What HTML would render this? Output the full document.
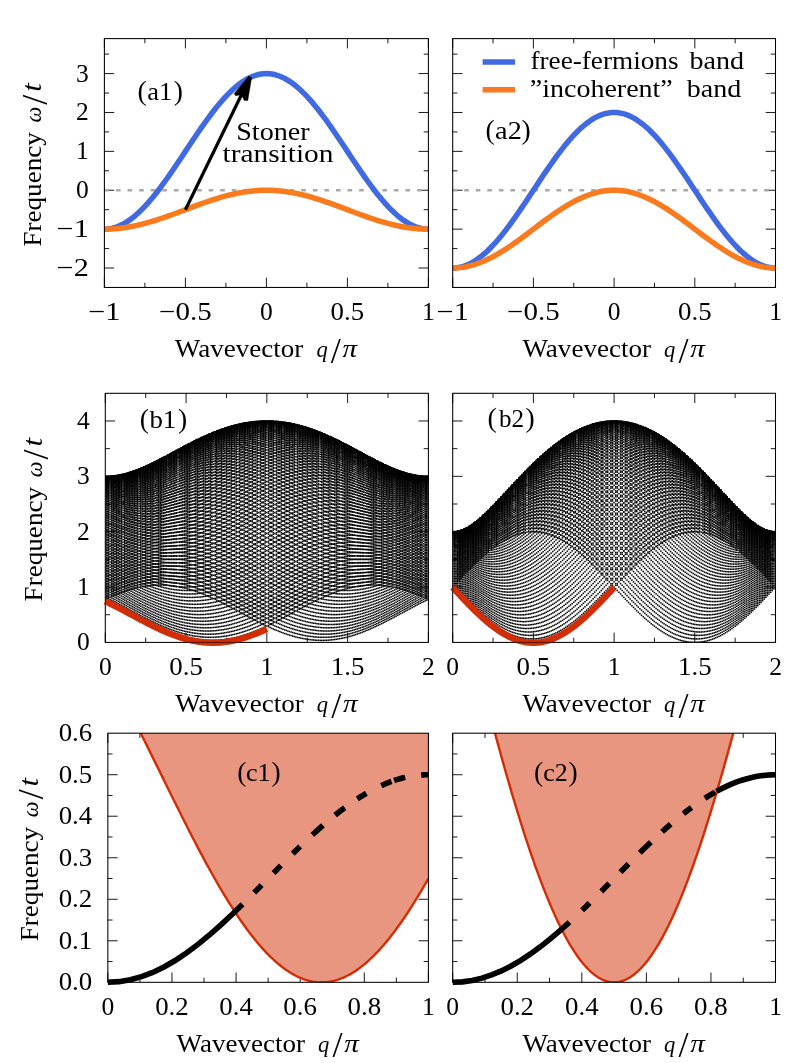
<!DOCTYPE html>
<html><head><meta charset="utf-8"><title>Figure</title>
<style>html,body{margin:0;padding:0;background:#fff}svg{display:block;will-change:transform}text{font-family:"Liberation Serif",serif;fill:#000}</style></head><body>
<svg width="789" height="1063" viewBox="0 0 789 1063">
<rect width="789" height="1063" fill="#fff"/>
<defs>
<clipPath id="cp_a1"><rect x="104.4" y="38.6" width="324" height="248.85"/></clipPath>
<clipPath id="cp_a2"><rect x="452.7" y="38.6" width="322.8" height="248.85"/></clipPath>
<clipPath id="cp_b1"><rect x="105.3" y="393.3" width="323.1" height="249.1"/></clipPath>
<clipPath id="cp_b2"><rect x="452.7" y="393.3" width="322.8" height="249.1"/></clipPath>
<clipPath id="cp_c1"><rect x="107.85" y="733.2" width="320.55" height="249.1"/></clipPath>
<clipPath id="cp_c2"><rect x="452.7" y="733.2" width="322.8" height="249.1"/></clipPath>
<marker id="d" markerUnits="userSpaceOnUse" markerWidth="20" markerHeight="20" refX="10" refY="10" overflow="visible"><rect x="2.5" y="2.5" width="15" height="15" fill="#000"/></marker>
</defs>
<path d="M104.4 287.45 v-9.8 M104.4 38.6 v9.8 M185.4 287.45 v-9.8 M185.4 38.6 v9.8 M266.4 287.45 v-9.8 M266.4 38.6 v9.8 M347.4 287.45 v-9.8 M347.4 38.6 v9.8 M428.4 287.45 v-9.8 M428.4 38.6 v9.8 M144.9 287.45 v-4.7 M144.9 38.6 v4.7 M225.9 287.45 v-4.7 M225.9 38.6 v4.7 M306.9 287.45 v-4.7 M306.9 38.6 v4.7 M387.9 287.45 v-4.7 M387.9 38.6 v4.7 M104.4 268.01 h9.8 M428.4 268.01 h-9.8 M104.4 229.13 h9.8 M428.4 229.13 h-9.8 M104.4 190.24 h9.8 M428.4 190.24 h-9.8 M104.4 151.36 h9.8 M428.4 151.36 h-9.8 M104.4 112.48 h9.8 M428.4 112.48 h-9.8 M104.4 73.59 h9.8 M428.4 73.59 h-9.8 M104.4 248.57 h4.7 M428.4 248.57 h-4.7 M104.4 209.68 h4.7 M428.4 209.68 h-4.7 M104.4 170.8 h4.7 M428.4 170.8 h-4.7 M104.4 131.92 h4.7 M428.4 131.92 h-4.7 M104.4 93.04 h4.7 M428.4 93.04 h-4.7 M104.4 54.15 h4.7 M428.4 54.15 h-4.7" fill="none" stroke="#000" stroke-width="0.9"/>
<path d="M452.7 287.45 v-9.8 M452.7 38.6 v9.8 M533.4 287.45 v-9.8 M533.4 38.6 v9.8 M614.1 287.45 v-9.8 M614.1 38.6 v9.8 M694.8 287.45 v-9.8 M694.8 38.6 v9.8 M775.5 287.45 v-9.8 M775.5 38.6 v9.8 M493.05 287.45 v-4.7 M493.05 38.6 v4.7 M573.75 287.45 v-4.7 M573.75 38.6 v4.7 M654.45 287.45 v-4.7 M654.45 38.6 v4.7 M735.15 287.45 v-4.7 M735.15 38.6 v4.7 M452.7 268.01 h9.8 M775.5 268.01 h-9.8 M452.7 229.13 h9.8 M775.5 229.13 h-9.8 M452.7 190.24 h9.8 M775.5 190.24 h-9.8 M452.7 151.36 h9.8 M775.5 151.36 h-9.8 M452.7 112.48 h9.8 M775.5 112.48 h-9.8 M452.7 73.59 h9.8 M775.5 73.59 h-9.8 M452.7 248.57 h4.7 M775.5 248.57 h-4.7 M452.7 209.68 h4.7 M775.5 209.68 h-4.7 M452.7 170.8 h4.7 M775.5 170.8 h-4.7 M452.7 131.92 h4.7 M775.5 131.92 h-4.7 M452.7 93.04 h4.7 M775.5 93.04 h-4.7 M452.7 54.15 h4.7 M775.5 54.15 h-4.7" fill="none" stroke="#000" stroke-width="0.9"/>
<path d="M105.3 642.4 v-9.8 M105.3 393.3 v9.8 M186.07 642.4 v-9.8 M186.07 393.3 v9.8 M266.85 642.4 v-9.8 M266.85 393.3 v9.8 M347.62 642.4 v-9.8 M347.62 393.3 v9.8 M428.4 642.4 v-9.8 M428.4 393.3 v9.8 M145.69 642.4 v-4.7 M145.69 393.3 v4.7 M226.46 642.4 v-4.7 M226.46 393.3 v4.7 M307.24 642.4 v-4.7 M307.24 393.3 v4.7 M388.01 642.4 v-4.7 M388.01 393.3 v4.7 M105.3 587.04 h9.8 M428.4 587.04 h-9.8 M105.3 531.69 h9.8 M428.4 531.69 h-9.8 M105.3 476.33 h9.8 M428.4 476.33 h-9.8 M105.3 420.98 h9.8 M428.4 420.98 h-9.8 M105.3 614.72 h4.7 M428.4 614.72 h-4.7 M105.3 559.37 h4.7 M428.4 559.37 h-4.7 M105.3 504.01 h4.7 M428.4 504.01 h-4.7 M105.3 448.66 h4.7 M428.4 448.66 h-4.7" fill="none" stroke="#000" stroke-width="0.9"/>
<path d="M452.7 642.4 v-9.8 M452.7 393.3 v9.8 M533.4 642.4 v-9.8 M533.4 393.3 v9.8 M614.1 642.4 v-9.8 M614.1 393.3 v9.8 M694.8 642.4 v-9.8 M694.8 393.3 v9.8 M775.5 642.4 v-9.8 M775.5 393.3 v9.8 M493.05 642.4 v-4.7 M493.05 393.3 v4.7 M573.75 642.4 v-4.7 M573.75 393.3 v4.7 M654.45 642.4 v-4.7 M654.45 393.3 v4.7 M735.15 642.4 v-4.7 M735.15 393.3 v4.7 M452.7 587.04 h9.8 M775.5 587.04 h-9.8 M452.7 531.69 h9.8 M775.5 531.69 h-9.8 M452.7 476.33 h9.8 M775.5 476.33 h-9.8 M452.7 420.98 h9.8 M775.5 420.98 h-9.8 M452.7 614.72 h4.7 M775.5 614.72 h-4.7 M452.7 559.37 h4.7 M775.5 559.37 h-4.7 M452.7 504.01 h4.7 M775.5 504.01 h-4.7 M452.7 448.66 h4.7 M775.5 448.66 h-4.7" fill="none" stroke="#000" stroke-width="0.9"/>
<path d="M107.85 982.3 v-9.8 M107.85 733.2 v9.8 M171.96 982.3 v-9.8 M171.96 733.2 v9.8 M236.07 982.3 v-9.8 M236.07 733.2 v9.8 M300.18 982.3 v-9.8 M300.18 733.2 v9.8 M364.29 982.3 v-9.8 M364.29 733.2 v9.8 M428.4 982.3 v-9.8 M428.4 733.2 v9.8 M139.91 982.3 v-4.7 M139.91 733.2 v4.7 M204.01 982.3 v-4.7 M204.01 733.2 v4.7 M268.12 982.3 v-4.7 M268.12 733.2 v4.7 M332.24 982.3 v-4.7 M332.24 733.2 v4.7 M396.34 982.3 v-4.7 M396.34 733.2 v4.7 M107.85 940.78 h9.8 M428.4 940.78 h-9.8 M107.85 899.27 h9.8 M428.4 899.27 h-9.8 M107.85 857.75 h9.8 M428.4 857.75 h-9.8 M107.85 816.23 h9.8 M428.4 816.23 h-9.8 M107.85 774.72 h9.8 M428.4 774.72 h-9.8 M107.85 961.54 h4.7 M428.4 961.54 h-4.7 M107.85 920.02 h4.7 M428.4 920.02 h-4.7 M107.85 878.51 h4.7 M428.4 878.51 h-4.7 M107.85 836.99 h4.7 M428.4 836.99 h-4.7 M107.85 795.48 h4.7 M428.4 795.48 h-4.7 M107.85 753.96 h4.7 M428.4 753.96 h-4.7" fill="none" stroke="#000" stroke-width="0.9"/>
<path d="M452.7 982.3 v-9.8 M452.7 733.2 v9.8 M517.26 982.3 v-9.8 M517.26 733.2 v9.8 M581.82 982.3 v-9.8 M581.82 733.2 v9.8 M646.38 982.3 v-9.8 M646.38 733.2 v9.8 M710.94 982.3 v-9.8 M710.94 733.2 v9.8 M775.5 982.3 v-9.8 M775.5 733.2 v9.8 M484.98 982.3 v-4.7 M484.98 733.2 v4.7 M549.54 982.3 v-4.7 M549.54 733.2 v4.7 M614.1 982.3 v-4.7 M614.1 733.2 v4.7 M678.66 982.3 v-4.7 M678.66 733.2 v4.7 M743.22 982.3 v-4.7 M743.22 733.2 v4.7 M452.7 940.78 h9.8 M775.5 940.78 h-9.8 M452.7 899.27 h9.8 M775.5 899.27 h-9.8 M452.7 857.75 h9.8 M775.5 857.75 h-9.8 M452.7 816.23 h9.8 M775.5 816.23 h-9.8 M452.7 774.72 h9.8 M775.5 774.72 h-9.8 M452.7 961.54 h4.7 M775.5 961.54 h-4.7 M452.7 920.02 h4.7 M775.5 920.02 h-4.7 M452.7 878.51 h4.7 M775.5 878.51 h-4.7 M452.7 836.99 h4.7 M775.5 836.99 h-4.7 M452.7 795.48 h4.7 M775.5 795.48 h-4.7 M452.7 753.96 h4.7 M775.5 753.96 h-4.7" fill="none" stroke="#000" stroke-width="0.9"/>
<g clip-path="url(#cp_a1)" fill="none">
<line x1="104.4" y1="190.24" x2="428.4" y2="190.24" stroke="#A9A9A9" stroke-width="2.4" stroke-dasharray="4.630 6.950"/>
</g><g fill="none">
<path d="M104.4 229.13 L107.1 229.02 L109.8 228.7 L112.5 228.17 L115.2 227.43 L117.9 226.48 L120.6 225.32 L123.3 223.96 L126 222.4 L128.7 220.65 L131.4 218.71 L134.1 216.58 L136.8 214.27 L139.5 211.8 L142.2 209.15 L144.9 206.35 L147.6 203.4 L150.3 200.3 L153 197.07 L155.7 193.71 L158.4 190.24 L161.1 186.67 L163.8 182.99 L166.5 179.23 L169.2 175.39 L171.9 171.49 L174.6 167.53 L177.3 163.53 L180 159.49 L182.7 155.43 L185.4 151.36 L188.1 147.29 L190.8 143.23 L193.5 139.19 L196.2 135.19 L198.9 131.23 L201.6 127.33 L204.3 123.49 L207 119.73 L209.7 116.06 L212.4 112.48 L215.1 109.01 L217.8 105.65 L220.5 102.42 L223.2 99.32 L225.9 96.37 L228.6 93.57 L231.3 90.92 L234 88.45 L236.7 86.14 L239.4 84.01 L242.1 82.07 L244.8 80.32 L247.5 78.76 L250.2 77.4 L252.9 76.24 L255.6 75.29 L258.3 74.55 L261 74.02 L263.7 73.7 L266.4 73.59 L269.1 73.7 L271.8 74.02 L274.5 74.55 L277.2 75.29 L279.9 76.24 L282.6 77.4 L285.3 78.76 L288 80.32 L290.7 82.07 L293.4 84.01 L296.1 86.14 L298.8 88.45 L301.5 90.92 L304.2 93.57 L306.9 96.37 L309.6 99.32 L312.3 102.42 L315 105.65 L317.7 109.01 L320.4 112.48 L323.1 116.06 L325.8 119.73 L328.5 123.49 L331.2 127.33 L333.9 131.23 L336.6 135.19 L339.3 139.19 L342 143.23 L344.7 147.29 L347.4 151.36 L350.1 155.43 L352.8 159.49 L355.5 163.53 L358.2 167.53 L360.9 171.49 L363.6 175.39 L366.3 179.23 L369 182.99 L371.7 186.67 L374.4 190.24 L377.1 193.71 L379.8 197.07 L382.5 200.3 L385.2 203.4 L387.9 206.35 L390.6 209.15 L393.3 211.8 L396 214.27 L398.7 216.58 L401.4 218.71 L404.1 220.65 L406.8 222.4 L409.5 223.96 L412.2 225.32 L414.9 226.48 L417.6 227.43 L420.3 228.17 L423 228.7 L425.7 229.02 L428.4 229.13" stroke="#4169E1" stroke-width="5.5"/>
<path d="M104.4 229.13 L107.1 229.1 L109.8 229.02 L112.5 228.89 L115.2 228.7 L117.9 228.46 L120.6 228.17 L123.3 227.83 L126 227.44 L128.7 227.01 L131.4 226.52 L134.1 225.99 L136.8 225.41 L139.5 224.79 L142.2 224.13 L144.9 223.43 L147.6 222.69 L150.3 221.92 L153 221.11 L155.7 220.27 L158.4 219.41 L161.1 218.51 L163.8 217.59 L166.5 216.65 L169.2 215.69 L171.9 214.72 L174.6 213.73 L177.3 212.73 L180 211.72 L182.7 210.7 L185.4 209.68 L188.1 208.67 L190.8 207.65 L193.5 206.64 L196.2 205.64 L198.9 204.65 L201.6 203.68 L204.3 202.72 L207 201.78 L209.7 200.86 L212.4 199.96 L215.1 199.1 L217.8 198.26 L220.5 197.45 L223.2 196.68 L225.9 195.94 L228.6 195.24 L231.3 194.58 L234 193.96 L236.7 193.38 L239.4 192.85 L242.1 192.36 L244.8 191.92 L247.5 191.53 L250.2 191.19 L252.9 190.91 L255.6 190.67 L258.3 190.48 L261 190.35 L263.7 190.27 L266.4 190.24 L269.1 190.27 L271.8 190.35 L274.5 190.48 L277.2 190.67 L279.9 190.91 L282.6 191.19 L285.3 191.53 L288 191.92 L290.7 192.36 L293.4 192.85 L296.1 193.38 L298.8 193.96 L301.5 194.58 L304.2 195.24 L306.9 195.94 L309.6 196.68 L312.3 197.45 L315 198.26 L317.7 199.1 L320.4 199.96 L323.1 200.86 L325.8 201.78 L328.5 202.72 L331.2 203.68 L333.9 204.65 L336.6 205.64 L339.3 206.64 L342 207.65 L344.7 208.67 L347.4 209.68 L350.1 210.7 L352.8 211.72 L355.5 212.73 L358.2 213.73 L360.9 214.72 L363.6 215.69 L366.3 216.65 L369 217.59 L371.7 218.51 L374.4 219.41 L377.1 220.27 L379.8 221.11 L382.5 221.92 L385.2 222.69 L387.9 223.43 L390.6 224.13 L393.3 224.79 L396 225.41 L398.7 225.99 L401.4 226.52 L404.1 227.01 L406.8 227.44 L409.5 227.83 L412.2 228.17 L414.9 228.46 L417.6 228.7 L420.3 228.89 L423 229.02 L425.7 229.1 L428.4 229.13" stroke="#F97B1E" stroke-width="5.5"/>
</g>
<g clip-path="url(#cp_a2)" fill="none">
<line x1="452.7" y1="190.24" x2="775.5" y2="190.24" stroke="#A9A9A9" stroke-width="2.4" stroke-dasharray="4.613 6.924"/>
</g><g fill="none">
<path d="M452.7 268.01 L455.39 267.9 L458.08 267.58 L460.77 267.05 L463.46 266.31 L466.15 265.36 L468.84 264.2 L471.53 262.84 L474.22 261.29 L476.91 259.53 L479.6 257.59 L482.29 255.46 L484.98 253.16 L487.67 250.68 L490.36 248.03 L493.05 245.23 L495.74 242.28 L498.43 239.18 L501.12 235.95 L503.81 232.6 L506.5 229.13 L509.19 225.55 L511.88 221.87 L514.57 218.11 L517.26 214.27 L519.95 210.37 L522.64 206.41 L525.33 202.41 L528.02 198.37 L530.71 194.31 L533.4 190.24 L536.09 186.17 L538.78 182.11 L541.47 178.08 L544.16 174.07 L546.85 170.12 L549.54 166.21 L552.23 162.37 L554.92 158.61 L557.61 154.94 L560.3 151.36 L562.99 147.89 L565.68 144.53 L568.37 141.3 L571.06 138.21 L573.75 135.25 L576.44 132.45 L579.13 129.81 L581.82 127.33 L584.51 125.02 L587.2 122.9 L589.89 120.95 L592.58 119.2 L595.27 117.64 L597.96 116.28 L600.65 115.13 L603.34 114.18 L606.03 113.43 L608.72 112.9 L611.41 112.58 L614.1 112.48 L616.79 112.58 L619.48 112.9 L622.17 113.43 L624.86 114.18 L627.55 115.13 L630.24 116.28 L632.93 117.64 L635.62 119.2 L638.31 120.95 L641 122.9 L643.69 125.02 L646.38 127.33 L649.07 129.81 L651.76 132.45 L654.45 135.25 L657.14 138.21 L659.83 141.3 L662.52 144.53 L665.21 147.89 L667.9 151.36 L670.59 154.94 L673.28 158.61 L675.97 162.37 L678.66 166.21 L681.35 170.12 L684.04 174.07 L686.73 178.08 L689.42 182.11 L692.11 186.17 L694.8 190.24 L697.49 194.31 L700.18 198.37 L702.87 202.41 L705.56 206.41 L708.25 210.37 L710.94 214.27 L713.63 218.11 L716.32 221.87 L719.01 225.55 L721.7 229.13 L724.39 232.6 L727.08 235.95 L729.77 239.18 L732.46 242.28 L735.15 245.23 L737.84 248.03 L740.53 250.68 L743.22 253.16 L745.91 255.46 L748.6 257.59 L751.29 259.53 L753.98 261.29 L756.67 262.84 L759.36 264.2 L762.05 265.36 L764.74 266.31 L767.43 267.05 L770.12 267.58 L772.81 267.9 L775.5 268.01" stroke="#4169E1" stroke-width="5.5"/>
<path d="M452.7 268.01 L455.39 267.96 L458.08 267.8 L460.77 267.53 L463.46 267.16 L466.15 266.68 L468.84 266.11 L471.53 265.43 L474.22 264.65 L476.91 263.77 L479.6 262.8 L482.29 261.74 L484.98 260.58 L487.67 259.34 L490.36 258.02 L493.05 256.62 L495.74 255.14 L498.43 253.6 L501.12 251.98 L503.81 250.3 L506.5 248.57 L509.19 246.78 L511.88 244.94 L514.57 243.06 L517.26 241.14 L519.95 239.19 L522.64 237.21 L525.33 235.21 L528.02 233.19 L530.71 231.16 L533.4 229.13 L536.09 227.09 L538.78 225.06 L541.47 223.04 L544.16 221.04 L546.85 219.06 L549.54 217.11 L552.23 215.19 L554.92 213.31 L557.61 211.47 L560.3 209.68 L562.99 207.95 L565.68 206.27 L568.37 204.66 L571.06 203.11 L573.75 201.63 L576.44 200.23 L579.13 198.91 L581.82 197.67 L584.51 196.52 L587.2 195.45 L589.89 194.48 L592.58 193.6 L595.27 192.83 L597.96 192.15 L600.65 191.57 L603.34 191.09 L606.03 190.72 L608.72 190.46 L611.41 190.3 L614.1 190.24 L616.79 190.3 L619.48 190.46 L622.17 190.72 L624.86 191.09 L627.55 191.57 L630.24 192.15 L632.93 192.83 L635.62 193.6 L638.31 194.48 L641 195.45 L643.69 196.52 L646.38 197.67 L649.07 198.91 L651.76 200.23 L654.45 201.63 L657.14 203.11 L659.83 204.66 L662.52 206.27 L665.21 207.95 L667.9 209.68 L670.59 211.47 L673.28 213.31 L675.97 215.19 L678.66 217.11 L681.35 219.06 L684.04 221.04 L686.73 223.04 L689.42 225.06 L692.11 227.09 L694.8 229.13 L697.49 231.16 L700.18 233.19 L702.87 235.21 L705.56 237.21 L708.25 239.19 L710.94 241.14 L713.63 243.06 L716.32 244.94 L719.01 246.78 L721.7 248.57 L724.39 250.3 L727.08 251.98 L729.77 253.6 L732.46 255.14 L735.15 256.62 L737.84 258.02 L740.53 259.34 L743.22 260.58 L745.91 261.74 L748.6 262.8 L751.29 263.77 L753.98 264.65 L756.67 265.43 L759.36 266.11 L762.05 266.68 L764.74 267.16 L767.43 267.53 L770.12 267.8 L772.81 267.96 L775.5 268.01" stroke="#F97B1E" stroke-width="5.5"/>
</g>
<line x1="185.4" y1="209.68" x2="247.67" y2="81.99" stroke="#000" stroke-width="3.2"/>
<path d="M248.83 75.9 L251.62 77.67 L247.81 100.49 L244.27 100.49 L242.74 97.45 L240.21 94.91 L235.65 95.67 L234.13 93.64 Z" fill="#000" stroke="#000" stroke-width="0.4" stroke-linejoin="round"/>
<line x1="482.6" y1="62" x2="515.1" y2="62" stroke="#4169E1" stroke-width="5.5"/>
<line x1="482.6" y1="89.8" x2="515.1" y2="89.8" stroke="#F97B1E" stroke-width="5.5"/>
<g clip-path="url(#cp_b1)"><path transform="scale(0.1)" d="M1053 4763v1 1 2 3 4 4 5 6 7 8 8 10 10 10 12 12 13 14 14 15 16 16 17 17 19 18 20 19 21 21 21 22 22 23 23 23 24 24 24 25 25 25 26 25 26 26 26 26 26 26 26 26 26 26 26 25 26 25 25 25 25 24 24 24 24 23M1069 4763v1 1 1 2 1 2 1 3 1 4 1 4 2 4 3 5 2 6 2 6 3 7 3 7 4 7 4 8 4 8 4 9 5 9 5 10 5 10 5 11 5 11 6 11 6 12 6 13 6 13 6 13 7 13 7 14 6 15 7 14 7 15 7 15 8 15 8 15 8 16 8 16 8 16 8 17 8 16 9 16 9 17 8 17 9 17 8 17 9 17 9 17 9 17 9 17 9 17 9 17 9 17 9 17 9 17 9 17 9 17 8 17 9 17 8 17 8 17 8 16 8 16 9 15 8 16 8 15 8 15M1085 4763v1 1 1 1 1 2 2 2 2 3 2 4 2 4 2 5 3 5 3 6 3 6 4 6 4 7 4 8 4 9 4 9 4 10 4 10 5 10 6 10 6 11 6 11 6 12 6 12 6 13 7 13 6 14 6 14 7 14 7 15 7 15 7 15 8 15 8 15 8 16 8 16 8 16 8 16 9 16 8 17 9 16 9 17 8 18 8 17 9 17 9 17 9 17 9 17 9 17 9 17 9 18 8 18 8 17 9 17 9 17 8 17 9 17 8 17 8 17 8 16 8 17 8 16 8 15 8 16 7 23M1101 4762v1 2 3 4 4 6 6 7 7 9 9 10 11 11 13 13 13 15 15 15 17 17 17 18 19 19 1 19 21 21 21 22 22 23 23 23 1 23 24 25 24 1 24 1 25 25 26 25 1 25 26 26 1 25 1 26 26 26 26 26 26 25 1 25 25 1 25 25 24 1 24 24 24 23 23 23M1118 4760v1 1 1 2 1 2 1 3 2 3 2 3 3 4 2 5 3 5 3 6 3 6 4 6 4 7 4 8 4 9 4 9 5 9 5 9 6 10 5 11 5 11 6 11 6 12 6 13 6 13 6 13 7 13 7 14 7 14 7 14 8 14 8 15 8 15 8 15 8 16 8 16 8 16 8 16 9 16 9 16 9 17 9 16 9 17 9 17 9 17 9 17 9 17 9 17 9 17 9 17 9 17 10 17 9 17 9 16 9 17 9 17 9 16 9 16 9 16 9 16 8 16 9 15 9 15 8 16 23 22M1134 4759v1 1 1 1 1 3 1 3 1 3 2 4 2 4 2 6 2 6 2 6 3 7 3 7 3 8 4 8 4 9 3 10 4 10 4 10 5 11 4 12 5 11 5 13 5 12 6 13 6 13 6 13 6 15 6 14 7 14 7 15 7 15 7 16 6 17 7 16 7 16 8 17 7 17 7 17 8 17 8 18 7 18 8 17 8 18 8 18 8 18 8 18 8 18 8 19 8 18 8 18 8 18 8 18 8 18 8 18 8 18 8 18 7 18 8 17 8 17 8 17 7 17 8 17 7 16 8 23 23 22M1150 4757v1 1 1 1 2 1 3 5 5 6 7 8 8 1 8 1 9 1 10 1 11 12 1 12 1 13 14 1 14 1 15 1 15 1 16 1 17 1 17 1 18 1 19 1 19 1 19 1 20 1 21 1 21 1 21 1 22 1 22 1 23 1 23 1 23 1 24 1 23 2 24 1 24 1 24 2 24 2 24 1 25 1 25 2 24 2 25 1 25 1 25 2 25 1 25 1 25 1 25 1 25 1 25 1 24 1 24 2 24 1 23 2 23 1 23 2 22 2 22 23 23 22M1166 4755v1 1 1 1 1 2 2 2 2 3 2 3 3 4 3 4 3 5 4 5 4 5 4 7 4 7 4 7 6 7 5 8 6 8 6 9 6 9 7 9 7 10 7 10 8 10 8 11 8 11 8 12 8 12 8 12 9 13 9 12 10 13 9 13 10 13 10 14 9 14 10 14 11 14 10 15 10 15 10 15 11 14 11 15 11 15 11 15 11 15 11 15 11 16 11 15 11 15 11 16 11 15 11 15 11 15 11 16 10 15 11 15 11 15 10 15 11 14 11 14 10 15 10 14 10 14 23 24 22 23M1182 4752v1 1 1 2 3 1 3 1 4 1 4 2 5 1 6 2 6 2 7 2 8 2 8 3 8 3 9 3 10 3 10 3 12 3 11 4 12 3 13 3 14 3 14 4 14 4 15 4 15 4 16 4 16 4 17 4 17 5 17 5 17 5 18 5 18 5 19 5 19 5 19 5 19 6 19 6 19 6 20 5 20 6 20 6 20 6 20 6 21 5 21 5 21 6 21 5 21 6 21 5 21 5 21 6 21 5 21 5 21 5 20 6 20 5 21 5 20 5 20 5 19 5 20 5 24 23 23 23 22M1198 4749v1 1 1 1 2 1 3 1 3 1 5 1 5 1 6 1 6 2 7 2 7 2 8 2 9 2 10 2 10 2 11 3 11 3 12 2 13 3 13 3 13 3 14 3 15 3 16 3 16 3 16 4 16 4 17 4 17 4 18 4 18 4 19 4 19 4 19 4 20 4 20 4 21 4 20 5 20 5 21 4 21 5 21 5 21 5 21 5 21 5 22 4 22 5 22 4 22 5 22 5 21 5 22 4 22 5 22 4 22 4 22 4 22 4 21 5 21 4 21 4 21 4 20 4 20 24 24 23 22 23M1215 4745v1 1 1 1 1 1 2 2 2 2 3 3 2 4 3 4 3 4 4 5 4 5 4 6 5 6 5 6 6 7 5 8 6 7 7 8 6 9 7 9 7 9 8 10 7 10 8 11 8 11 8 11 9 12 8 12 9 12 10 12 10 12 10 13 10 13 10 13 11 13 11 14 10 14 11 14 11 14 11 15 11 14 11 15 11 15 11 15 12 15 11 15 12 15 11 15 12 15 11 16 11 15 12 15 11 15 12 15 11 15 11 15 11 15 11 15 11 14 11 15 10 15 10 14 11 24 24 23 23 23 22M1231 4742v1 1 3 3 4 1 4 1 5 7 7 1 8 9 10 10 12 12 13 13 15 15 15 1 16 17 17 1 18 19 19 1 19 1 20 21 22 22 22 1 22 1 23 24 24 24 1 24 1 24 1 25 26 26 26 26 26 1 26 27 26 1 26 1 26 27 26 1 26 26 1 26 26 1 25 1 25 1 25 25 1 25 24 1 24 25 24 23 23 23 22M1247 4738v1 1 1 1 2 1 3 1 3 2 3 3 3 3 4 3 5 3 6 3 6 4 6 4 7 5 7 5 7 5 8 6 8 6 9 6 9 6 10 7 10 7 10 7 11 7 12 7 12 8 12 8 12 8 13 8 13 9 13 9 14 9 13 10 14 9 14 10 14 10 15 10 15 10 15 10 15 10 16 10 16 10 16 10 16 11 15 11 16 11 16 11 16 10 16 11 16 11 16 11 16 11 16 11 16 10 16 11 16 10 16 11 15 11 15 11 15 10 15 11 15 10 15 24 24 24 24 23 22 22M1263 4734v1 2 1 2 1 3 4 1 5 1 5 1 6 1 7 1 8 1 8 2 8 2 9 2 10 2 11 2 11 2 12 3 12 2 14 2 14 2 15 2 15 3 15 3 16 3 16 3 17 3 18 3 18 3 18 4 18 4 19 4 19 4 19 4 20 4 21 3 21 4 21 4 21 4 22 4 22 4 22 4 22 4 22 5 22 4 23 4 23 4 23 4 23 4 23 4 23 4 23 4 22 5 22 5 22 4 23 4 22 4 23 4 22 4 21 4 22 4 21 4 25 25 24 24 23 23 23 22M1279 4729v1 1 1 2 1 2 1 3 2 3 2 4 2 5 2 5 2 6 3 6 3 7 3 8 3 8 4 9 3 10 4 9 4 11 4 11 5 11 5 11 5 12 6 12 6 13 5 14 6 14 6 14 6 15 6 15 7 15 7 16 6 16 7 17 7 16 8 17 7 17 7 18 7 18 8 18 7 19 7 19 7 19 8 18 8 19 8 19 8 19 8 19 8 19 8 19 8 19 8 19 8 19 9 19 8 19 8 18 8 19 8 19 7 19 8 18 8 18 8 18 7 18 25 24 25 24 23 23 23 22M1295 4724v1 1 1 2 1 2 1 3 2 3 2 4 2 5 2 6 1 7 2 7 2 8 2 9 2 9 3 10 3 10 3 11 3 11 4 11 4 12 4 13 4 13 4 14 5 14 4 15 5 15 5 15 5 16 5 17 5 17 5 18 5 18 5 18 6 18 6 18 6 19 6 19 6 19 6 20 6 20 6 20 6 21 6 20 6 21 6 21 6 21 6 21 7 21 6 21 6 21 6 21 7 21 6 21 6 21 6 21 6 21 6 21 6 20 6 20 6 20 6 20 6 25 25 25 24 24 24 23 22 22M1311 4719v1 1 1 1 2 1 3 1 4 1 4 2 4 2 6 2 6 2 6 3 7 3 7 3 9 3 9 3 9 4 10 4 10 4 11 4 12 4 12 5 12 5 13 5 14 4 15 5 14 5 15 6 15 6 16 5 17 5 17 6 17 6 17 6 18 6 18 7 18 6 19 7 18 7 19 7 19 7 19 7 20 7 19 7 20 7 20 7 21 7 20 7 20 7 21 7 20 7 21 7 20 7 20 8 20 7 20 7 20 7 20 7 20 7 19 7 20 6 20 6 19 26 25 25 24 24 23 23 23 22M1328 4713v1 1 2 1 2 1 3 1 3 2 4 1 5 2 5 2 7 2 6 3 7 2 9 2 9 3 9 3 10 3 10 4 11 3 12 3 13 3 13 4 13 5 13 5 14 4 15 5 15 4 16 5 16 5 17 5 17 5 17 6 17 6 18 5 19 5 19 6 19 6 19 6 20 6 19 7 20 6 20 6 21 6 20 7 21 6 21 6 21 7 21 6 21 7 21 6 21 7 21 7 21 6 21 7 21 6 21 7 20 7 21 6 20 7 20 6 21 6 20 6 26 25 25 25 25 24 23 23 23 22M1344 4708v1 1 1 2 1 2 1 3 2 3 2 4 2 5 2 6 2 6 3 7 2 8 3 8 3 8 4 9 4 9 4 10 4 11 4 12 4 12 5 12 5 12 6 13 5 14 5 14 6 14 6 15 6 16 6 15 7 16 7 16 7 16 7 17 7 18 7 17 8 17 8 18 7 19 7 19 8 18 8 19 8 19 8 19 8 19 8 20 8 19 8 20 8 20 8 20 8 20 8 19 8 20 8 20 8 19 9 19 8 19 8 20 7 20 7 19 8 19 7 19 26 26 25 25 24 24 24 23 22 22M1360 4702v1 1 1 2 3 1 4 5 1 5 1 6 1 7 1 7 2 8 1 9 2 9 2 10 2 10 3 11 2 12 2 13 2 14 2 14 3 14 3 15 3 15 4 16 3 16 4 17 3 18 3 18 4 18 4 19 4 19 4 20 4 20 4 20 4 21 4 22 4 21 4 22 5 22 4 22 5 22 5 22 5 23 4 23 5 23 4 24 4 23 5 23 5 23 5 23 5 23 5 23 5 23 5 23 5 23 4 23 5 23 4 23 4 23 4 22 5 26 26 26 25 25 25 24 23 23 23 22M1376 4696v1 1 1 1 2 1 3 2 2 3 3 3 3 3 5 3 5 3 6 4 6 4 6 5 7 5 7 5 8 5 9 6 8 6 10 6 10 6 11 7 10 7 11 8 11 8 12 8 12 8 13 8 13 9 13 9 13 9 14 10 14 9 15 9 15 10 15 10 15 10 16 10 16 10 16 11 16 11 16 11 16 11 16 11 17 11 17 11 16 12 16 12 17 11 17 11 17 11 17 12 16 12 17 11 17 11 17 11 16 12 16 11 16 12 16 11 16 11 16 26 26 26 25 25 25 24 24 23 23 22M1392 4689v1 1 2 3 4 5 6 7 7 8 1 9 10 11 11 13 13 14 15 16 16 17 18 18 19 20 20 1 20 1 21 22 23 23 24 24 25 25 25 1 25 1 26 26 27 27 28 27 1 27 28 28 28 1 28 28 29 28 28 1 28 28 28 28 28 27 1 27 27 27 27 26 26 25 26 24 24 24 23 23 22M1408 4683v1 1 1 1 2 2 2 2 3 2 3 3 4 3 4 3 5 4 5 4 6 5 6 5 7 5 7 6 7 6 9 5 9 7 9 6 10 7 10 7 11 7 11 8 12 7 12 9 12 8 13 9 12 9 14 9 13 10 14 9 15 9 15 10 15 10 15 10 15 11 16 10 16 11 16 11 16 11 16 11 16 12 16 12 16 12 16 12 17 11 17 12 17 11 17 12 17 11 17 12 17 12 17 11 17 12 16 12 17 11 17 11 17 11 16 11 17 11 27 26 27 26 25 26 24 25 24 23 23 22M1425 4676v1 1 1 2 1 2 1 4 1 4 1 5 2 5 2 6 2 7 2 8 2 8 3 9 2 10 3 10 3 11 3 11 4 12 3 13 3 14 4 13 4 15 4 15 4 15 5 16 4 17 4 17 5 17 5 18 5 18 5 19 5 19 6 19 6 19 6 20 6 20 6 20 6 21 6 21 6 22 6 21 7 21 6 22 7 22 6 22 6 23 6 22 7 22 7 22 6 23 6 23 6 23 6 22 7 22 6 22 7 22 6 22 6 22 6 22 6 21 27 27 27 26 25 26 25 24 24 23 23 22M1441 4669v1 1 1 2 1 3 4 1 5 6 1 6 1 7 1 8 1 9 1 9 2 10 1 11 2 11 2 12 2 13 2 14 2 14 2 15 2 16 2 16 3 16 3 17 3 18 2 19 3 18 3 20 3 20 3 20 3 21 3 22 3 22 3 22 4 22 3 23 4 23 3 24 4 23 4 24 4 24 3 25 4 24 4 25 4 24 4 25 4 25 4 25 4 25 4 25 4 25 4 25 4 25 4 25 4 25 4 24 4 25 3 25 4 24 3 28 27 27 27 26 26 26 25 24 24 24 23 22M1457 4662v1 1 1 1 2 2 2 2 3 2 3 4 3 4 3 5 4 5 4 5 5 6 5 6 6 7 6 7 6 8 6 8 7 9 7 9 8 9 8 10 8 10 9 11 9 11 9 11 10 11 10 12 10 13 10 13 10 13 11 13 12 13 11 14 12 13 13 13 13 14 12 15 12 15 13 14 13 15 13 15 13 15 14 15 13 16 13 16 13 16 13 16 13 16 14 15 14 15 14 16 13 16 14 15 14 15 14 15 14 15 13 16 13 15 13 15 13 28 28 27 26 27 26 25 26 24 24 24 23 22M1473 4654v1 1 2 1 2 1 3 1 4 1 5 1 6 1 7 1 7 2 8 2 8 2 9 3 9 3 10 3 11 3 11 4 12 3 13 3 14 3 14 4 15 4 15 4 16 4 16 5 16 5 17 5 17 5 18 5 19 5 19 5 19 6 20 5 20 6 20 6 21 6 21 6 21 6 21 6 22 6 22 7 22 6 23 6 22 7 22 7 23 6 23 7 22 7 23 6 23 7 23 6 23 7 23 6 23 7 22 7 23 6 22 7 22 6 23 6 22 28 27 28 27 26 26 26 25 25 24 24 23 23M1489 4647v1 3 3 4 5 1 5 1 6 1 7 9 9 1 10 11 1 11 1 12 1 13 1 14 1 14 2 15 1 16 1 17 1 17 2 18 1 19 1 19 2 20 1 21 1 21 2 21 2 22 2 22 2 23 2 24 1 24 2 25 2 24 2 26 1 26 2 26 2 26 2 26 2 27 2 27 2 27 2 27 3 27 2 28 2 27 2 28 2 28 2 27 2 28 2 28 2 27 2 28 2 27 2 27 2 27 2 27 2 28 28 28 28 27 27 26 26 25 25 24 24 23 23M1505 4639v1 1 2 1 2 1 3 1 4 2 4 2 5 2 5 3 6 3 7 3 7 4 7 4 9 4 9 4 10 4 10 5 11 5 11 6 11 6 12 6 13 6 13 7 13 7 14 7 14 8 14 8 15 8 15 8 16 9 16 8 17 8 17 9 17 9 18 9 18 9 18 9 18 10 18 10 19 9 19 10 19 10 19 10 20 10 19 10 20 10 20 10 20 10 20 10 20 10 20 10 20 10 19 11 19 10 20 10 20 10 19 10 19 10 19 10 29 28 28 28 27 27 26 26 26 25 24 24 23 23M1521 4631v1 2 2 2 2 2 2 2 4 2 4 3 5 3 5 3 6 4 6 4 7 5 7 5 7 6 8 6 8 7 9 6 10 6 11 7 10 8 11 7 12 8 12 8 12 9 12 9 13 9 14 9 14 10 14 10 14 10 15 10 15 11 15 11 16 11 16 11 16 11 17 11 17 11 17 12 17 12 17 12 17 12 17 13 17 12 18 12 18 12 18 12 18 13 17 13 18 12 18 12 18 12 18 12 18 12 18 12 18 12 17 12 18 12 17 29 28 28 28 28 27 26 26 26 25 25 24 23 23M1538 4623v1 2 3 3 1 4 1 5 1 5 2 6 1 7 2 8 1 9 2 9 2 10 2 11 2 12 2 12 3 13 3 13 3 14 3 15 3 15 4 16 3 17 4 17 4 17 4 18 4 19 4 20 4 20 4 20 5 20 5 21 5 21 5 22 5 22 5 23 5 23 5 23 5 24 5 24 5 24 5 24 6 24 6 24 5 25 6 24 6 25 5 25 6 25 5 25 6 25 5 25 6 24 6 25 5 25 5 25 5 25 5 24 5 24 29 29 29 28 27 27 27 26 26 26 24 24 24 23M1554 4615v1 2 3 4 4 1 5 7 8 8 10 10 11 1 11 1 13 14 14 1 15 16 1 17 18 19 19 1 19 1 21 21 1 22 23 23 1 24 25 25 1 25 1 25 1 26 1 27 1 27 28 1 27 1 28 1 28 1 29 1 29 1 29 1 29 1 29 1 30 1 29 1 30 1 30 1 30 30 1 30 1 30 1 29 1 29 1 30 1 29 1 28 1 30 29 29 29 28 28 27 27 26 26 26 25 24 24 23M1570 4607v1 2 2 1 3 1 4 1 5 1 5 2 6 2 6 2 8 2 8 3 9 2 10 3 10 3 11 3 12 3 12 4 13 4 13 4 14 5 14 5 15 4 16 5 17 4 17 5 18 5 18 5 19 5 19 6 19 6 20 6 20 6 21 6 21 6 21 7 21 7 22 6 23 6 23 6 23 7 23 7 23 7 23 7 24 6 24 7 24 7 24 7 24 7 24 7 24 7 24 7 24 6 25 6 24 7 24 7 23 7 24 6 24 6 30 30 29 28 29 28 27 28 26 26 26 25 24 24 23M1586 4599v1 1 1 2 1 3 1 3 2 4 2 5 2 5 3 6 3 6 4 7 4 7 5 7 5 8 6 8 6 9 6 10 6 11 6 11 7 11 8 11 8 12 8 13 8 13 8 14 9 13 9 15 9 15 9 15 10 15 10 16 10 17 10 16 11 17 10 17 11 18 11 17 11 18 12 18 11 18 12 18 12 18 12 19 12 19 12 18 12 19 13 19 12 19 12 19 12 19 12 19 13 19 12 19 12 19 12 19 12 19 11 19 12 18 12 30 30 29 29 29 28 28 27 27 26 26 25 25 24 23M1602 4590v1 1 1 1 1 2 2 2 3 3 2 4 3 4 3 5 4 5 5 5 5 6 5 7 6 7 6 7 7 8 7 8 8 9 7 10 8 10 8 10 9 11 9 11 10 11 10 12 10 12 11 13 10 13 12 13 11 14 12 14 12 14 12 15 12 15 13 15 13 15 13 15 14 16 13 16 14 16 13 17 14 16 14 17 14 17 14 17 14 17 14 17 14 17 15 17 14 17 15 17 14 17 15 17 14 17 15 16 15 17 14 17 14 16 14 17 30 30 29 30 28 29 28 27 27 27 26 25 25 24 23M1618 4582v1 1 2 1 2 1 3 2 4 2 4 2 5 3 5 3 7 3 7 3 8 4 8 4 9 4 10 4 10 5 11 5 11 6 12 6 12 6 13 6 14 6 14 7 14 8 14 8 15 8 16 7 17 8 16 9 17 8 18 8 18 9 18 9 19 9 19 9 19 10 19 10 19 10 20 10 20 10 20 10 21 10 21 10 21 10 21 11 21 10 21 11 21 10 22 10 21 11 21 11 21 10 22 10 21 11 21 10 21 10 21 11 20 10 21 30 31 29 30 29 28 29 27 27 27 26 26 25 24 24M1635 4573v1 1 2 1 3 1 3 1 5 1 5 2 5 2 7 2 7 2 8 3 9 2 10 3 10 3 11 3 12 3 13 3 13 4 14 4 14 4 15 4 16 5 16 4 17 5 18 5 18 5 18 5 20 5 19 6 20 6 20 6 21 6 21 6 22 6 22 6 23 6 23 7 23 6 24 6 24 7 24 6 25 6 25 6 25 7 25 6 25 7 25 7 25 7 25 7 25 7 25 7 25 7 25 7 25 7 25 7 24 7 25 7 24 7 24 31 30 30 30 29 29 28 28 28 26 27 25 25 25 24M1651 4565v2 2 4 4 1 4 1 6 1 6 1 8 1 8 2 9 1 10 2 10 2 12 1 13 2 13 2 14 2 15 2 15 3 16 2 17 3 18 2 18 3 19 3 20 2 21 3 21 3 21 3 22 4 22 3 24 3 24 3 24 4 24 4 25 3 26 3 26 4 26 4 26 4 27 4 27 3 28 4 27 4 28 4 28 4 28 4 28 4 28 4 28 4 29 4 28 4 28 4 29 3 29 4 28 4 28 3 28 4 28 3 28 31 30 31 30 29 29 29 28 27 27 27 26 25 25 24M1667 4556v1 1 3 3 5 5 1 6 7 1 8 10 10 1 11 12 1 12 1 14 15 1 15 1 16 1 17 1 18 1 18 1 20 1 20 1 21 1 21 1 23 1 23 1 24 1 24 1 25 1 26 1 26 1 27 1 27 1 28 1 28 2 28 1 29 1 29 2 29 2 29 2 30 1 31 1 31 1 31 1 31 1 31 2 31 1 31 2 31 1 32 1 31 2 31 1 31 1 31 2 30 2 30 2 30 1 30 32 30 31 30 30 29 29 28 28 27 27 26 26 24 24M1683 4547v1 1 3 4 4 6 7 7 9 10 10 12 12 1 13 14 1 15 16 17 18 19 20 20 1 21 22 23 23 1 24 25 25 1 25 1 26 1 27 28 28 1 28 1 29 30 30 1 30 31 1 31 31 1 31 1 31 1 32 32 1 32 33 33 32 1 32 1 32 1 32 33 32 1 32 32 32 32 31 31 31 30 30 30 29 28 28 28 27 26 26 25 24M1699 4539v2 2 4 5 5 1 6 8 8 1 9 1 10 11 1 12 1 13 1 13 1 15 1 15 1 16 1 18 1 18 1 19 1 19 1 21 1 21 1 22 1 23 1 23 2 24 1 24 2 25 1 26 1 27 1 27 1 28 1 28 2 28 1 29 2 28 2 29 2 30 2 29 2 30 2 31 1 31 2 31 2 31 1 31 2 32 1 32 1 32 2 31 2 31 2 31 2 31 2 31 2 30 2 31 2 30 2 32 32 31 31 30 31 29 30 28 29 27 27 27 26 25 24M1715 4530v1 1 3 3 1 4 6 6 1 7 1 8 1 9 10 1 11 1 12 1 13 1 13 2 14 1 15 2 16 1 17 2 17 2 18 2 19 2 20 2 20 2 22 1 23 2 22 2 24 2 24 2 24 3 25 2 26 2 26 2 27 2 28 2 28 2 28 2 29 2 29 3 29 2 30 2 30 2 30 3 30 3 30 3 30 3 30 3 31 2 31 3 30 3 31 2 31 3 30 3 31 2 31 2 31 2 30 3 30 2 33 32 31 31 31 31 30 29 29 29 28 27 27 26 25 25M1732 4521v1 1 1 2 4 4 1 5 1 6 8 9 9 1 10 1 11 1 12 1 13 1 14 1 14 2 15 1 16 2 17 2 17 2 18 2 19 2 20 2 21 2 21 2 23 2 22 3 23 2 24 3 24 3 25 2 26 2 27 2 27 2 28 2 28 2 28 3 29 2 29 3 29 3 29 3 30 2 30 3 30 3 30 3 31 3 30 3 31 3 31 2 31 3 31 3 31 2 31 3 31 3 30 3 30 3 30 3 30 3 32 32 32 32 31 31 30 30 29 28 29 27 27 26 26 25M1748 4513v2 2 1 3 5 6 6 1 7 1 8 1 9 1 10 1 11 1 12 1 13 1 14 1 15 1 16 1 16 2 17 1 18 2 19 1 20 2 20 2 21 2 21 2 23 2 23 2 24 2 24 2 25 2 26 2 26 3 26 3 27 2 28 2 28 3 28 3 28 3 29 3 29 3 30 2 31 2 31 2 31 2 31 3 31 2 32 2 31 3 31 3 31 3 31 3 31 3 31 3 31 2 31 3 31 3 30 3 30 3 33 32 32 32 31 31 31 30 29 29 28 28 27 27 26 25M1764 4504v1 1 3 3 1 4 1 5 7 8 9 10 1 10 1 11 1 12 1 13 1 14 1 15 1 16 1 17 1 18 1 19 1 19 1 20 2 21 1 22 1 22 2 23 1 24 2 24 2 25 1 26 2 26 2 27 2 27 2 28 1 29 2 29 2 29 2 30 1 31 1 31 2 31 2 31 2 31 2 32 1 32 2 32 2 32 2 32 2 33 1 33 2 32 2 32 2 32 2 32 2 32 2 32 2 31 2 32 2 33 32 33 32 31 31 31 30 30 29 29 28 27 27 26 25M1780 4495v1 1 3 4 5 6 7 8 9 10 11 12 1 13 14 15 16 17 18 19 20 21 21 23 23 24 25 25 26 1 26 1 27 28 29 29 1 29 1 30 31 31 1 31 1 31 1 32 33 33 1 33 34 34 34 34 1 33 1 34 34 1 34 34 1 34 34 1 33 1 33 1 33 34 33 33 33 32 32 32 31 30 30 29 29 28 28 27 26 26M1796 4487v2 2 1 3 5 6 7 8 1 8 1 10 11 12 1 12 1 14 15 1 15 1 16 1 18 19 20 1 20 21 1 22 1 22 1 23 1 24 1 25 1 25 2 26 1 26 2 27 1 28 1 29 1 29 1 29 2 30 1 30 2 30 2 31 1 32 1 32 2 32 1 32 2 33 1 33 1 33 2 33 1 33 2 33 2 33 1 34 1 33 2 33 2 33 1 33 2 32 2 32 2 32 2 32 33 33 33 32 31 32 30 31 29 29 29 28 27 26 26M1812 4478v1 1 3 4 4 1 5 1 6 1 8 1 8 1 9 1 10 2 11 1 12 2 12 2 14 2 14 2 15 2 17 2 17 2 18 2 19 2 20 2 21 2 21 3 21 3 23 2 23 3 24 3 24 3 25 4 25 3 26 4 26 3 27 4 27 4 28 3 29 3 29 4 29 4 29 4 30 3 30 4 30 4 31 4 30 4 31 4 31 4 31 4 31 4 31 4 31 4 31 4 31 4 31 3 31 4 31 4 30 4 30 4 30 34 33 33 32 32 31 31 31 30 29 29 28 27 27 26M1828 4469v1 1 1 2 1 3 1 4 1 5 1 6 1 7 2 7 2 8 3 9 2 10 3 11 2 12 3 12 4 13 3 14 4 15 3 16 4 16 4 17 4 18 5 18 5 19 5 19 5 21 5 21 5 21 6 22 5 23 6 23 6 23 6 24 6 25 6 25 6 26 6 26 6 27 6 27 6 27 7 27 6 28 6 28 7 28 6 28 7 28 7 28 7 29 7 28 7 28 7 29 6 29 7 28 7 28 7 28 7 28 7 28 6 28 7 27 34 33 33 33 32 32 31 31 30 30 29 28 28 27 26M1845 4461v1 1 1 1 1 3 2 3 2 4 2 5 2 6 3 6 3 8 3 8 4 9 3 10 4 11 4 11 5 12 5 12 5 13 6 14 6 14 6 15 7 16 6 17 6 17 8 17 7 18 8 19 8 19 8 19 9 20 8 21 8 21 9 22 9 21 10 22 9 23 9 23 10 23 10 23 10 24 10 24 10 24 10 24 11 24 11 24 11 25 10 25 10 25 11 25 10 25 11 25 10 26 10 25 10 25 11 25 10 25 10 25 10 24 10 25 34 33 34 33 32 32 32 31 30 30 29 29 28 27 26M1861 4453v1 1 2 1 3 1 3 3 3 3 4 4 5 3 6 4 6 5 7 4 8 5 8 6 9 6 10 6 10 7 11 7 11 8 12 8 12 9 13 8 14 9 14 9 15 10 15 10 15 11 16 10 17 11 17 11 17 12 17 12 18 12 19 12 19 12 19 13 19 13 20 13 20 13 20 14 20 14 20 14 21 14 21 14 21 14 21 14 21 15 21 14 22 14 22 14 21 15 21 15 21 15 21 14 22 14 21 14 21 15 21 14 20 14 21 34 34 34 33 33 32 32 31 31 30 30 28 28 28 27M1877 4444v1 1 1 1 2 2 2 3 3 3 3 4 4 4 5 4 5 5 6 6 6 6 7 7 7 7 9 7 9 8 9 8 10 9 10 10 10 10 11 10 12 11 12 11 13 11 13 12 14 12 14 12 15 13 14 14 15 13 16 14 15 15 16 14 17 15 16 15 17 16 17 15 18 16 17 16 18 16 19 16 18 17 18 17 18 17 19 16 19 17 19 17 19 17 19 17 19 17 19 17 19 17 19 17 19 17 19 17 19 17 18 17 19 16 19 16 35 34 34 33 33 33 32 32 31 30 30 29 28 28 27M1893 4436v1 2 1 2 1 3 2 4 2 5 2 5 3 6 3 7 4 7 4 8 5 9 4 10 5 10 6 10 6 12 6 12 7 13 6 14 7 14 7 15 8 15 8 16 8 17 8 17 9 18 9 18 9 19 9 20 9 20 10 20 10 20 11 21 10 21 11 22 11 22 11 22 11 23 11 23 11 23 12 23 12 23 12 24 12 24 12 23 13 24 12 24 12 24 12 24 13 24 12 24 12 24 13 24 12 24 12 24 12 24 11 24 12 23 12 35 34 35 33 34 33 32 32 31 30 30 30 28 28 27M1909 4428v1 2 3 1 4 1 4 1 6 1 7 2 7 2 8 2 9 2 11 2 11 3 11 3 13 3 13 4 14 3 16 3 16 4 17 4 17 4 18 5 19 4 20 4 21 5 21 5 21 5 23 5 23 5 24 5 24 6 25 5 25 6 26 6 26 6 27 6 27 6 27 7 27 7 28 6 29 6 29 6 29 7 29 7 29 7 29 7 29 7 30 7 29 7 30 7 30 6 30 7 30 7 29 7 30 6 30 7 29 6 30 6 29 7 35 35 34 34 34 33 32 32 32 31 30 30 28 29 27M1925 4419v2 2 3 5 6 7 8 9 10 11 1 12 14 14 1 15 17 17 1 18 1 19 21 21 1 22 23 1 24 25 1 25 1 26 1 27 28 1 28 1 29 1 30 31 31 1 32 1 32 33 1 33 1 33 1 34 1 34 1 34 1 35 1 35 1 35 1 36 1 35 1 36 1 36 1 36 1 36 1 36 36 1 36 1 36 1 35 1 35 1 35 1 35 1 35 35 35 34 34 34 33 32 32 31 30 30 29 29 27M1942 4411v1 1 2 3 1 4 5 1 6 1 7 2 7 2 9 1 10 2 11 2 11 2 13 2 14 2 14 3 15 3 16 3 17 3 18 3 18 4 19 4 20 3 21 4 22 3 23 4 23 4 24 4 24 4 26 4 26 4 26 5 27 4 27 5 28 5 28 5 29 5 29 5 29 5 30 5 30 6 30 5 31 5 31 6 31 5 31 6 31 6 31 6 31 6 31 6 31 6 32 5 32 5 32 5 32 5 31 6 31 5 31 5 31 5 31 35 35 35 34 33 34 32 32 32 30 30 30 29 27M1958 4403v1 1 1 1 3 1 3 2 4 2 5 2 6 3 6 3 7 4 7 4 9 4 9 5 10 5 11 5 12 6 12 6 12 7 13 7 14 7 15 7 16 7 16 8 17 8 17 9 18 9 18 9 19 9 20 9 20 10 20 10 21 10 21 11 21 11 22 11 22 12 22 11 23 12 23 12 23 12 24 12 24 12 24 12 24 12 25 12 25 12 25 12 25 12 25 13 25 12 25 13 25 12 25 12 25 12 25 13 24 12 25 12 25 12 24 12 24 35 36 34 35 34 33 33 32 32 31 30 30 29 28M1974 4395v1 1 1 2 2 2 2 3 3 3 3 4 4 5 4 5 5 6 6 6 6 7 7 7 7 9 7 9 8 9 9 10 9 10 10 11 10 11 10 12 11 13 11 13 12 13 12 14 13 14 13 15 13 15 14 15 14 16 15 16 15 16 15 17 15 18 15 18 16 17 17 18 16 18 17 18 17 19 17 19 17 19 17 20 17 19 18 19 18 20 17 20 18 20 17 20 18 20 18 19 18 20 18 20 17 20 18 19 18 19 18 19 18 19 17 19 18 35 36 35 35 34 34 33 32 32 32 30 30 29 29M1990 4388v2 2 1 3 2 4 1 5 2 5 3 6 3 7 3 8 3 9 4 9 4 11 4 11 5 12 4 13 5 14 5 15 5 15 6 16 6 17 6 17 7 18 6 19 7 19 7 20 8 20 8 21 8 21 8 23 8 23 8 23 9 23 9 24 9 25 9 25 9 25 9 26 9 26 10 26 10 26 10 27 10 27 10 27 10 27 10 27 11 27 10 28 10 28 10 28 10 27 11 27 10 28 10 28 10 27 10 28 10 27 10 27 10 26 10 36 36 35 35 35 34 33 33 32 32 31 30 29 29M2006 4380v1 1 3 4 1 5 6 1 7 9 10 11 1 11 1 13 14 1 15 1 16 1 17 1 17 1 19 1 20 1 21 1 22 1 23 1 24 1 24 2 25 1 26 2 26 2 27 2 28 2 28 2 30 1 30 2 31 2 31 2 32 2 32 2 33 2 33 2 34 1 35 2 34 2 35 2 35 2 35 2 36 2 36 2 35 2 36 2 37 2 36 2 36 2 36 2 36 2 36 2 36 2 35 2 35 2 36 2 34 2 37 36 35 36 34 35 33 33 33 32 31 30 30 29M2022 4372v1 2 2 1 4 5 1 5 2 6 1 8 2 8 2 9 2 10 3 11 2 12 3 13 3 14 3 15 3 16 3 17 3 18 3 19 4 19 4 20 4 20 5 21 5 22 4 23 5 24 4 25 5 25 5 25 5 26 6 26 6 27 6 27 6 28 6 29 6 29 6 29 6 30 6 30 6 31 6 31 6 31 6 32 6 31 7 31 7 31 7 32 6 32 7 31 7 32 6 32 7 31 7 31 7 31 7 31 7 31 6 31 7 30 7 30 36 36 36 35 34 34 34 32 32 32 31 30 29M2038 4365v1 1 1 2 1 3 2 3 2 4 3 5 3 6 3 7 4 7 4 8 5 8 6 9 6 10 6 10 7 11 8 11 8 12 8 13 9 13 9 14 10 14 10 15 10 16 10 16 11 17 11 17 12 17 12 18 13 18 13 19 12 20 13 19 14 20 14 20 14 20 15 20 15 21 15 21 15 22 14 22 15 23 15 22 15 23 15 23 15 23 15 23 16 23 15 23 16 23 15 23 16 23 16 23 15 23 15 23 16 22 16 22 15 23 15 22 15 22 37 36 35 36 35 34 33 33 33 32 31 30 29M2055 4358v1 2 1 2 2 3 2 4 2 5 3 5 3 7 3 7 4 8 4 9 5 9 5 10 6 11 6 11 6 13 6 13 7 14 7 14 8 15 8 16 8 16 9 17 9 17 10 18 9 19 10 19 10 19 11 20 11 20 12 20 12 21 12 21 12 22 12 23 12 23 12 23 13 23 13 24 13 24 13 24 13 24 14 24 14 24 14 25 13 25 14 25 13 26 13 25 14 25 14 25 14 25 13 26 13 25 14 24 14 25 13 25 13 24 13 25 13 37 36 36 36 35 34 34 33 33 32 31 31 30M2071 4351v1 2 4 5 6 7 1 7 1 9 1 10 1 11 1 12 1 13 2 14 1 15 2 16 2 17 2 18 2 18 3 19 3 20 3 21 3 22 3 23 2 25 2 25 3 26 2 27 3 27 3 28 3 28 3 29 4 29 4 30 3 31 4 31 3 32 4 32 4 32 4 33 4 33 4 34 3 35 3 35 3 35 4 35 3 35 4 35 4 35 4 35 4 35 4 35 4 35 4 35 4 35 4 35 3 35 4 34 4 34 4 33 4 37 37 36 36 35 35 34 34 33 32 32 31 30M2087 4343v1 1 2 4 4 1 5 2 6 1 7 2 8 2 9 2 10 2 11 2 12 3 13 2 14 3 15 3 16 3 17 3 18 3 19 4 19 4 20 4 21 4 22 4 23 4 23 5 24 5 24 5 25 5 26 6 26 5 28 5 28 5 28 6 29 5 30 5 30 6 30 6 31 6 31 6 31 6 32 6 32 6 32 6 33 6 32 7 32 7 32 7 33 6 33 6 33 6 33 7 33 6 33 6 33 6 33 6 32 6 32 7 32 6 31 6 32 37 36 36 36 35 34 34 33 33 32 31 30M2103 4337v1 2 1 2 2 3 2 4 3 4 3 5 4 6 4 7 5 7 5 8 6 8 6 9 7 10 7 11 8 10 9 11 9 12 10 12 10 13 10 14 11 14 11 15 12 15 12 16 12 16 13 17 13 17 13 18 14 18 14 18 15 19 14 19 15 20 15 20 15 21 15 21 15 21 16 21 16 22 16 22 16 22 16 22 17 22 17 22 17 22 17 23 17 22 17 22 17 23 17 22 17 23 17 22 17 22 17 22 17 22 17 22 16 22 17 21 16 22 37 37 36 36 35 35 34 34 33 32 31 31M2119 4330v1 1 1 2 1 3 1 4 2 5 2 6 2 7 3 7 4 8 3 9 4 10 5 10 5 12 5 12 5 13 6 14 6 14 7 15 7 16 7 16 8 17 7 19 7 19 8 20 8 20 9 20 9 22 8 22 10 22 9 23 10 24 9 24 10 25 10 25 10 25 11 25 11 26 11 26 11 27 11 26 12 27 11 27 12 27 12 27 12 27 12 28 12 28 11 28 12 28 11 29 11 28 12 28 11 28 12 28 11 28 11 28 11 27 12 27 11 27 11 37 37 37 36 36 35 34 34 33 32 32 31M2135 4323v1 2 3 4 6 7 8 9 11 11 13 14 16 16 18 18 20 21 22 23 24 25 26 26 1 27 29 29 1 30 31 32 32 1 33 34 34 1 35 36 36 37 37 38 38 39 38 1 38 1 39 39 1 39 40 40 40 39 1 39 1 39 40 39 1 39 39 38 1 38 38 38 38 36 37 36 35 35 34 33 33 32 31M2152 4317v1 1 1 2 1 3 1 5 1 5 2 6 3 6 3 8 3 8 4 9 4 10 4 11 5 12 5 12 5 14 5 15 5 15 7 15 7 16 7 17 7 18 7 19 8 19 8 20 8 20 9 21 8 22 9 23 8 23 10 23 10 24 9 25 10 24 10 26 10 26 10 26 11 26 11 27 10 28 10 28 11 28 11 28 11 28 11 28 12 28 11 29 11 29 11 29 11 29 11 29 11 29 12 28 12 28 11 29 11 28 12 28 11 28 11 27 11 28 11 27 37 38 36 36 36 35 34 34 33 32 31M2168 4310v1 1 2 1 2 2 3 2 4 3 4 4 5 4 6 4 7 5 7 5 8 6 9 6 10 7 10 7 11 8 11 8 12 9 13 9 13 10 13 11 14 10 15 11 16 11 16 12 17 12 17 12 18 13 18 13 18 14 19 14 19 14 20 14 21 14 21 15 21 15 21 15 22 15 22 16 22 16 22 16 23 16 23 16 23 17 23 16 24 16 23 17 24 16 24 17 23 17 23 17 24 17 23 17 23 17 23 17 23 17 23 16 23 16 23 16 23 16 22 16 38 38 36 37 36 35 34 34 33 33 32M2184 4304v2 2 4 5 6 1 7 1 7 1 9 2 10 1 11 2 12 1 14 1 15 1 16 2 16 2 18 2 18 2 20 2 20 3 21 3 22 3 23 3 23 4 24 3 26 3 26 4 27 3 28 3 29 3 29 4 30 4 30 4 31 4 31 4 32 4 33 4 33 4 34 4 34 4 34 5 34 5 34 5 35 4 36 4 36 4 36 4 36 5 36 4 36 5 36 4 36 5 36 4 36 4 36 5 35 5 35 4 35 5 35 4 35 4 34 4 39 37 37 37 36 35 35 34 34 33 32M2200 4298v1 1 2 1 3 1 4 1 5 1 6 2 7 2 8 2 9 3 10 2 12 2 12 3 13 4 14 3 15 4 15 5 16 4 18 4 19 4 19 5 20 5 21 5 22 5 23 5 23 6 24 6 24 7 25 6 26 6 27 6 27 7 27 7 28 7 29 7 29 7 30 7 30 8 30 8 30 8 31 8 31 8 31 8 32 8 32 8 32 8 32 9 32 8 33 8 32 8 33 8 33 8 32 8 33 8 32 8 32 8 32 8 32 8 32 7 32 7 31 8 31 38 37 37 36 36 35 34 34 33 32M2216 4293v1 1 1 1 2 3 2 3 3 4 3 5 4 5 5 5 6 6 6 7 7 7 8 8 7 9 9 9 9 10 9 11 10 11 10 12 11 12 12 13 12 13 12 14 13 14 14 15 14 15 14 16 15 16 15 16 16 17 16 17 16 18 17 18 17 18 17 19 18 19 18 19 18 20 18 20 18 20 19 20 19 21 19 20 19 21 20 20 20 21 19 21 20 21 20 21 20 21 20 21 19 22 19 21 20 21 20 20 20 21 19 21 19 21 19 20 19 20 19 20 19 38 37 38 36 36 35 35 34 33 33M2232 4287v1 1 1 2 1 4 1 5 1 5 2 7 1 8 2 9 2 10 2 11 2 12 3 13 3 14 3 15 3 16 3 17 4 18 3 19 4 20 3 21 4 22 4 22 5 23 4 24 5 25 4 26 5 26 5 27 5 28 5 28 6 29 5 30 5 30 6 31 5 31 6 32 6 32 6 32 6 33 6 33 6 34 6 33 7 34 6 34 6 35 6 34 7 34 7 34 7 34 7 34 7 34 7 34 7 34 7 34 6 34 7 34 6 34 6 33 6 33 7 32 6 39 38 37 37 36 36 35 34 33 33M2248 4281v1 2 3 1 3 1 5 1 6 1 7 2 8 2 9 2 10 2 11 2 12 3 13 3 14 3 15 3 16 4 16 4 18 4 18 4 20 4 21 4 21 5 22 5 23 5 23 5 25 5 25 6 26 5 27 5 28 5 28 6 29 6 29 6 29 7 30 6 31 6 31 7 31 7 32 7 32 7 32 7 33 7 33 7 33 7 34 7 34 7 34 7 34 7 34 7 34 7 34 7 35 7 34 7 34 7 33 7 34 7 33 7 34 6 33 7 33 7 32 6 32 39 37 37 37 36 35 34 34 33M2265 4276v1 1 2 1 2 2 3 3 3 4 4 4 4 5 5 6 6 6 6 7 7 7 8 7 9 8 9 9 10 9 10 10 11 11 11 11 12 12 12 12 13 13 13 14 13 14 15 14 15 14 16 15 15 16 16 16 17 16 17 16 18 17 18 17 18 18 18 18 19 18 19 19 19 19 19 20 19 20 20 19 20 20 20 20 21 19 21 20 21 20 21 20 21 20 21 21 21 20 21 21 21 20 21 20 21 20 21 20 21 20 21 20 20 20 20 20 20 20 20 19 20 19 38 38 37 37 36 36 34 35 33M2281 4271v1 1 2 4 5 1 5 1 7 1 8 1 9 2 10 2 10 2 12 3 13 2 14 3 15 2 16 3 17 3 18 4 19 3 20 3 21 4 22 4 22 4 23 5 24 4 25 5 25 5 26 5 27 5 28 5 29 5 29 5 30 5 31 5 31 6 31 6 32 5 33 5 33 6 33 6 34 6 34 6 34 6 34 7 34 6 35 6 35 7 35 6 35 7 35 6 35 7 35 6 35 7 35 6 35 6 35 6 35 6 34 6 35 6 34 6 33 6 33 6 39 38 37 37 37 35 35 35 33M2297 4266v2 2 1 3 1 4 1 5 2 6 2 7 2 8 2 10 2 11 2 12 2 13 3 13 4 14 3 16 3 17 4 17 4 18 4 19 5 20 5 20 5 22 5 22 6 23 5 24 6 24 6 26 6 26 6 26 7 27 7 28 6 29 7 28 8 29 7 30 7 31 7 31 7 32 7 32 8 32 7 33 7 33 8 33 7 33 8 34 8 33 8 33 9 33 8 34 8 33 9 33 8 34 8 33 8 34 8 33 8 33 8 33 7 33 8 32 8 32 7 32 8 31 38 38 37 37 36 35 35 33M2313 4262v1 1 1 2 1 3 2 4 2 4 4 5 4 5 5 6 5 7 6 7 7 8 7 8 8 9 8 10 9 11 9 11 10 12 10 13 10 13 12 13 12 14 12 15 13 15 13 16 14 16 14 17 14 17 15 18 15 18 15 19 16 19 16 19 17 20 16 20 17 21 17 21 17 21 18 21 18 22 18 22 18 22 19 22 18 23 18 23 19 22 19 23 19 22 20 22 19 23 19 23 19 23 19 23 19 22 19 23 18 23 19 22 19 22 18 22 18 22 18 22 18 21 18 38 38 38 37 36 35 35 34M2329 4257v1 2 3 4 1 5 1 6 1 8 1 9 1 10 1 11 1 12 2 13 2 14 2 15 2 17 2 17 2 19 2 20 2 21 2 22 3 22 3 23 3 25 2 26 3 26 3 27 3 28 3 29 3 30 3 30 4 31 3 32 3 32 4 33 4 33 4 34 3 35 4 35 4 35 4 36 4 36 4 36 4 37 4 37 4 37 5 37 4 38 4 38 4 38 4 38 4 38 4 37 5 37 5 37 4 38 4 37 4 37 4 37 4 37 4 36 4 35 4 36 4 38 39 37 37 37 36 35 34M2345 4253v1 1 1 2 1 4 1 4 2 5 3 6 2 8 2 8 3 10 3 10 4 11 4 12 4 13 5 13 5 15 5 16 5 17 5 18 6 18 6 19 6 20 7 20 7 21 8 22 7 23 8 23 8 24 8 25 8 25 9 25 9 27 9 26 10 27 9 28 10 28 10 28 10 29 10 29 11 29 10 30 11 30 10 31 10 31 11 31 10 31 11 31 11 31 11 31 11 31 11 31 11 31 11 31 11 31 11 31 11 31 10 31 10 31 10 31 10 30 10 30 10 29 10 29 39 38 37 37 36 35 34M2362 4249v1 1 1 1 3 2 3 2 4 3 5 3 6 4 6 4 8 4 9 5 9 5 10 6 10 7 11 7 12 8 12 8 14 8 14 9 15 9 15 10 16 10 17 10 17 11 18 11 19 11 20 11 20 12 20 13 21 12 22 13 22 13 22 14 22 14 23 14 24 14 24 14 25 14 25 15 24 16 25 15 25 15 26 15 26 16 26 15 26 16 26 16 26 16 26 16 27 16 26 16 26 16 26 16 26 16 26 16 26 16 26 15 26 15 26 15 25 16 25 15 25 15 24 15 38 39 37 37 36 36 35M2378 4245v1 3 4 5 7 8 9 10 1 11 13 1 14 15 17 18 19 1 20 21 1 22 24 25 26 27 28 29 30 31 31 1 32 33 1 34 35 36 36 1 36 1 37 38 1 38 1 39 39 1 40 40 1 40 1 41 41 1 41 1 41 1 42 42 42 1 42 42 42 1 41 1 41 1 41 1 41 41 1 40 1 40 1 39 1 39 1 39 39 38 38 37 37 36 35M2394 4241v1 1 2 1 2 2 3 3 4 2 6 3 6 3 7 4 8 4 8 5 10 5 10 6 11 6 12 6 13 7 13 7 14 8 15 8 16 8 16 10 16 10 17 10 18 10 19 11 19 11 20 11 20 12 21 12 21 13 22 12 23 12 23 13 24 13 24 13 25 13 25 14 25 14 25 15 25 15 26 14 26 15 27 14 27 15 27 15 27 15 27 15 27 15 27 16 27 15 27 16 27 15 27 15 28 15 27 15 27 15 27 14 27 15 26 15 26 15 26 14 26 14 25 14 25 39 38 37 37 36 35M2410 4237v1 2 3 1 3 2 4 2 5 3 6 2 8 2 9 3 9 4 10 4 11 4 12 4 13 5 14 5 14 6 15 6 17 6 17 6 18 7 19 7 19 7 21 7 21 8 22 8 22 8 23 9 24 9 24 9 25 9 26 9 26 10 26 10 27 10 28 10 28 10 29 10 29 11 29 11 29 11 30 11 30 11 30 11 31 11 31 11 31 11 31 12 31 11 31 12 31 11 32 11 31 12 31 11 31 11 31 11 31 11 31 11 30 11 31 11 29 11 30 10 30 10 29 11 38 38 38 37 36 36M2426 4234v1 2 3 5 6 7 1 7 1 9 1 10 2 11 1 13 1 14 1 15 2 16 1 17 2 18 2 19 3 20 2 21 3 21 3 23 3 24 3 24 3 26 3 27 3 27 4 28 3 29 4 30 3 31 3 32 3 32 4 33 4 33 4 33 4 35 4 35 4 35 4 36 4 36 5 36 5 36 5 37 4 38 4 38 4 38 5 37 5 38 5 38 4 38 5 38 5 38 4 38 5 38 4 38 5 37 5 37 4 38 4 37 4 37 4 36 4 36 4 35 5 34 39 38 37 36 36M2442 4231v1 1 1 2 2 2 3 3 3 4 4 5 4 5 5 6 6 7 6 7 7 8 8 8 8 9 9 10 9 11 10 10 11 12 11 12 12 12 12 14 12 14 13 15 13 15 15 15 15 15 15 17 15 17 16 17 17 17 17 18 17 19 17 19 18 19 18 20 18 20 19 20 19 20 20 20 20 21 20 20 21 21 20 21 21 21 21 21 21 22 20 22 21 22 21 21 21 22 21 22 21 22 21 22 20 22 21 22 20 22 20 22 20 21 21 21 20 21 20 20 20 21 19 20 19 20 39 38 37 37 36M2458 4228v1 1 2 1 3 1 4 1 6 1 7 1 8 1 10 1 11 1 12 2 12 2 14 2 15 2 16 3 17 2 18 3 19 3 20 3 21 3 22 3 23 4 23 4 25 4 25 4 26 4 28 4 28 4 29 4 30 4 30 5 31 4 32 5 32 5 32 5 33 5 34 5 35 5 34 6 35 5 35 6 36 5 36 6 36 5 37 6 36 6 37 6 37 5 38 5 37 6 37 6 37 6 37 6 37 5 37 6 37 5 37 5 37 5 36 6 36 5 35 6 35 5 35 5 34 5 39 38 38 37 36M2475 4226v1 2 1 3 1 4 2 5 2 6 2 7 3 7 3 9 4 9 4 11 4 11 5 12 5 14 4 15 5 15 6 16 6 17 6 18 6 19 7 19 7 21 7 21 7 22 8 23 7 24 8 24 8 25 8 26 9 25 9 27 9 27 9 28 10 28 9 29 10 29 10 29 10 30 10 30 11 30 11 30 11 31 11 31 11 31 11 31 11 32 11 32 11 32 11 32 11 32 11 32 11 32 10 32 11 32 11 32 10 32 10 32 10 31 11 31 10 31 10 30 10 30 10 30 10 29 38 38 37 36M2491 4223v1 1 1 2 2 3 2 4 2 5 3 5 4 6 4 7 5 8 4 9 6 9 6 11 6 11 7 12 7 13 7 14 8 14 8 16 8 16 9 17 9 18 9 18 11 18 11 19 11 20 11 20 12 21 12 21 13 22 12 23 13 23 13 23 14 24 13 25 13 25 14 25 14 26 14 26 15 26 14 27 15 26 15 27 15 27 15 28 15 27 16 27 15 28 15 28 15 28 15 28 15 28 15 28 15 28 15 27 16 27 15 27 15 27 15 27 14 27 15 26 14 26 14 26 14 25 14 39 38 37 37M2507 4221v2 4 4 1 5 1 7 9 10 11 13 14 15 16 1 17 1 18 1 19 1 21 22 1 23 24 1 25 1 26 1 27 1 28 1 29 1 30 1 31 1 32 1 33 1 33 1 34 1 35 2 35 1 37 1 37 1 37 2 38 1 39 1 39 1 40 1 40 1 41 1 40 2 41 1 41 2 41 1 42 1 42 1 42 1 42 1 42 1 42 2 41 2 41 1 42 1 41 2 41 1 40 2 40 1 40 2 39 1 39 2 38 2 38 1 37 39 37 37M2523 4219v1 1 1 2 2 2 3 3 3 4 4 5 4 6 4 7 5 7 6 8 6 9 7 9 7 11 7 11 9 11 9 12 10 13 10 13 11 14 11 15 11 15 12 16 12 17 13 17 13 18 13 18 14 19 14 20 14 20 15 20 15 21 16 21 16 21 16 22 17 22 16 23 17 23 17 23 17 24 17 24 18 24 18 24 18 24 18 25 18 24 18 25 18 25 18 25 19 25 18 25 18 25 18 25 18 25 18 25 18 24 18 25 18 24 17 25 17 24 17 24 17 23 17 23 17 23 16 23 38 38 37M2539 4217v1 3 4 1 4 1 6 1 7 1 8 2 9 2 9 3 11 2 12 3 13 3 14 3 15 4 16 4 17 4 18 4 19 4 20 4 21 5 22 5 22 5 24 5 24 6 25 5 26 6 26 6 28 6 28 6 29 6 29 7 30 7 30 7 31 7 31 7 32 8 32 7 33 8 33 7 34 8 34 7 34 8 35 7 35 8 35 8 35 8 35 8 35 8 35 8 35 8 36 7 36 8 35 8 35 8 34 8 35 8 34 8 34 8 34 7 34 7 34 7 33 7 33 7 32 7 38 38 37M2555 4215v1 1 2 1 3 1 4 2 5 1 7 2 7 2 9 2 10 2 11 3 12 3 12 4 13 4 15 4 15 4 17 4 18 5 18 5 19 5 21 5 21 6 21 6 23 6 24 6 24 7 25 6 26 7 26 7 27 8 27 8 28 8 28 8 30 8 30 8 30 8 31 9 31 8 32 9 32 8 33 9 33 8 33 9 34 9 33 9 34 9 34 9 34 9 34 9 34 10 34 9 34 9 34 9 34 9 34 9 34 9 34 9 33 9 33 9 33 8 33 9 32 8 32 8 32 8 31 8 31 38 37M2572 4214v1 1 1 2 2 3 2 3 3 5 3 5 4 6 4 7 5 8 5 8 6 9 7 10 7 10 8 11 8 12 9 13 8 14 9 15 9 15 10 16 11 16 11 17 11 18 12 18 12 19 12 20 12 20 14 20 14 21 13 22 14 22 14 23 15 22 15 24 15 23 16 24 15 25 16 24 16 25 16 25 17 25 17 25 17 26 16 26 17 26 17 26 17 27 17 26 17 26 17 26 18 26 17 26 17 26 17 26 17 26 17 25 17 26 16 25 17 25 16 25 16 25 16 24 16 24 15 24 15 38 37M2588 4213v2 4 4 6 1 7 9 10 11 13 14 15 1 16 18 19 20 22 22 1 23 25 26 27 1 28 29 30 31 32 33 34 35 35 37 37 37 39 39 39 40 41 41 41 42 42 43 43 42 1 43 43 43 44 43 43 44 43 43 42 1 42 42 42 41 1 40 1 40 40 40 39 38 38M2604 4212v1 1 1 2 2 2 3 3 3 4 4 5 4 6 4 7 5 8 5 8 6 9 7 10 7 10 8 11 8 12 9 13 8 14 9 15 9 15 11 15 11 16 11 17 12 17 12 18 13 18 13 19 13 20 13 21 13 21 14 22 14 22 14 23 15 22 15 23 16 23 16 24 16 24 16 24 17 24 17 25 16 25 17 26 17 25 17 26 17 26 17 26 17 26 18 26 17 26 17 26 18 26 17 26 17 26 18 25 17 26 17 26 17 25 17 25 17 24 17 25 16 24 17 24 16 23 16 23 16 23 38M2620 4211v1 1 2 4 1 4 1 6 1 7 1 8 2 9 2 10 2 11 3 12 3 12 4 14 3 15 4 15 5 16 5 17 5 18 5 20 5 20 5 22 5 22 6 23 6 24 6 24 6 26 6 26 7 27 6 28 7 28 7 29 7 29 8 30 7 31 7 31 8 32 8 31 8 33 8 33 8 33 8 34 8 34 8 34 8 35 8 35 8 35 8 35 8 35 9 35 8 35 9 34 9 35 8 35 9 34 9 34 9 34 8 34 9 33 9 33 8 34 8 32 9 32 8 32 8 31 8 31 8 38M2636 4210v2 2 1 3 1 4 2 5 2 6 2 7 2 9 2 10 3 10 3 12 3 13 3 14 4 14 4 16 4 17 4 18 4 19 5 19 5 21 5 21 6 22 6 22 6 24 6 25 6 25 7 26 7 26 7 28 6 29 7 28 8 29 8 29 8 30 8 31 8 31 8 32 8 33 8 32 9 33 8 33 9 33 9 34 8 35 8 34 9 35 8 35 8 35 9 35 8 35 9 34 9 35 9 34 9 34 9 34 9 34 8 34 9 34 8 33 9 33 8 33 8 32 8 32 8 31 8 31 8 30M2652 4210v1 1 1 2 2 3 2 4 2 5 3 5 4 6 5 6 5 8 5 9 6 9 6 10 7 11 7 12 8 12 8 13 9 14 9 14 10 15 10 16 11 16 11 17 11 18 12 18 12 19 13 19 13 20 13 21 13 21 14 22 14 22 15 22 15 22 16 23 15 24 15 24 16 24 16 25 16 25 16 25 17 25 17 25 17 26 17 26 17 26 17 26 17 26 17 27 17 26 17 26 18 26 17 26 18 25 18 26 17 25 17 26 17 25 17 25 17 25 17 24 17 24 16 24 16 24 16 23 16 23 15M2668 4210v3 3 5 6 7 9 10 12 13 14 15 17 17 20 20 21 23 24 25 26 27 29 29 30 31 32 34 33 35 36 36 37 38 38 39 40 40 41 41 42 42 42 42 43 43 43 44 43 44 43 44 43 43 43 43 43 42 42 41 41 41 40 40 39 38M2685 4210v1 1 1 2 2 3 2 4 2 5 3 5 4 6 5 6 5 8 5 9 6 9 6 10 7 11 7 12 8 12 8 13 9 14 9 14 10 15 10 16 11 16 11 17 11 18 12 18 12 19 13 19 13 20 13 21 13 21 14 22 14 22 15 22 15 22 16 23 15 24 15 24 16 24 16 25 16 25 16 25 17 25 17 25 17 26 17 26 17 26 17 26 17 26 17 27 17 26 17 26 18 26 17 26 18 25 18 26 17 25 17 26 17 25 17 25 17 25 17 24 17 24 16 24 16 24 16 23 16 23 15M2701 4210v2 2 1 3 1 4 2 5 2 6 2 7 2 9 2 10 3 10 3 12 3 13 3 14 4 14 4 16 4 17 4 18 4 19 5 19 5 21 5 21 6 22 6 22 6 24 6 25 6 25 7 26 7 26 7 28 6 29 7 28 8 29 8 29 8 30 8 31 8 31 8 32 8 33 8 32 9 33 8 33 9 33 9 34 8 35 8 34 9 35 8 35 8 35 9 35 8 35 9 34 9 35 9 34 9 34 9 34 9 34 8 34 9 34 8 33 9 33 8 33 8 32 8 32 8 31 8 31 8 30M2717 4211v1 1 2 4 1 4 1 6 1 7 1 8 2 9 2 10 2 11 3 12 3 12 4 14 3 15 4 15 5 16 5 17 5 18 5 20 5 20 5 22 5 22 6 23 6 24 6 24 6 26 6 26 7 27 6 28 7 28 7 29 7 29 8 30 7 31 7 31 8 32 8 31 8 33 8 33 8 33 8 34 8 34 8 34 8 35 8 35 8 35 8 35 8 35 9 35 8 35 9 34 9 35 8 35 9 34 9 34 9 34 8 34 9 33 9 33 8 34 8 32 9 32 8 32 8 31 8 31 8 38M2733 4212v1 1 1 2 2 2 3 3 3 4 4 5 4 6 4 7 5 8 5 8 6 9 7 10 7 10 8 11 8 12 9 13 8 14 9 15 9 15 11 15 11 16 11 17 12 17 12 18 13 18 13 19 13 20 13 21 13 21 14 22 14 22 14 23 15 22 15 23 16 23 16 24 16 24 16 24 17 24 17 25 16 25 17 26 17 25 17 26 17 26 17 26 17 26 18 26 17 26 17 26 18 26 17 26 17 26 18 25 17 26 17 26 17 25 17 25 17 24 17 25 16 24 17 24 16 23 16 23 16 23 38M2749 4213v2 4 4 6 1 7 9 10 11 13 14 15 1 16 18 19 20 22 22 1 23 25 26 27 1 28 29 30 31 32 33 34 35 35 37 37 37 39 39 39 40 41 41 41 42 42 43 43 42 1 43 43 43 44 43 43 44 43 43 42 1 42 42 42 41 1 40 1 40 40 40 39 38 38M2765 4214v1 1 1 2 2 3 2 3 3 5 3 5 4 6 4 7 5 8 5 8 6 9 7 10 7 10 8 11 8 12 9 13 8 14 9 15 9 15 10 16 11 16 11 17 11 18 12 18 12 19 12 20 12 20 14 20 14 21 13 22 14 22 14 23 15 22 15 24 15 23 16 24 15 25 16 24 16 25 16 25 17 25 17 25 17 26 16 26 17 26 17 26 17 27 17 26 17 26 17 26 18 26 17 26 17 26 17 26 17 26 17 25 17 26 16 25 17 25 16 25 16 25 16 24 16 24 15 24 15 38 37M2782 4215v1 1 2 1 3 1 4 2 5 1 7 2 7 2 9 2 10 2 11 3 12 3 12 4 13 4 15 4 15 4 17 4 18 5 18 5 19 5 21 5 21 6 21 6 23 6 24 6 24 7 25 6 26 7 26 7 27 8 27 8 28 8 28 8 30 8 30 8 30 8 31 9 31 8 32 9 32 8 33 9 33 8 33 9 34 9 33 9 34 9 34 9 34 9 34 9 34 10 34 9 34 9 34 9 34 9 34 9 34 9 34 9 33 9 33 9 33 8 33 9 32 8 32 8 32 8 31 8 31 38 37M2798 4217v1 3 4 1 4 1 6 1 7 1 8 2 9 2 9 3 11 2 12 3 13 3 14 3 15 4 16 4 17 4 18 4 19 4 20 4 21 5 22 5 22 5 24 5 24 6 25 5 26 6 26 6 28 6 28 6 29 6 29 7 30 7 30 7 31 7 31 7 32 8 32 7 33 8 33 7 34 8 34 7 34 8 35 7 35 8 35 8 35 8 35 8 35 8 35 8 35 8 36 7 36 8 35 8 35 8 34 8 35 8 34 8 34 8 34 7 34 7 34 7 33 7 33 7 32 7 38 38 37M2814 4219v1 1 1 2 2 2 3 3 3 4 4 5 4 6 4 7 5 7 6 8 6 9 7 9 7 11 7 11 9 11 9 12 10 13 10 13 11 14 11 15 11 15 12 16 12 17 13 17 13 18 13 18 14 19 14 20 14 20 15 20 15 21 16 21 16 21 16 22 17 22 16 23 17 23 17 23 17 24 17 24 18 24 18 24 18 24 18 25 18 24 18 25 18 25 18 25 19 25 18 25 18 25 18 25 18 25 18 25 18 24 18 25 18 24 17 25 17 24 17 24 17 23 17 23 17 23 16 23 38 38 37M2830 4221v2 4 4 1 5 1 7 9 10 11 13 14 15 16 1 17 1 18 1 19 1 21 22 1 23 24 1 25 1 26 1 27 1 28 1 29 1 30 1 31 1 32 1 33 1 33 1 34 1 35 2 35 1 37 1 37 1 37 2 38 1 39 1 39 1 40 1 40 1 41 1 40 2 41 1 41 2 41 1 42 1 42 1 42 1 42 1 42 1 42 2 41 2 41 1 42 1 41 2 41 1 40 2 40 1 40 2 39 1 39 2 38 2 38 1 37 39 37 37M2846 4223v1 1 1 2 2 3 2 4 2 5 3 5 4 6 4 7 5 8 4 9 6 9 6 11 6 11 7 12 7 13 7 14 8 14 8 16 8 16 9 17 9 18 9 18 11 18 11 19 11 20 11 20 12 21 12 21 13 22 12 23 13 23 13 23 14 24 13 25 13 25 14 25 14 26 14 26 15 26 14 27 15 26 15 27 15 27 15 28 15 27 16 27 15 28 15 28 15 28 15 28 15 28 15 28 15 28 15 27 16 27 15 27 15 27 15 27 14 27 15 26 14 26 14 26 14 25 14 39 38 37 37M2862 4226v1 2 1 3 1 4 2 5 2 6 2 7 3 7 3 9 4 9 4 11 4 11 5 12 5 14 4 15 5 15 6 16 6 17 6 18 6 19 7 19 7 21 7 21 7 22 8 23 7 24 8 24 8 25 8 26 9 25 9 27 9 27 9 28 10 28 9 29 10 29 10 29 10 30 10 30 11 30 11 30 11 31 11 31 11 31 11 31 11 32 11 32 11 32 11 32 11 32 11 32 11 32 10 32 11 32 11 32 10 32 10 32 10 31 11 31 10 31 10 30 10 30 10 30 10 29 38 38 37 36M2879 4228v1 1 2 1 3 1 4 1 6 1 7 1 8 1 10 1 11 1 12 2 12 2 14 2 15 2 16 3 17 2 18 3 19 3 20 3 21 3 22 3 23 4 23 4 25 4 25 4 26 4 28 4 28 4 29 4 30 4 30 5 31 4 32 5 32 5 32 5 33 5 34 5 35 5 34 6 35 5 35 6 36 5 36 6 36 5 37 6 36 6 37 6 37 5 38 5 37 6 37 6 37 6 37 6 37 5 37 6 37 5 37 5 37 5 36 6 36 5 35 6 35 5 35 5 34 5 39 38 38 37 36M2895 4231v1 1 1 2 2 2 3 3 3 4 4 5 4 5 5 6 6 7 6 7 7 8 8 8 8 9 9 10 9 11 10 10 11 12 11 12 12 12 12 14 12 14 13 15 13 15 15 15 15 15 15 17 15 17 16 17 17 17 17 18 17 19 17 19 18 19 18 20 18 20 19 20 19 20 20 20 20 21 20 20 21 21 20 21 21 21 21 21 21 22 20 22 21 22 21 21 21 22 21 22 21 22 21 22 20 22 21 22 20 22 20 22 20 21 21 21 20 21 20 20 20 21 19 20 19 20 39 38 37 37 36M2911 4234v1 2 3 5 6 7 1 7 1 9 1 10 2 11 1 13 1 14 1 15 2 16 1 17 2 18 2 19 3 20 2 21 3 21 3 23 3 24 3 24 3 26 3 27 3 27 4 28 3 29 4 30 3 31 3 32 3 32 4 33 4 33 4 33 4 35 4 35 4 35 4 36 4 36 5 36 5 36 5 37 4 38 4 38 4 38 5 37 5 38 5 38 4 38 5 38 5 38 4 38 5 38 4 38 5 37 5 37 4 38 4 37 4 37 4 36 4 36 4 35 5 34 39 38 37 36 36M2927 4237v1 2 3 1 3 2 4 2 5 3 6 2 8 2 9 3 9 4 10 4 11 4 12 4 13 5 14 5 14 6 15 6 17 6 17 6 18 7 19 7 19 7 21 7 21 8 22 8 22 8 23 9 24 9 24 9 25 9 26 9 26 10 26 10 27 10 28 10 28 10 29 10 29 11 29 11 29 11 30 11 30 11 30 11 31 11 31 11 31 11 31 12 31 11 31 12 31 11 32 11 31 12 31 11 31 11 31 11 31 11 31 11 30 11 31 11 29 11 30 10 30 10 29 11 38 38 38 37 36 36M2943 4241v1 1 2 1 2 2 3 3 4 2 6 3 6 3 7 4 8 4 8 5 10 5 10 6 11 6 12 6 13 7 13 7 14 8 15 8 16 8 16 10 16 10 17 10 18 10 19 11 19 11 20 11 20 12 21 12 21 13 22 12 23 12 23 13 24 13 24 13 25 13 25 14 25 14 25 15 25 15 26 14 26 15 27 14 27 15 27 15 27 15 27 15 27 15 27 16 27 15 27 16 27 15 27 15 28 15 27 15 27 15 27 14 27 15 26 15 26 15 26 14 26 14 25 14 25 39 38 37 37 36 35M2959 4245v1 3 4 5 7 8 9 10 1 11 13 1 14 15 17 18 19 1 20 21 1 22 24 25 26 27 28 29 30 31 31 1 32 33 1 34 35 36 36 1 36 1 37 38 1 38 1 39 39 1 40 40 1 40 1 41 41 1 41 1 41 1 42 42 42 1 42 42 42 1 41 1 41 1 41 1 41 41 1 40 1 40 1 39 1 39 1 39 39 38 38 37 37 36 35M2975 4249v1 1 1 1 3 2 3 2 4 3 5 3 6 4 6 4 8 4 9 5 9 5 10 6 10 7 11 7 12 8 12 8 14 8 14 9 15 9 15 10 16 10 17 10 17 11 18 11 19 11 20 11 20 12 20 13 21 12 22 13 22 13 22 14 22 14 23 14 24 14 24 14 25 14 25 15 24 16 25 15 25 15 26 15 26 16 26 15 26 16 26 16 26 16 26 16 27 16 26 16 26 16 26 16 26 16 26 16 26 16 26 15 26 15 26 15 25 16 25 15 25 15 24 15 38 39 37 37 36 36 35M2992 4253v1 1 1 2 1 4 1 4 2 5 3 6 2 8 2 8 3 10 3 10 4 11 4 12 4 13 5 13 5 15 5 16 5 17 5 18 6 18 6 19 6 20 7 20 7 21 8 22 7 23 8 23 8 24 8 25 8 25 9 25 9 27 9 26 10 27 9 28 10 28 10 28 10 29 10 29 11 29 10 30 11 30 10 31 10 31 11 31 10 31 11 31 11 31 11 31 11 31 11 31 11 31 11 31 11 31 11 31 11 31 10 31 10 31 10 31 10 30 10 30 10 29 10 29 39 38 37 37 36 35 34M3008 4257v1 2 3 4 1 5 1 6 1 8 1 9 1 10 1 11 1 12 2 13 2 14 2 15 2 17 2 17 2 19 2 20 2 21 2 22 3 22 3 23 3 25 2 26 3 26 3 27 3 28 3 29 3 30 3 30 4 31 3 32 3 32 4 33 4 33 4 34 3 35 4 35 4 35 4 36 4 36 4 36 4 37 4 37 4 37 5 37 4 38 4 38 4 38 4 38 4 38 4 37 5 37 5 37 4 38 4 37 4 37 4 37 4 37 4 36 4 35 4 36 4 38 39 37 37 37 36 35 34M3024 4262v1 1 1 2 1 3 2 4 2 4 4 5 4 5 5 6 5 7 6 7 7 8 7 8 8 9 8 10 9 11 9 11 10 12 10 13 10 13 12 13 12 14 12 15 13 15 13 16 14 16 14 17 14 17 15 18 15 18 15 19 16 19 16 19 17 20 16 20 17 21 17 21 17 21 18 21 18 22 18 22 18 22 19 22 18 23 18 23 19 22 19 23 19 22 20 22 19 23 19 23 19 23 19 23 19 22 19 23 18 23 19 22 19 22 18 22 18 22 18 22 18 21 18 38 38 38 37 36 35 35 34M3040 4266v2 2 1 3 1 4 1 5 2 6 2 7 2 8 2 10 2 11 2 12 2 13 3 13 4 14 3 16 3 17 4 17 4 18 4 19 5 20 5 20 5 22 5 22 6 23 5 24 6 24 6 26 6 26 6 26 7 27 7 28 6 29 7 28 8 29 7 30 7 31 7 31 7 32 7 32 8 32 7 33 7 33 8 33 7 33 8 34 8 33 8 33 9 33 8 34 8 33 9 33 8 34 8 33 8 34 8 33 8 33 8 33 7 33 8 32 8 32 7 32 8 31 38 38 37 37 36 35 35 33M3056 4271v1 1 2 4 5 1 5 1 7 1 8 1 9 2 10 2 10 2 12 3 13 2 14 3 15 2 16 3 17 3 18 4 19 3 20 3 21 4 22 4 22 4 23 5 24 4 25 5 25 5 26 5 27 5 28 5 29 5 29 5 30 5 31 5 31 6 31 6 32 5 33 5 33 6 33 6 34 6 34 6 34 6 34 7 34 6 35 6 35 7 35 6 35 7 35 6 35 7 35 6 35 7 35 6 35 6 35 6 35 6 34 6 35 6 34 6 33 6 33 6 39 38 37 37 37 35 35 35 33M3072 4276v1 1 2 1 2 2 3 3 3 4 4 4 4 5 5 6 6 6 6 7 7 7 8 7 9 8 9 9 10 9 10 10 11 11 11 11 12 12 12 12 13 13 13 14 13 14 15 14 15 14 16 15 15 16 16 16 17 16 17 16 18 17 18 17 18 18 18 18 19 18 19 19 19 19 19 20 19 20 20 19 20 20 20 20 21 19 21 20 21 20 21 20 21 20 21 21 21 20 21 21 21 20 21 20 21 20 21 20 21 20 21 20 20 20 20 20 20 20 20 19 20 19 38 38 37 37 36 36 34 35 33M3089 4281v1 2 3 1 3 1 5 1 6 1 7 2 8 2 9 2 10 2 11 2 12 3 13 3 14 3 15 3 16 4 16 4 18 4 18 4 20 4 21 4 21 5 22 5 23 5 23 5 25 5 25 6 26 5 27 5 28 5 28 6 29 6 29 6 29 7 30 6 31 6 31 7 31 7 32 7 32 7 32 7 33 7 33 7 33 7 34 7 34 7 34 7 34 7 34 7 34 7 34 7 35 7 34 7 34 7 33 7 34 7 33 7 34 6 33 7 33 7 32 6 32 39 37 37 37 36 35 34 34 33M3105 4287v1 1 1 2 1 4 1 5 1 5 2 7 1 8 2 9 2 10 2 11 2 12 3 13 3 14 3 15 3 16 3 17 4 18 3 19 4 20 3 21 4 22 4 22 5 23 4 24 5 25 4 26 5 26 5 27 5 28 5 28 6 29 5 30 5 30 6 31 5 31 6 32 6 32 6 32 6 33 6 33 6 34 6 33 7 34 6 34 6 35 6 34 7 34 7 34 7 34 7 34 7 34 7 34 7 34 7 34 6 34 7 34 6 34 6 33 6 33 7 32 6 39 38 37 37 36 36 35 34 33 33M3121 4293v1 1 1 1 2 3 2 3 3 4 3 5 4 5 5 5 6 6 6 7 7 7 8 8 7 9 9 9 9 10 9 11 10 11 10 12 11 12 12 13 12 13 12 14 13 14 14 15 14 15 14 16 15 16 15 16 16 17 16 17 16 18 17 18 17 18 17 19 18 19 18 19 18 20 18 20 18 20 19 20 19 21 19 20 19 21 20 20 20 21 19 21 20 21 20 21 20 21 20 21 19 22 19 21 20 21 20 20 20 21 19 21 19 21 19 20 19 20 19 20 19 38 37 38 36 36 35 35 34 33 33M3137 4298v1 1 2 1 3 1 4 1 5 1 6 2 7 2 8 2 9 3 10 2 12 2 12 3 13 4 14 3 15 4 15 5 16 4 18 4 19 4 19 5 20 5 21 5 22 5 23 5 23 6 24 6 24 7 25 6 26 6 27 6 27 7 27 7 28 7 29 7 29 7 30 7 30 8 30 8 30 8 31 8 31 8 31 8 32 8 32 8 32 8 32 9 32 8 33 8 32 8 33 8 33 8 32 8 33 8 32 8 32 8 32 8 32 8 32 7 32 7 31 8 31 38 37 37 36 36 35 34 34 33 32M3153 4304v2 2 4 5 6 1 7 1 7 1 9 2 10 1 11 2 12 1 14 1 15 1 16 2 16 2 18 2 18 2 20 2 20 3 21 3 22 3 23 3 23 4 24 3 26 3 26 4 27 3 28 3 29 3 29 4 30 4 30 4 31 4 31 4 32 4 33 4 33 4 34 4 34 4 34 5 34 5 34 5 35 4 36 4 36 4 36 4 36 5 36 4 36 5 36 4 36 5 36 4 36 4 36 5 35 5 35 4 35 5 35 4 35 4 34 4 39 37 37 37 36 35 35 34 34 33 32M3169 4310v1 1 2 1 2 2 3 2 4 3 4 4 5 4 6 4 7 5 7 5 8 6 9 6 10 7 10 7 11 8 11 8 12 9 13 9 13 10 13 11 14 10 15 11 16 11 16 12 17 12 17 12 18 13 18 13 18 14 19 14 19 14 20 14 21 14 21 15 21 15 21 15 22 15 22 16 22 16 22 16 23 16 23 16 23 17 23 16 24 16 23 17 24 16 24 17 23 17 23 17 24 17 23 17 23 17 23 17 23 17 23 16 23 16 23 16 23 16 22 16 38 38 36 37 36 35 34 34 33 33 32M3185 4317v1 1 1 2 1 3 1 5 1 5 2 6 3 6 3 8 3 8 4 9 4 10 4 11 5 12 5 12 5 14 5 15 5 15 7 15 7 16 7 17 7 18 7 19 8 19 8 20 8 20 9 21 8 22 9 23 8 23 10 23 10 24 9 25 10 24 10 26 10 26 10 26 11 26 11 27 10 28 10 28 11 28 11 28 11 28 11 28 12 28 11 29 11 29 11 29 11 29 11 29 11 29 12 28 12 28 11 29 11 28 12 28 11 28 11 27 11 28 11 27 37 38 36 36 36 35 34 34 33 32 31M3202 4323v1 2 3 4 6 7 8 9 11 11 13 14 16 16 18 18 20 21 22 23 24 25 26 26 1 27 29 29 1 30 31 32 32 1 33 34 34 1 35 36 36 37 37 38 38 39 38 1 38 1 39 39 1 39 40 40 40 39 1 39 1 39 40 39 1 39 39 38 1 38 38 38 38 36 37 36 35 35 34 33 33 32 31M3218 4330v1 1 1 2 1 3 1 4 2 5 2 6 2 7 3 7 4 8 3 9 4 10 5 10 5 12 5 12 5 13 6 14 6 14 7 15 7 16 7 16 8 17 7 19 7 19 8 20 8 20 9 20 9 22 8 22 10 22 9 23 10 24 9 24 10 25 10 25 10 25 11 25 11 26 11 26 11 27 11 26 12 27 11 27 12 27 12 27 12 27 12 28 12 28 11 28 12 28 11 29 11 28 12 28 11 28 12 28 11 28 11 28 11 27 12 27 11 27 11 37 37 37 36 36 35 34 34 33 32 32 31M3234 4337v1 2 1 2 2 3 2 4 3 4 3 5 4 6 4 7 5 7 5 8 6 8 6 9 7 10 7 11 8 10 9 11 9 12 10 12 10 13 10 14 11 14 11 15 12 15 12 16 12 16 13 17 13 17 13 18 14 18 14 18 15 19 14 19 15 20 15 20 15 21 15 21 15 21 16 21 16 22 16 22 16 22 16 22 17 22 17 22 17 22 17 23 17 22 17 22 17 23 17 22 17 23 17 22 17 22 17 22 17 22 17 22 16 22 17 21 16 22 37 37 36 36 35 35 34 34 33 32 31 31M3250 4343v1 1 2 4 4 1 5 2 6 1 7 2 8 2 9 2 10 2 11 2 12 3 13 2 14 3 15 3 16 3 17 3 18 3 19 4 19 4 20 4 21 4 22 4 23 4 23 5 24 5 24 5 25 5 26 6 26 5 28 5 28 5 28 6 29 5 30 5 30 6 30 6 31 6 31 6 31 6 32 6 32 6 32 6 33 6 32 7 32 7 32 7 33 6 33 6 33 6 33 7 33 6 33 6 33 6 33 6 32 6 32 7 32 6 31 6 32 37 36 36 36 35 34 34 33 33 32 31 30M3266 4351v1 2 4 5 6 7 1 7 1 9 1 10 1 11 1 12 1 13 2 14 1 15 2 16 2 17 2 18 2 18 3 19 3 20 3 21 3 22 3 23 2 25 2 25 3 26 2 27 3 27 3 28 3 28 3 29 4 29 4 30 3 31 4 31 3 32 4 32 4 32 4 33 4 33 4 34 3 35 3 35 3 35 4 35 3 35 4 35 4 35 4 35 4 35 4 35 4 35 4 35 4 35 4 35 3 35 4 34 4 34 4 33 4 37 37 36 36 35 35 34 34 33 32 32 31 30M3282 4358v1 2 1 2 2 3 2 4 2 5 3 5 3 7 3 7 4 8 4 9 5 9 5 10 6 11 6 11 6 13 6 13 7 14 7 14 8 15 8 16 8 16 9 17 9 17 10 18 9 19 10 19 10 19 11 20 11 20 12 20 12 21 12 21 12 22 12 23 12 23 12 23 13 23 13 24 13 24 13 24 13 24 14 24 14 24 14 25 13 25 14 25 13 26 13 25 14 25 14 25 14 25 13 26 13 25 14 24 14 25 13 25 13 24 13 25 13 37 36 36 36 35 34 34 33 33 32 31 31 30M3299 4365v1 1 1 2 1 3 2 3 2 4 3 5 3 6 3 7 4 7 4 8 5 8 6 9 6 10 6 10 7 11 8 11 8 12 8 13 9 13 9 14 10 14 10 15 10 16 10 16 11 17 11 17 12 17 12 18 13 18 13 19 12 20 13 19 14 20 14 20 14 20 15 20 15 21 15 21 15 22 14 22 15 23 15 22 15 23 15 23 15 23 15 23 16 23 15 23 16 23 15 23 16 23 16 23 15 23 15 23 16 22 16 22 15 23 15 22 15 22 37 36 35 36 35 34 33 33 33 32 31 30 29M3315 4372v1 2 2 1 4 5 1 5 2 6 1 8 2 8 2 9 2 10 3 11 2 12 3 13 3 14 3 15 3 16 3 17 3 18 3 19 4 19 4 20 4 20 5 21 5 22 4 23 5 24 4 25 5 25 5 25 5 26 6 26 6 27 6 27 6 28 6 29 6 29 6 29 6 30 6 30 6 31 6 31 6 31 6 32 6 31 7 31 7 31 7 32 6 32 7 31 7 32 6 32 7 31 7 31 7 31 7 31 7 31 6 31 7 30 7 30 36 36 36 35 34 34 34 32 32 32 31 30 29M3331 4380v1 1 3 4 1 5 6 1 7 9 10 11 1 11 1 13 14 1 15 1 16 1 17 1 17 1 19 1 20 1 21 1 22 1 23 1 24 1 24 2 25 1 26 2 26 2 27 2 28 2 28 2 30 1 30 2 31 2 31 2 32 2 32 2 33 2 33 2 34 1 35 2 34 2 35 2 35 2 35 2 36 2 36 2 35 2 36 2 37 2 36 2 36 2 36 2 36 2 36 2 36 2 35 2 35 2 36 2 34 2 37 36 35 36 34 35 33 33 33 32 31 30 30 29M3347 4388v2 2 1 3 2 4 1 5 2 5 3 6 3 7 3 8 3 9 4 9 4 11 4 11 5 12 4 13 5 14 5 15 5 15 6 16 6 17 6 17 7 18 6 19 7 19 7 20 8 20 8 21 8 21 8 23 8 23 8 23 9 23 9 24 9 25 9 25 9 25 9 26 9 26 10 26 10 26 10 27 10 27 10 27 10 27 10 27 11 27 10 28 10 28 10 28 10 27 11 27 10 28 10 28 10 27 10 28 10 27 10 27 10 26 10 36 36 35 35 35 34 33 33 32 32 31 30 29 29M3363 4395v1 1 1 2 2 2 2 3 3 3 3 4 4 5 4 5 5 6 6 6 6 7 7 7 7 9 7 9 8 9 9 10 9 10 10 11 10 11 10 12 11 13 11 13 12 13 12 14 13 14 13 15 13 15 14 15 14 16 15 16 15 16 15 17 15 18 15 18 16 17 17 18 16 18 17 18 17 19 17 19 17 19 17 20 17 19 18 19 18 20 17 20 18 20 17 20 18 20 18 19 18 20 18 20 17 20 18 19 18 19 18 19 18 19 17 19 18 35 36 35 35 34 34 33 32 32 32 30 30 29 29M3379 4403v1 1 1 1 3 1 3 2 4 2 5 2 6 3 6 3 7 4 7 4 9 4 9 5 10 5 11 5 12 6 12 6 12 7 13 7 14 7 15 7 16 7 16 8 17 8 17 9 18 9 18 9 19 9 20 9 20 10 20 10 21 10 21 11 21 11 22 11 22 12 22 11 23 12 23 12 23 12 24 12 24 12 24 12 24 12 25 12 25 12 25 12 25 12 25 13 25 12 25 13 25 12 25 12 25 12 25 13 24 12 25 12 25 12 24 12 24 35 36 34 35 34 33 33 32 32 31 30 30 29 28M3395 4411v1 1 2 3 1 4 5 1 6 1 7 2 7 2 9 1 10 2 11 2 11 2 13 2 14 2 14 3 15 3 16 3 17 3 18 3 18 4 19 4 20 3 21 4 22 3 23 4 23 4 24 4 24 4 26 4 26 4 26 5 27 4 27 5 28 5 28 5 29 5 29 5 29 5 30 5 30 6 30 5 31 5 31 6 31 5 31 6 31 6 31 6 31 6 31 6 31 6 32 5 32 5 32 5 32 5 31 6 31 5 31 5 31 5 31 35 35 35 34 33 34 32 32 32 30 30 30 29 27M3412 4419v2 2 3 5 6 7 8 9 10 11 1 12 14 14 1 15 17 17 1 18 1 19 21 21 1 22 23 1 24 25 1 25 1 26 1 27 28 1 28 1 29 1 30 31 31 1 32 1 32 33 1 33 1 33 1 34 1 34 1 34 1 35 1 35 1 35 1 36 1 35 1 36 1 36 1 36 1 36 1 36 36 1 36 1 36 1 35 1 35 1 35 1 35 1 35 35 35 34 34 34 33 32 32 31 30 30 29 29 27M3428 4428v1 2 3 1 4 1 4 1 6 1 7 2 7 2 8 2 9 2 11 2 11 3 11 3 13 3 13 4 14 3 16 3 16 4 17 4 17 4 18 5 19 4 20 4 21 5 21 5 21 5 23 5 23 5 24 5 24 6 25 5 25 6 26 6 26 6 27 6 27 6 27 7 27 7 28 6 29 6 29 6 29 7 29 7 29 7 29 7 29 7 30 7 29 7 30 7 30 6 30 7 30 7 29 7 30 6 30 7 29 6 30 6 29 7 35 35 34 34 34 33 32 32 32 31 30 30 28 29 27M3444 4436v1 2 1 2 1 3 2 4 2 5 2 5 3 6 3 7 4 7 4 8 5 9 4 10 5 10 6 10 6 12 6 12 7 13 6 14 7 14 7 15 8 15 8 16 8 17 8 17 9 18 9 18 9 19 9 20 9 20 10 20 10 20 11 21 10 21 11 22 11 22 11 22 11 23 11 23 11 23 12 23 12 23 12 24 12 24 12 23 13 24 12 24 12 24 12 24 13 24 12 24 12 24 13 24 12 24 12 24 12 24 11 24 12 23 12 35 34 35 33 34 33 32 32 31 30 30 30 28 28 27M3460 4444v1 1 1 1 2 2 2 3 3 3 3 4 4 4 5 4 5 5 6 6 6 6 7 7 7 7 9 7 9 8 9 8 10 9 10 10 10 10 11 10 12 11 12 11 13 11 13 12 14 12 14 12 15 13 14 14 15 13 16 14 15 15 16 14 17 15 16 15 17 16 17 15 18 16 17 16 18 16 19 16 18 17 18 17 18 17 19 16 19 17 19 17 19 17 19 17 19 17 19 17 19 17 19 17 19 17 19 17 19 17 18 17 19 16 19 16 35 34 34 33 33 33 32 32 31 30 30 29 28 28 27M3476 4453v1 1 2 1 3 1 3 3 3 3 4 4 5 3 6 4 6 5 7 4 8 5 8 6 9 6 10 6 10 7 11 7 11 8 12 8 12 9 13 8 14 9 14 9 15 10 15 10 15 11 16 10 17 11 17 11 17 12 17 12 18 12 19 12 19 12 19 13 19 13 20 13 20 13 20 14 20 14 20 14 21 14 21 14 21 14 21 14 21 15 21 14 22 14 22 14 21 15 21 15 21 15 21 14 22 14 21 14 21 15 21 14 20 14 21 34 34 34 33 33 32 32 31 31 30 30 28 28 28 27M3492 4461v1 1 1 1 1 3 2 3 2 4 2 5 2 6 3 6 3 8 3 8 4 9 3 10 4 11 4 11 5 12 5 12 5 13 6 14 6 14 6 15 7 16 6 17 6 17 8 17 7 18 8 19 8 19 8 19 9 20 8 21 8 21 9 22 9 21 10 22 9 23 9 23 10 23 10 23 10 24 10 24 10 24 10 24 11 24 11 24 11 25 10 25 10 25 11 25 10 25 11 25 10 26 10 25 10 25 11 25 10 25 10 25 10 24 10 25 34 33 34 33 32 32 32 31 30 30 29 29 28 27 26M3509 4469v1 1 1 2 1 3 1 4 1 5 1 6 1 7 2 7 2 8 3 9 2 10 3 11 2 12 3 12 4 13 3 14 4 15 3 16 4 16 4 17 4 18 5 18 5 19 5 19 5 21 5 21 5 21 6 22 5 23 6 23 6 23 6 24 6 25 6 25 6 26 6 26 6 27 6 27 6 27 7 27 6 28 6 28 7 28 6 28 7 28 7 28 7 29 7 28 7 28 7 29 6 29 7 28 7 28 7 28 7 28 7 28 6 28 7 27 34 33 33 33 32 32 31 31 30 30 29 28 28 27 26M3525 4478v1 1 3 4 4 1 5 1 6 1 8 1 8 1 9 1 10 2 11 1 12 2 12 2 14 2 14 2 15 2 17 2 17 2 18 2 19 2 20 2 21 2 21 3 21 3 23 2 23 3 24 3 24 3 25 4 25 3 26 4 26 3 27 4 27 4 28 3 29 3 29 4 29 4 29 4 30 3 30 4 30 4 31 4 30 4 31 4 31 4 31 4 31 4 31 4 31 4 31 4 31 4 31 3 31 4 31 4 30 4 30 4 30 34 33 33 32 32 31 31 31 30 29 29 28 27 27 26M3541 4487v2 2 1 3 5 6 7 8 1 8 1 10 11 12 1 12 1 14 15 1 15 1 16 1 18 19 20 1 20 21 1 22 1 22 1 23 1 24 1 25 1 25 2 26 1 26 2 27 1 28 1 29 1 29 1 29 2 30 1 30 2 30 2 31 1 32 1 32 2 32 1 32 2 33 1 33 1 33 2 33 1 33 2 33 2 33 1 34 1 33 2 33 2 33 1 33 2 32 2 32 2 32 2 32 33 33 33 32 31 32 30 31 29 29 29 28 27 26 26M3557 4495v1 1 3 4 5 6 7 8 9 10 11 12 1 13 14 15 16 17 18 19 20 21 21 23 23 24 25 25 26 1 26 1 27 28 29 29 1 29 1 30 31 31 1 31 1 31 1 32 33 33 1 33 34 34 34 34 1 33 1 34 34 1 34 34 1 34 34 1 33 1 33 1 33 34 33 33 33 32 32 32 31 30 30 29 29 28 28 27 26 26M3573 4504v1 1 3 3 1 4 1 5 7 8 9 10 1 10 1 11 1 12 1 13 1 14 1 15 1 16 1 17 1 18 1 19 1 19 1 20 2 21 1 22 1 22 2 23 1 24 2 24 2 25 1 26 2 26 2 27 2 27 2 28 1 29 2 29 2 29 2 30 1 31 1 31 2 31 2 31 2 31 2 32 1 32 2 32 2 32 2 32 2 33 1 33 2 32 2 32 2 32 2 32 2 32 2 32 2 31 2 32 2 33 32 33 32 31 31 31 30 30 29 29 28 27 27 26 25M3589 4513v2 2 1 3 5 6 6 1 7 1 8 1 9 1 10 1 11 1 12 1 13 1 14 1 15 1 16 1 16 2 17 1 18 2 19 1 20 2 20 2 21 2 21 2 23 2 23 2 24 2 24 2 25 2 26 2 26 3 26 3 27 2 28 2 28 3 28 3 28 3 29 3 29 3 30 2 31 2 31 2 31 2 31 3 31 2 32 2 31 3 31 3 31 3 31 3 31 3 31 3 31 2 31 3 31 3 30 3 30 3 33 32 32 32 31 31 31 30 29 29 28 28 27 27 26 25M3605 4521v1 1 1 2 4 4 1 5 1 6 8 9 9 1 10 1 11 1 12 1 13 1 14 1 14 2 15 1 16 2 17 2 17 2 18 2 19 2 20 2 21 2 21 2 23 2 22 3 23 2 24 3 24 3 25 2 26 2 27 2 27 2 28 2 28 2 28 3 29 2 29 3 29 3 29 3 30 2 30 3 30 3 30 3 31 3 30 3 31 3 31 2 31 3 31 3 31 2 31 3 31 3 30 3 30 3 30 3 30 3 32 32 32 32 31 31 30 30 29 28 29 27 27 26 26 25M3622 4530v1 1 3 3 1 4 6 6 1 7 1 8 1 9 10 1 11 1 12 1 13 1 13 2 14 1 15 2 16 1 17 2 17 2 18 2 19 2 20 2 20 2 22 1 23 2 22 2 24 2 24 2 24 3 25 2 26 2 26 2 27 2 28 2 28 2 28 2 29 2 29 3 29 2 30 2 30 2 30 3 30 3 30 3 30 3 30 3 31 2 31 3 30 3 31 2 31 3 30 3 31 2 31 2 31 2 30 3 30 2 33 32 31 31 31 31 30 29 29 29 28 27 27 26 25 25M3638 4539v2 2 4 5 5 1 6 8 8 1 9 1 10 11 1 12 1 13 1 13 1 15 1 15 1 16 1 18 1 18 1 19 1 19 1 21 1 21 1 22 1 23 1 23 2 24 1 24 2 25 1 26 1 27 1 27 1 28 1 28 2 28 1 29 2 28 2 29 2 30 2 29 2 30 2 31 1 31 2 31 2 31 1 31 2 32 1 32 1 32 2 31 2 31 2 31 2 31 2 31 2 30 2 31 2 30 2 32 32 31 31 30 31 29 30 28 29 27 27 27 26 25 24M3654 4547v1 1 3 4 4 6 7 7 9 10 10 12 12 1 13 14 1 15 16 17 18 19 20 20 1 21 22 23 23 1 24 25 25 1 25 1 26 1 27 28 28 1 28 1 29 30 30 1 30 31 1 31 31 1 31 1 31 1 32 32 1 32 33 33 32 1 32 1 32 1 32 33 32 1 32 32 32 32 31 31 31 30 30 30 29 28 28 28 27 26 26 25 24M3670 4556v1 1 3 3 5 5 1 6 7 1 8 10 10 1 11 12 1 12 1 14 15 1 15 1 16 1 17 1 18 1 18 1 20 1 20 1 21 1 21 1 23 1 23 1 24 1 24 1 25 1 26 1 26 1 27 1 27 1 28 1 28 2 28 1 29 1 29 2 29 2 29 2 30 1 31 1 31 1 31 1 31 1 31 2 31 1 31 2 31 1 32 1 31 2 31 1 31 1 31 2 30 2 30 2 30 1 30 32 30 31 30 30 29 29 28 28 27 27 26 26 24 24M3686 4565v2 2 4 4 1 4 1 6 1 6 1 8 1 8 2 9 1 10 2 10 2 12 1 13 2 13 2 14 2 15 2 15 3 16 2 17 3 18 2 18 3 19 3 20 2 21 3 21 3 21 3 22 4 22 3 24 3 24 3 24 4 24 4 25 3 26 3 26 4 26 4 26 4 27 4 27 3 28 4 27 4 28 4 28 4 28 4 28 4 28 4 28 4 29 4 28 4 28 4 29 3 29 4 28 4 28 3 28 4 28 3 28 31 30 31 30 29 29 29 28 27 27 27 26 25 25 24M3702 4573v1 1 2 1 3 1 3 1 5 1 5 2 5 2 7 2 7 2 8 3 9 2 10 3 10 3 11 3 12 3 13 3 13 4 14 4 14 4 15 4 16 5 16 4 17 5 18 5 18 5 18 5 20 5 19 6 20 6 20 6 21 6 21 6 22 6 22 6 23 6 23 7 23 6 24 6 24 7 24 6 25 6 25 6 25 7 25 6 25 7 25 7 25 7 25 7 25 7 25 7 25 7 25 7 25 7 25 7 24 7 25 7 24 7 24 31 30 30 30 29 29 28 28 28 26 27 25 25 25 24M3719 4582v1 1 2 1 2 1 3 2 4 2 4 2 5 3 5 3 7 3 7 3 8 4 8 4 9 4 10 4 10 5 11 5 11 6 12 6 12 6 13 6 14 6 14 7 14 8 14 8 15 8 16 7 17 8 16 9 17 8 18 8 18 9 18 9 19 9 19 9 19 10 19 10 19 10 20 10 20 10 20 10 21 10 21 10 21 10 21 11 21 10 21 11 21 10 22 10 21 11 21 11 21 10 22 10 21 11 21 10 21 10 21 11 20 10 21 30 31 29 30 29 28 29 27 27 27 26 26 25 24 24M3735 4590v1 1 1 1 1 2 2 2 3 3 2 4 3 4 3 5 4 5 5 5 5 6 5 7 6 7 6 7 7 8 7 8 8 9 7 10 8 10 8 10 9 11 9 11 10 11 10 12 10 12 11 13 10 13 12 13 11 14 12 14 12 14 12 15 12 15 13 15 13 15 13 15 14 16 13 16 14 16 13 17 14 16 14 17 14 17 14 17 14 17 14 17 14 17 15 17 14 17 15 17 14 17 15 17 14 17 15 16 15 17 14 17 14 16 14 17 30 30 29 30 28 29 28 27 27 27 26 25 25 24 23M3751 4599v1 1 1 2 1 3 1 3 2 4 2 5 2 5 3 6 3 6 4 7 4 7 5 7 5 8 6 8 6 9 6 10 6 11 6 11 7 11 8 11 8 12 8 13 8 13 8 14 9 13 9 15 9 15 9 15 10 15 10 16 10 17 10 16 11 17 10 17 11 18 11 17 11 18 12 18 11 18 12 18 12 18 12 19 12 19 12 18 12 19 13 19 12 19 12 19 12 19 12 19 13 19 12 19 12 19 12 19 12 19 11 19 12 18 12 30 30 29 29 29 28 28 27 27 26 26 25 25 24 23M3767 4607v1 2 2 1 3 1 4 1 5 1 5 2 6 2 6 2 8 2 8 3 9 2 10 3 10 3 11 3 12 3 12 4 13 4 13 4 14 5 14 5 15 4 16 5 17 4 17 5 18 5 18 5 19 5 19 6 19 6 20 6 20 6 21 6 21 6 21 7 21 7 22 6 23 6 23 6 23 7 23 7 23 7 23 7 24 6 24 7 24 7 24 7 24 7 24 7 24 7 24 7 24 6 25 6 24 7 24 7 23 7 24 6 24 6 30 30 29 28 29 28 27 28 26 26 26 25 24 24 23M3783 4615v1 2 3 4 4 1 5 7 8 8 10 10 11 1 11 1 13 14 14 1 15 16 1 17 18 19 19 1 19 1 21 21 1 22 23 23 1 24 25 25 1 25 1 25 1 26 1 27 1 27 28 1 27 1 28 1 28 1 29 1 29 1 29 1 29 1 29 1 30 1 29 1 30 1 30 1 30 30 1 30 1 30 1 29 1 29 1 30 1 29 1 28 1 30 29 29 29 28 28 27 27 26 26 26 25 24 24 23M3799 4623v1 2 3 3 1 4 1 5 1 5 2 6 1 7 2 8 1 9 2 9 2 10 2 11 2 12 2 12 3 13 3 13 3 14 3 15 3 15 4 16 3 17 4 17 4 17 4 18 4 19 4 20 4 20 4 20 5 20 5 21 5 21 5 22 5 22 5 23 5 23 5 23 5 24 5 24 5 24 5 24 6 24 6 24 5 25 6 24 6 25 5 25 6 25 5 25 6 25 5 25 6 24 6 25 5 25 5 25 5 25 5 24 5 24 29 29 29 28 27 27 27 26 26 26 24 24 24 23M3816 4631v1 2 2 2 2 2 2 2 4 2 4 3 5 3 5 3 6 4 6 4 7 5 7 5 7 6 8 6 8 7 9 6 10 6 11 7 10 8 11 7 12 8 12 8 12 9 12 9 13 9 14 9 14 10 14 10 14 10 15 10 15 11 15 11 16 11 16 11 16 11 17 11 17 11 17 12 17 12 17 12 17 12 17 13 17 12 18 12 18 12 18 12 18 13 17 13 18 12 18 12 18 12 18 12 18 12 18 12 18 12 17 12 18 12 17 29 28 28 28 28 27 26 26 26 25 25 24 23 23M3832 4639v1 1 2 1 2 1 3 1 4 2 4 2 5 2 5 3 6 3 7 3 7 4 7 4 9 4 9 4 10 4 10 5 11 5 11 6 11 6 12 6 13 6 13 7 13 7 14 7 14 8 14 8 15 8 15 8 16 9 16 8 17 8 17 9 17 9 18 9 18 9 18 9 18 10 18 10 19 9 19 10 19 10 19 10 20 10 19 10 20 10 20 10 20 10 20 10 20 10 20 10 20 10 19 11 19 10 20 10 20 10 19 10 19 10 19 10 29 28 28 28 27 27 26 26 26 25 24 24 23 23M3848 4647v1 3 3 4 5 1 5 1 6 1 7 9 9 1 10 11 1 11 1 12 1 13 1 14 1 14 2 15 1 16 1 17 1 17 2 18 1 19 1 19 2 20 1 21 1 21 2 21 2 22 2 22 2 23 2 24 1 24 2 25 2 24 2 26 1 26 2 26 2 26 2 26 2 27 2 27 2 27 2 27 3 27 2 28 2 27 2 28 2 28 2 27 2 28 2 28 2 27 2 28 2 27 2 27 2 27 2 27 2 28 28 28 28 27 27 26 26 25 25 24 24 23 23M3864 4654v1 1 2 1 2 1 3 1 4 1 5 1 6 1 7 1 7 2 8 2 8 2 9 3 9 3 10 3 11 3 11 4 12 3 13 3 14 3 14 4 15 4 15 4 16 4 16 5 16 5 17 5 17 5 18 5 19 5 19 5 19 6 20 5 20 6 20 6 21 6 21 6 21 6 21 6 22 6 22 7 22 6 23 6 22 7 22 7 23 6 23 7 22 7 23 6 23 7 23 6 23 7 23 6 23 7 22 7 23 6 22 7 22 6 23 6 22 28 27 28 27 26 26 26 25 25 24 24 23 23M3880 4662v1 1 1 1 2 2 2 2 3 2 3 4 3 4 3 5 4 5 4 5 5 6 5 6 6 7 6 7 6 8 6 8 7 9 7 9 8 9 8 10 8 10 9 11 9 11 9 11 10 11 10 12 10 13 10 13 10 13 11 13 12 13 11 14 12 13 13 13 13 14 12 15 12 15 13 14 13 15 13 15 13 15 14 15 13 16 13 16 13 16 13 16 13 16 14 15 14 15 14 16 13 16 14 15 14 15 14 15 14 15 13 16 13 15 13 15 13 28 28 27 26 27 26 25 26 24 24 24 23 22M3896 4669v1 1 1 2 1 3 4 1 5 6 1 6 1 7 1 8 1 9 1 9 2 10 1 11 2 11 2 12 2 13 2 14 2 14 2 15 2 16 2 16 3 16 3 17 3 18 2 19 3 18 3 20 3 20 3 20 3 21 3 22 3 22 3 22 4 22 3 23 4 23 3 24 4 23 4 24 4 24 3 25 4 24 4 25 4 24 4 25 4 25 4 25 4 25 4 25 4 25 4 25 4 25 4 25 4 25 4 24 4 25 3 25 4 24 3 28 27 27 27 26 26 26 25 24 24 24 23 22M3912 4676v1 1 1 2 1 2 1 4 1 4 1 5 2 5 2 6 2 7 2 8 2 8 3 9 2 10 3 10 3 11 3 11 4 12 3 13 3 14 4 13 4 15 4 15 4 15 5 16 4 17 4 17 5 17 5 18 5 18 5 19 5 19 6 19 6 19 6 20 6 20 6 20 6 21 6 21 6 22 6 21 7 21 6 22 7 22 6 22 6 23 6 22 7 22 7 22 6 23 6 23 6 23 6 22 7 22 6 22 7 22 6 22 6 22 6 22 6 21 27 27 27 26 25 26 25 24 24 23 23 22M3929 4683v1 1 1 1 2 2 2 2 3 2 3 3 4 3 4 3 5 4 5 4 6 5 6 5 7 5 7 6 7 6 9 5 9 7 9 6 10 7 10 7 11 7 11 8 12 7 12 9 12 8 13 9 12 9 14 9 13 10 14 9 15 9 15 10 15 10 15 10 15 11 16 10 16 11 16 11 16 11 16 11 16 12 16 12 16 12 16 12 17 11 17 12 17 11 17 12 17 11 17 12 17 12 17 11 17 12 16 12 17 11 17 11 17 11 16 11 17 11 27 26 27 26 25 26 24 25 24 23 23 22M3945 4689v1 1 2 3 4 5 6 7 7 8 1 9 10 11 11 13 13 14 15 16 16 17 18 18 19 20 20 1 20 1 21 22 23 23 24 24 25 25 25 1 25 1 26 26 27 27 28 27 1 27 28 28 28 1 28 28 29 28 28 1 28 28 28 28 28 27 1 27 27 27 27 26 26 25 26 24 24 24 23 23 22M3961 4696v1 1 1 1 2 1 3 2 2 3 3 3 3 3 5 3 5 3 6 4 6 4 6 5 7 5 7 5 8 5 9 6 8 6 10 6 10 6 11 7 10 7 11 8 11 8 12 8 12 8 13 8 13 9 13 9 13 9 14 10 14 9 15 9 15 10 15 10 15 10 16 10 16 10 16 11 16 11 16 11 16 11 16 11 17 11 17 11 16 12 16 12 17 11 17 11 17 11 17 12 16 12 17 11 17 11 17 11 16 12 16 11 16 12 16 11 16 11 16 26 26 26 25 25 25 24 24 23 23 22M3977 4702v1 1 1 2 3 1 4 5 1 5 1 6 1 7 1 7 2 8 1 9 2 9 2 10 2 10 3 11 2 12 2 13 2 14 2 14 3 14 3 15 3 15 4 16 3 16 4 17 3 18 3 18 4 18 4 19 4 19 4 20 4 20 4 20 4 21 4 22 4 21 4 22 5 22 4 22 5 22 5 22 5 23 4 23 5 23 4 24 4 23 5 23 5 23 5 23 5 23 5 23 5 23 5 23 5 23 4 23 5 23 4 23 4 23 4 22 5 26 26 26 25 25 25 24 23 23 23 22M3993 4708v1 1 1 2 1 2 1 3 2 3 2 4 2 5 2 6 2 6 3 7 2 8 3 8 3 8 4 9 4 9 4 10 4 11 4 12 4 12 5 12 5 12 6 13 5 14 5 14 6 14 6 15 6 16 6 15 7 16 7 16 7 16 7 17 7 18 7 17 8 17 8 18 7 19 7 19 8 18 8 19 8 19 8 19 8 19 8 20 8 19 8 20 8 20 8 20 8 20 8 19 8 20 8 20 8 19 9 19 8 19 8 20 7 20 7 19 8 19 7 19 26 26 25 25 24 24 24 23 22 22M4009 4713v1 1 2 1 2 1 3 1 3 2 4 1 5 2 5 2 7 2 6 3 7 2 9 2 9 3 9 3 10 3 10 4 11 3 12 3 13 3 13 4 13 5 13 5 14 4 15 5 15 4 16 5 16 5 17 5 17 5 17 6 17 6 18 5 19 5 19 6 19 6 19 6 20 6 19 7 20 6 20 6 21 6 20 7 21 6 21 6 21 7 21 6 21 7 21 6 21 7 21 7 21 6 21 7 21 6 21 7 20 7 21 6 20 7 20 6 21 6 20 6 26 25 25 25 25 24 23 23 23 22M4026 4719v1 1 1 1 2 1 3 1 4 1 4 2 4 2 6 2 6 2 6 3 7 3 7 3 9 3 9 3 9 4 10 4 10 4 11 4 12 4 12 5 12 5 13 5 14 4 15 5 14 5 15 6 15 6 16 5 17 5 17 6 17 6 17 6 18 6 18 7 18 6 19 7 18 7 19 7 19 7 19 7 20 7 19 7 20 7 20 7 21 7 20 7 20 7 21 7 20 7 21 7 20 7 20 8 20 7 20 7 20 7 20 7 20 7 19 7 20 6 20 6 19 26 25 25 24 24 23 23 23 22M4042 4724v1 1 1 2 1 2 1 3 2 3 2 4 2 5 2 6 1 7 2 7 2 8 2 9 2 9 3 10 3 10 3 11 3 11 4 11 4 12 4 13 4 13 4 14 5 14 4 15 5 15 5 15 5 16 5 17 5 17 5 18 5 18 5 18 6 18 6 18 6 19 6 19 6 19 6 20 6 20 6 20 6 21 6 20 6 21 6 21 6 21 6 21 7 21 6 21 6 21 6 21 7 21 6 21 6 21 6 21 6 21 6 21 6 20 6 20 6 20 6 20 6 25 25 25 24 24 24 23 22 22M4058 4729v1 1 1 2 1 2 1 3 2 3 2 4 2 5 2 5 2 6 3 6 3 7 3 8 3 8 4 9 3 10 4 9 4 11 4 11 5 11 5 11 5 12 6 12 6 13 5 14 6 14 6 14 6 15 6 15 7 15 7 16 6 16 7 17 7 16 8 17 7 17 7 18 7 18 8 18 7 19 7 19 7 19 8 18 8 19 8 19 8 19 8 19 8 19 8 19 8 19 8 19 8 19 9 19 8 19 8 18 8 19 8 19 7 19 8 18 8 18 8 18 7 18 25 24 25 24 23 23 23 22M4074 4734v1 2 1 2 1 3 4 1 5 1 5 1 6 1 7 1 8 1 8 2 8 2 9 2 10 2 11 2 11 2 12 3 12 2 14 2 14 2 15 2 15 3 15 3 16 3 16 3 17 3 18 3 18 3 18 4 18 4 19 4 19 4 19 4 20 4 21 3 21 4 21 4 21 4 22 4 22 4 22 4 22 4 22 5 22 4 23 4 23 4 23 4 23 4 23 4 23 4 23 4 22 5 22 5 22 4 23 4 22 4 23 4 22 4 21 4 22 4 21 4 25 25 24 24 23 23 23 22M4090 4738v1 1 1 1 2 1 3 1 3 2 3 3 3 3 4 3 5 3 6 3 6 4 6 4 7 5 7 5 7 5 8 6 8 6 9 6 9 6 10 7 10 7 10 7 11 7 12 7 12 8 12 8 12 8 13 8 13 9 13 9 14 9 13 10 14 9 14 10 14 10 15 10 15 10 15 10 15 10 16 10 16 10 16 10 16 11 15 11 16 11 16 11 16 10 16 11 16 11 16 11 16 11 16 11 16 10 16 11 16 10 16 11 15 11 15 11 15 10 15 11 15 10 15 24 24 24 24 23 22 22M4106 4742v1 1 3 3 4 1 4 1 5 7 7 1 8 9 10 10 12 12 13 13 15 15 15 1 16 17 17 1 18 19 19 1 19 1 20 21 22 22 22 1 22 1 23 24 24 24 1 24 1 24 1 25 26 26 26 26 26 1 26 27 26 1 26 1 26 27 26 1 26 26 1 26 26 1 25 1 25 1 25 25 1 25 24 1 24 25 24 23 23 23 22M4122 4745v1 1 1 1 1 1 2 2 2 2 3 3 2 4 3 4 3 4 4 5 4 5 4 6 5 6 5 6 6 7 5 8 6 7 7 8 6 9 7 9 7 9 8 10 7 10 8 11 8 11 8 11 9 12 8 12 9 12 10 12 10 12 10 13 10 13 10 13 11 13 11 14 10 14 11 14 11 14 11 15 11 14 11 15 11 15 11 15 12 15 11 15 12 15 11 15 12 15 11 16 11 15 12 15 11 15 12 15 11 15 11 15 11 15 11 15 11 14 11 15 10 15 10 14 11 24 24 23 23 23 22M4139 4749v1 1 1 1 2 1 3 1 3 1 5 1 5 1 6 1 6 2 7 2 7 2 8 2 9 2 10 2 10 2 11 3 11 3 12 2 13 3 13 3 13 3 14 3 15 3 16 3 16 3 16 4 16 4 17 4 17 4 18 4 18 4 19 4 19 4 19 4 20 4 20 4 21 4 20 5 20 5 21 4 21 5 21 5 21 5 21 5 21 5 22 4 22 5 22 4 22 5 22 5 21 5 22 4 22 5 22 4 22 4 22 4 22 4 21 5 21 4 21 4 21 4 20 4 20 24 24 23 22 23M4155 4752v1 1 1 2 3 1 3 1 4 1 4 2 5 1 6 2 6 2 7 2 8 2 8 3 8 3 9 3 10 3 10 3 12 3 11 4 12 3 13 3 14 3 14 4 14 4 15 4 15 4 16 4 16 4 17 4 17 5 17 5 17 5 18 5 18 5 19 5 19 5 19 5 19 6 19 6 19 6 20 5 20 6 20 6 20 6 20 6 21 5 21 5 21 6 21 5 21 6 21 5 21 5 21 6 21 5 21 5 21 5 20 6 20 5 21 5 20 5 20 5 19 5 20 5 24 23 23 23 22M4171 4755v1 1 1 1 1 2 2 2 2 3 2 3 3 4 3 4 3 5 4 5 4 5 4 7 4 7 4 7 6 7 5 8 6 8 6 9 6 9 7 9 7 10 7 10 8 10 8 11 8 11 8 12 8 12 8 12 9 13 9 12 10 13 9 13 10 13 10 14 9 14 10 14 11 14 10 15 10 15 10 15 11 14 11 15 11 15 11 15 11 15 11 15 11 16 11 15 11 15 11 16 11 15 11 15 11 15 11 16 10 15 11 15 11 15 10 15 11 14 11 14 10 15 10 14 10 14 23 24 22 23M4187 4757v1 1 1 1 2 1 3 5 5 6 7 8 8 1 8 1 9 1 10 1 11 12 1 12 1 13 14 1 14 1 15 1 15 1 16 1 17 1 17 1 18 1 19 1 19 1 19 1 20 1 21 1 21 1 21 1 22 1 22 1 23 1 23 1 23 1 24 1 23 2 24 1 24 1 24 2 24 2 24 1 25 1 25 2 24 2 25 1 25 1 25 2 25 1 25 1 25 1 25 1 25 1 25 1 24 1 24 2 24 1 23 2 23 1 23 2 22 2 22 23 23 22M4203 4759v1 1 1 1 1 3 1 3 1 3 2 4 2 4 2 6 2 6 2 6 3 7 3 7 3 8 4 8 4 9 3 10 4 10 4 10 5 11 4 12 5 11 5 13 5 12 6 13 6 13 6 13 6 15 6 14 7 14 7 15 7 15 7 16 6 17 7 16 7 16 8 17 7 17 7 17 8 17 8 18 7 18 8 17 8 18 8 18 8 18 8 18 8 18 8 19 8 18 8 18 8 18 8 18 8 18 8 18 8 18 8 18 7 18 8 17 8 17 8 17 7 17 8 17 7 16 8 23 23 22M4219 4760v1 1 1 2 1 2 1 3 2 3 2 3 3 4 2 5 3 5 3 6 3 6 4 6 4 7 4 8 4 9 4 9 5 9 5 9 6 10 5 11 5 11 6 11 6 12 6 13 6 13 6 13 7 13 7 14 7 14 7 14 8 14 8 15 8 15 8 15 8 16 8 16 8 16 8 16 9 16 9 16 9 17 9 16 9 17 9 17 9 17 9 17 9 17 9 17 9 17 9 17 9 17 10 17 9 17 9 16 9 17 9 17 9 16 9 16 9 16 9 16 8 16 9 15 9 15 8 16 23 22M4236 4762v1 2 3 4 4 6 6 7 7 9 9 10 11 11 13 13 13 15 15 15 17 17 17 18 19 19 1 19 21 21 21 22 22 23 23 23 1 23 24 25 24 1 24 1 25 25 26 25 1 25 26 26 1 25 1 26 26 26 26 26 26 25 1 25 25 1 25 25 24 1 24 24 24 23 23 23M4252 4763v1 1 1 1 1 2 2 2 2 3 2 4 2 4 2 5 3 5 3 6 3 6 4 6 4 7 4 8 4 9 4 9 4 10 4 10 5 10 6 10 6 11 6 11 6 12 6 12 6 13 7 13 6 14 6 14 7 14 7 15 7 15 7 15 8 15 8 15 8 16 8 16 8 16 8 16 9 16 8 17 9 16 9 17 8 18 8 17 9 17 9 17 9 17 9 17 9 17 9 17 9 18 8 18 8 17 9 17 9 17 8 17 9 17 8 17 8 17 8 16 8 17 8 16 8 15 8 16 7 23M4268 4763v1 1 1 2 1 2 1 3 1 4 1 4 2 4 3 5 2 6 2 6 3 7 3 7 4 7 4 8 4 8 4 9 5 9 5 10 5 10 5 11 5 11 6 11 6 12 6 13 6 13 6 13 7 13 7 14 6 15 7 14 7 15 7 15 8 15 8 15 8 16 8 16 8 16 8 17 8 16 9 16 9 17 8 17 9 17 8 17 9 17 9 17 9 17 9 17 9 17 9 17 9 17 9 17 9 17 9 17 9 17 8 17 9 17 8 17 8 17 8 16 8 16 9 15 8 16 8 15 8 15M4284 4763v1 1 2 3 4 4 5 6 7 8 8 10 10 10 12 12 13 14 14 15 16 16 17 17 19 18 20 19 21 21 21 22 22 23 23 23 24 24 24 25 25 25 26 25 26 26 26 26 26 26 26 26 26 26 26 25 26 25 25 25 25 24 24 24 24 23" fill="none" stroke="none" marker-start="url(#d)" marker-mid="url(#d)" marker-end="url(#d)"/></g>
<g clip-path="url(#cp_b2)"><path transform="scale(0.1)" d="M4527 5317v1 1 2 3 3 3 4 5 5 6 6 6 8 7 8 9 9 10 10 10 11 11 12 12 13 12 14 13 14 14 15 15 15 15 16 16 16 16 16 17 17 17 17 17 17 17 18 17 17M4543 5316v1 2 2 2 3 4 4 4 5 6 6 7 7 8 8 8 1 9 9 10 11 10 1 11 12 12 12 13 13 14 14 14 15 14 15 1 15 16 15 16 17 16 17 17 17 17 17 17 17 18 17 17 18M4559 5315v1 1 2 3 3 3 4 5 5 6 6 6 8 7 8 1 8 9 10 10 10 11 11 1 11 12 1 12 13 13 14 14 14 15 14 1 15 15 16 16 16 16 17 16 1 16 17 17 17 1 17 17 17 1 17 17 18 17M4575 5312v1 1 1 1 3 3 3 1 3 1 4 5 6 6 7 7 8 8 9 9 9 1 9 1 10 11 11 1 11 1 11 1 12 13 13 1 13 1 13 1 13 1 14 1 14 1 14 1 15 15 1 15 1 15 1 16 1 15 1 16 1 16 1 16 1 16 1 17 1 16 1 16 1 17 17 18 18 17 18M4592 5308v1 2 2 2 3 4 4 4 1 4 1 5 1 5 1 6 1 6 1 7 1 7 1 8 1 8 1 9 1 9 1 10 1 10 1 10 1 11 1 11 2 11 1 12 1 12 2 12 2 12 2 13 1 13 2 13 2 14 2 13 2 14 2 14 2 14 2 15 2 15 2 15 2 15 2 15 2 15 2 15 3 15 2 15 18 18 17 18 18 17 18M4608 5303v1 1 1 2 2 1 2 1 3 1 3 1 3 2 4 1 4 2 4 2 5 2 5 2 6 2 7 2 6 2 8 2 7 3 7 3 8 3 8 3 9 3 9 3 9 3 10 3 10 3 10 4 10 4 10 4 11 3 12 3 12 4 11 4 12 4 12 4 12 4 13 4 12 4 13 4 13 4 13 4 14 4 13 4 14 4 13 18 18 18 17 18 18 18 17 18M4624 5298v1 1 1 1 1 1 1 2 1 3 1 3 2 2 2 4 2 3 3 3 3 4 3 5 3 4 4 5 3 6 3 6 4 6 4 6 4 7 4 7 4 7 5 7 5 8 5 8 5 8 5 8 6 8 6 9 6 8 7 8 7 9 6 9 7 9 7 9 7 10 6 10 7 10 7 10 7 10 7 10 8 10 7 10 8 10 18 18 18 18 18 18 18 18 18 17 18M4640 5291v1 1 1 1 1 1 2 1 2 2 2 2 3 1 4 1 4 2 4 2 5 2 5 3 5 2 6 3 5 4 6 3 6 4 6 4 7 4 7 4 8 4 8 4 8 5 8 4 9 5 9 5 8 6 9 5 9 6 9 6 10 5 10 6 10 6 11 5 11 6 11 6 10 7 11 6 11 6 11 7 11 6 12 6 18 18 18 18 18 19 18 18 18 18 18 18 18M4656 5283v1 1 2 2 3 3 4 5 5 6 6 7 7 8 8 1 8 1 8 1 9 1 10 10 1 11 11 1 12 12 1 12 1 13 1 13 14 1 13 1 14 1 15 15 1 15 1 15 1 16 1 15 1 16 1 16 1 17 1 16 1 17 1 17 1 18 18 18 19 18 18 19 18 19 18 18 19 18 18 18M4672 5275v1 1 1 2 1 2 1 2 2 2 2 3 1 4 2 4 2 4 2 5 2 5 3 5 3 5 3 6 3 7 3 7 3 7 4 7 4 8 3 8 4 9 4 8 5 9 4 9 5 9 5 10 4 10 5 10 5 11 5 11 5 11 5 11 5 12 5 12 5 12 5 12 6 12 5 12 6 12 6 13 18 18 19 18 19 18 19 19 19 18 19 19 18 18 19 18M4688 5265v1 2 2 2 1 2 1 3 1 4 1 4 1 4 1 5 2 5 1 6 2 6 2 6 2 7 2 7 3 7 3 8 2 8 3 9 3 9 2 10 3 10 3 10 3 10 4 10 4 11 3 12 3 12 3 12 4 12 4 12 4 13 4 13 4 13 4 13 4 14 4 13 5 13 5 13 5 18 19 18 19 19 19 19 19 19 19 19 19 19 18 19 19 18 19M4705 5255v1 1 1 1 1 2 1 2 1 3 1 4 1 4 1 4 2 4 2 5 2 5 3 5 3 6 2 7 2 7 3 7 3 8 3 8 3 8 4 8 4 9 4 9 4 9 4 10 4 10 5 10 4 11 4 11 5 11 5 11 5 12 5 11 5 12 6 12 5 12 6 12 5 13 6 13 5 13 19 18 19 19 19 20 19 19 20 19 19 20 19 19 19 19 19 18 19M4721 5244v1 1 2 2 3 4 4 5 5 1 5 1 6 1 6 1 7 1 7 1 8 1 9 1 9 1 9 1 10 1 11 1 11 1 11 2 11 2 12 1 13 1 13 1 14 1 14 1 15 1 14 2 15 1 15 2 15 2 15 2 16 2 16 1 17 2 16 2 17 1 19 19 19 19 20 19 20 19 20 19 20 20 19 20 20 19 19 20 19 19 18M4737 5232v1 1 1 1 1 1 2 1 2 1 3 2 2 2 4 2 3 3 4 2 5 3 4 3 5 4 5 4 5 4 6 4 7 4 6 5 7 4 8 5 7 5 8 5 9 5 8 6 9 5 10 5 10 6 9 6 10 7 10 6 10 7 10 7 11 6 11 7 11 7 11 8 11 7 12 7 19 19 20 19 20 19 20 20 20 20 20 20 20 20 20 20 20 19 20 19 19 19M4753 5220v1 1 1 2 1 1 2 2 1 3 2 2 2 4 2 4 2 4 3 4 3 5 3 5 4 5 4 6 3 7 4 6 4 7 5 7 5 7 5 8 5 8 5 9 5 9 5 9 6 9 6 10 6 10 6 10 6 11 6 11 6 11 7 11 7 11 7 11 7 11 8 11 8 11 20 19 20 20 20 20 20 20 21 20 20 21 20 21 20 20 20 20 20 20 20 19 19M4769 5207v1 1 2 2 1 3 3 1 4 1 4 1 5 1 5 2 5 2 6 2 6 2 7 2 7 2 8 3 7 3 9 3 8 3 9 4 9 3 10 4 10 4 10 4 11 4 11 4 12 4 12 4 12 4 13 4 13 5 13 4 13 5 14 4 14 5 14 5 14 5 14 20 20 20 20 20 21 20 21 21 20 21 21 21 21 21 20 21 20 21 20 20 20 19 20M4785 5194v1 1 1 2 3 3 1 3 1 4 1 5 1 5 1 6 1 6 2 6 2 7 2 7 2 8 2 9 2 9 2 9 3 10 2 10 3 11 2 11 3 12 3 11 4 11 4 12 4 12 4 13 3 14 3 14 4 14 4 14 4 14 4 15 4 15 4 16 4 15 20 20 20 21 21 20 21 21 21 22 21 21 21 22 21 21 21 21 21 21 20 20 21 19 20M4801 5180v1 1 2 2 1 3 4 1 3 1 4 2 4 2 5 2 5 2 6 2 7 2 7 2 8 2 8 3 8 3 9 3 9 3 9 4 10 3 10 4 11 3 12 3 12 4 12 4 12 4 12 5 13 4 13 4 14 4 14 5 14 5 14 5 14 5 15 5 15 20 20 21 21 21 21 21 21 22 22 21 22 22 21 22 22 21 22 21 21 21 21 21 20 20 20M4818 5165v1 1 1 1 1 1 2 2 2 2 2 2 3 2 4 2 5 2 5 2 5 3 6 3 6 3 6 4 7 3 7 5 7 4 8 4 9 4 9 5 9 5 9 5 10 5 10 6 10 6 10 6 11 6 11 6 12 6 12 6 12 7 12 7 12 7 13 7 13 7 13 20 21 21 21 21 22 21 22 22 22 22 22 22 23 22 22 22 22 22 21 22 21 22 21 20 21 20M4834 5150v1 1 1 1 2 1 2 1 2 2 3 2 3 2 4 2 4 3 4 4 4 4 5 4 5 4 6 4 6 5 6 5 7 5 7 6 7 6 7 7 7 7 8 7 8 7 9 7 9 7 10 7 10 7 10 8 10 8 11 8 10 9 11 8 11 9 11 9 11 9 21 21 21 22 21 22 22 23 22 22 23 22 23 23 22 23 22 23 22 22 22 22 22 22 21 21 21 21M4850 5135v1 1 1 1 1 2 1 3 1 3 1 4 1 5 1 5 1 6 2 6 1 7 2 8 1 8 2 9 2 9 2 9 3 10 2 11 2 11 3 11 3 12 3 12 3 13 3 13 3 14 3 14 4 14 3 15 4 15 3 16 4 15 4 16 4 17 3 17 4 21 21 22 21 22 23 22 22 23 23 23 23 23 23 23 23 23 23 23 23 23 22 23 22 22 21 22 21 21M4866 5120v1 2 2 1 3 4 4 1 5 1 5 1 6 1 6 2 7 1 8 1 8 2 9 1 10 1 10 2 11 2 11 1 12 2 12 2 13 2 13 2 14 2 14 3 14 3 15 2 16 2 16 3 16 3 16 3 17 3 17 3 17 3 18 3 18 22 21 22 23 22 23 23 23 23 24 23 24 23 24 23 24 23 24 23 23 24 22 23 23 22 22 22 22 21M4882 5104v1 1 1 1 1 2 1 2 2 2 3 2 4 2 4 3 4 3 4 4 5 4 5 4 6 4 6 5 6 5 7 5 7 6 7 6 8 6 8 7 8 7 9 7 9 7 10 7 10 8 9 9 10 8 10 9 10 9 11 9 11 9 12 9 11 10 12 9 22 22 22 23 23 23 23 23 24 24 24 24 24 24 24 24 24 24 24 24 23 24 23 24 22 23 23 22 22 21M4898 5088v1 1 2 3 1 3 5 5 6 7 8 8 9 10 10 1 11 11 1 12 13 14 14 1 14 1 15 16 1 16 18 17 1 18 19 19 1 19 1 19 1 20 1 20 1 21 22 22 23 23 23 23 24 23 24 25 24 24 25 24 25 25 24 25 24 25 24 24 24 24 23 24 23 23 22 23 22M4914 5071v1 1 1 2 1 1 2 2 2 3 2 3 3 3 3 4 3 5 3 5 4 5 4 6 4 6 5 7 5 6 6 7 6 7 7 7 7 8 7 8 7 9 7 10 7 10 8 9 8 10 9 10 9 10 9 11 9 11 10 11 9 12 10 12 9 13 10 22 23 23 23 24 24 24 24 25 25 24 25 25 25 26 25 25 25 25 25 24 25 24 25 24 24 23 23 23 23 22M4930 5055v1 2 1 2 3 1 4 5 1 5 1 6 1 6 1 7 2 7 2 8 2 9 1 10 1 11 1 11 2 12 2 12 2 12 3 13 2 14 2 14 3 15 2 15 3 16 2 17 2 17 3 17 3 18 2 18 3 19 3 19 3 19 3 20 23 23 23 24 25 24 25 25 25 25 25 26 25 26 26 25 26 25 26 25 26 25 25 24 25 24 24 24 23 23 23M4947 5038v1 1 1 1 2 1 3 1 3 1 4 2 4 2 5 2 6 2 6 2 7 2 8 3 8 2 9 3 10 2 10 3 11 3 11 3 12 4 12 3 13 4 13 4 14 3 15 4 15 4 15 4 16 4 16 4 17 4 17 5 17 5 17 5 18 5 23 24 23 25 24 25 25 25 26 25 26 26 26 26 26 26 26 27 26 26 25 26 26 25 25 25 25 25 24 23 24 23M4963 5021v1 1 1 1 2 2 1 3 2 2 3 3 3 3 4 4 3 5 4 5 4 5 5 6 5 6 5 7 6 6 7 7 7 7 7 8 7 8 8 8 9 8 9 9 9 9 9 10 9 10 10 10 10 10 10 11 11 11 10 12 11 11 11 12 11 12 24 24 24 25 25 25 26 26 26 26 26 27 26 27 27 26 27 27 26 27 26 26 26 26 26 25 26 25 24 24 24 24M4979 5004v1 1 1 2 1 2 1 3 1 4 2 4 2 5 2 5 2 7 2 7 2 8 2 8 3 9 3 9 3 10 3 11 3 11 4 12 3 13 3 13 4 13 5 13 5 14 4 15 5 15 5 15 5 16 5 17 5 17 5 17 5 18 5 18 6 18 24 25 25 25 26 26 26 26 27 26 27 27 27 27 28 27 27 27 27 27 27 27 27 26 26 26 26 25 25 25 24 24M4995 4987v1 1 1 2 4 4 5 6 7 8 8 1 9 10 11 12 12 1 13 14 15 15 1 15 1 16 1 17 1 18 19 19 1 19 1 20 1 21 21 1 22 1 22 1 22 1 23 1 24 24 25 26 26 26 26 27 27 27 27 27 28 28 27 28 28 28 27 28 27 28 27 27 27 27 26 26 26 26 25 25 24M5011 4970v1 1 3 3 1 4 5 1 5 1 6 1 7 1 8 1 8 1 9 2 10 1 11 1 11 2 12 2 12 2 14 1 14 2 15 2 15 2 16 2 17 2 17 3 17 3 18 2 19 3 19 2 20 3 20 3 20 3 21 3 22 3 24 26 25 26 27 26 27 27 28 27 28 28 28 28 29 28 28 29 28 28 28 28 28 27 28 27 27 26 27 26 25 26 24M5027 4952v1 2 2 1 3 1 3 1 5 1 5 1 6 2 6 2 7 2 7 3 8 2 9 3 9 3 10 3 11 3 12 3 12 4 12 4 13 4 14 4 14 4 15 5 15 4 16 5 16 5 17 5 17 5 17 6 18 5 19 5 19 5 20 5 26 25 27 26 27 27 28 27 28 28 29 28 29 29 29 28 29 29 29 29 28 29 28 28 28 28 27 27 27 26 26 26 25M5043 4935v1 1 1 2 1 3 1 3 2 3 2 5 2 5 2 6 3 6 3 7 3 7 4 8 4 8 4 10 4 10 4 10 5 11 5 11 6 12 5 13 5 13 6 13 6 14 7 14 7 15 6 15 7 16 7 16 7 17 7 17 7 18 7 18 8 26 26 26 27 28 28 28 28 28 29 29 29 29 29 30 29 30 29 29 29 30 29 28 29 29 28 28 27 28 26 27 26 26M5060 4918v1 1 1 2 1 2 2 3 2 3 2 5 2 5 3 5 3 6 3 7 4 7 4 8 4 8 5 9 5 9 5 10 5 11 6 11 6 11 6 13 6 13 6 13 7 14 7 14 7 14 8 15 7 16 7 16 8 16 9 16 8 17 9 17 9 26 27 27 27 28 28 29 29 29 29 29 30 30 30 30 29 30 30 30 30 30 29 30 29 29 28 29 28 28 27 27 27 26M5076 4900v1 2 2 1 3 1 4 1 4 2 5 2 5 3 6 2 7 3 7 3 8 4 8 4 9 4 10 4 10 5 10 6 11 5 12 5 12 6 13 6 13 7 13 7 14 7 15 7 15 7 15 8 16 8 16 8 16 9 17 8 17 9 17 9 27 27 28 28 28 29 29 29 30 30 29 31 30 30 31 30 31 30 31 30 30 30 30 30 29 30 28 29 28 28 28 27 27M5092 4883v1 1 1 2 1 3 1 4 1 4 2 5 2 6 2 6 3 7 2 8 3 8 4 8 4 9 4 10 5 10 5 11 5 11 5 13 5 13 5 14 5 14 6 15 6 15 6 16 6 16 7 17 6 17 7 18 7 18 7 18 8 19 7 19 8 27 28 28 29 28 30 29 30 30 30 31 31 30 31 31 31 31 31 31 31 31 31 30 30 30 30 30 29 29 28 28 28 27M5108 4865v1 1 1 1 2 1 3 1 4 1 5 1 5 2 6 2 7 2 7 3 8 2 10 2 10 3 10 3 12 3 12 3 13 3 14 3 14 4 15 4 15 4 16 4 17 4 17 5 18 4 19 4 19 5 19 6 19 6 20 5 21 5 21 6 22 5 28 28 29 29 29 30 30 30 31 31 31 31 31 32 31 32 32 31 32 31 31 32 31 30 31 30 30 30 29 29 29 28 27M5124 4848v1 2 3 4 5 1 5 1 6 1 7 1 8 1 9 1 9 2 10 2 11 1 13 1 13 2 14 1 15 2 15 2 16 2 17 2 17 3 18 2 19 2 20 2 21 2 21 3 21 3 22 3 22 3 23 3 24 3 24 3 24 3 29 28 29 30 30 30 30 31 31 32 31 32 32 32 32 32 32 32 32 32 32 32 31 32 31 31 30 30 30 30 29 28 28M5140 4831v1 2 3 4 5 6 7 1 7 1 9 10 11 12 13 14 14 1 15 1 16 17 1 18 19 20 21 21 1 21 1 23 23 1 24 1 24 1 25 1 25 1 26 1 27 1 27 1 28 29 29 30 30 31 31 32 31 32 32 32 33 32 33 33 32 33 33 32 32 33 32 32 31 32 31 30 31 30 29 29 29M5156 4814v1 2 3 4 1 4 1 5 1 6 2 6 2 7 2 9 2 9 2 10 2 11 3 11 3 12 3 13 3 14 3 14 4 15 4 15 4 17 4 17 4 18 4 18 5 19 4 20 5 20 5 20 5 21 5 22 5 23 5 23 5 23 6 23 30 30 30 31 31 32 31 33 32 33 32 33 33 33 34 33 33 33 33 33 33 33 32 32 32 32 31 31 30 31 29 29M5173 4797v1 1 1 2 2 2 2 3 3 4 2 5 3 5 3 6 4 6 5 7 4 8 5 8 5 9 6 9 6 10 7 10 7 11 7 12 8 12 8 12 8 14 8 14 8 15 9 14 10 15 9 16 10 16 10 16 11 17 10 17 11 18 11 18 11 18 30 31 30 32 31 32 33 32 33 33 34 33 34 33 34 34 34 33 34 33 34 33 33 33 32 32 32 31 31 31 30 30M5189 4780v1 1 2 1 2 2 3 2 4 2 4 3 5 4 5 4 6 4 7 4 8 5 8 5 8 6 9 7 9 7 10 7 11 7 11 8 12 8 12 9 12 9 14 9 13 10 14 10 15 10 15 10 16 10 16 11 17 11 17 11 17 12 17 12 18 12 30 31 31 32 32 33 33 33 33 34 34 34 34 34 34 34 35 34 34 34 34 34 33 33 33 33 32 32 32 31 31 30M5205 4763v2 2 1 3 1 4 1 5 1 6 1 7 1 8 1 9 2 9 2 10 2 12 2 12 2 13 3 13 3 14 3 16 3 16 3 17 3 17 4 18 4 19 3 20 4 20 4 21 4 22 4 22 4 23 5 23 5 23 5 24 5 25 5 25 5 31 31 32 32 33 33 33 34 34 34 34 34 35 35 34 35 35 35 34 35 35 34 34 34 33 33 33 33 32 32 31 31M5221 4746v2 3 3 1 4 1 5 1 7 8 1 8 1 9 1 11 1 11 1 13 1 13 2 14 1 15 2 16 1 17 2 17 2 19 2 19 2 20 2 21 2 21 3 22 2 23 3 23 3 24 3 25 3 25 3 26 3 26 3 27 4 27 3 28 32 32 33 33 33 34 34 34 35 35 35 35 35 35 36 35 35 36 35 35 34 35 34 34 34 34 33 32 33 31 32M5237 4729v1 1 1 2 1 2 2 3 2 4 3 4 3 5 4 6 3 7 4 7 5 8 5 8 6 9 6 9 7 10 7 11 7 11 8 12 7 13 8 13 9 14 9 14 9 15 9 16 9 16 10 17 10 17 10 18 10 18 11 18 12 18 12 19 11 20 12 19 32 33 33 33 34 34 35 35 35 35 36 35 36 36 36 35 36 36 36 35 36 35 35 34 35 34 33 33 33 32 32M5253 4713v1 2 1 2 1 3 2 4 2 5 2 5 3 6 3 7 4 7 4 8 4 10 4 10 5 10 5 12 5 12 6 12 6 14 6 14 7 14 7 15 7 16 8 16 8 17 8 18 8 18 8 19 9 19 9 20 9 20 9 21 10 21 9 22 10 22 10 32 33 34 34 34 34 35 36 35 36 36 36 36 37 36 36 37 36 36 36 36 36 35 35 35 35 34 34 33 33 32M5269 4696v2 2 3 5 6 7 8 9 10 12 12 14 14 16 17 17 1 18 20 21 21 1 22 24 24 25 26 1 26 28 28 1 28 1 29 1 30 31 32 32 33 33 34 34 35 35 35 36 36 36 37 36 37 37 37 37 37 36 37 37 36 36 36 36 35 36 34 35 33 34 33M5286 4680v1 1 1 1 3 1 3 2 4 2 5 2 6 3 6 3 7 4 7 5 8 4 9 5 10 5 11 5 11 7 11 7 12 7 13 7 14 7 15 8 14 9 15 9 16 9 16 9 17 10 17 10 18 10 19 10 19 11 20 10 20 12 20 11 21 11 22 11 22 34 34 35 35 35 36 36 37 36 37 37 37 38 37 38 37 37 37 38 37 36 37 36 36 36 35 35 34 34 34M5302 4664v1 1 1 2 1 3 1 4 2 5 2 5 2 7 2 8 3 8 3 9 3 10 4 10 5 11 4 12 5 13 5 13 6 14 6 15 6 15 7 16 7 17 6 18 7 18 8 19 7 20 8 20 8 20 9 21 8 22 9 22 9 23 9 23 9 24 9 24 10 34 34 35 36 36 36 37 37 37 37 38 37 38 38 38 38 38 37 38 37 38 37 37 36 36 36 36 34 35 34M5318 4648v1 2 3 4 5 1 6 7 1 8 1 9 1 11 1 11 1 12 2 13 2 14 1 16 1 17 1 18 1 19 1 20 2 20 2 21 2 22 2 23 2 23 3 24 2 26 2 26 3 26 3 27 3 28 3 28 3 29 3 30 3 30 3 31 3 32 34 36 36 36 37 37 37 38 38 38 38 38 38 39 38 38 39 38 38 38 37 38 37 36 37 36 35 35 35M5334 4633v1 1 1 1 2 2 3 2 3 4 3 4 5 4 5 5 5 6 6 7 6 7 7 8 7 8 8 9 9 9 9 10 10 10 10 11 11 12 11 12 11 13 12 13 12 14 13 14 13 14 14 15 14 15 15 15 15 16 16 16 15 17 16 17 16 18 16 18 17 18 35 36 36 37 37 38 37 38 39 38 39 38 39 39 39 39 39 38 39 38 38 38 38 37 37 36 36 36 35M5350 4617v1 1 2 4 4 1 5 1 7 1 7 1 9 1 10 1 11 1 12 2 13 1 14 2 15 2 16 2 17 2 18 2 19 2 20 2 21 3 21 3 22 3 23 3 24 3 25 3 25 4 26 3 27 4 27 4 28 4 29 3 30 3 31 3 31 4 31 4 36 36 36 38 37 38 38 38 39 39 39 39 40 39 39 40 39 39 39 39 39 38 38 38 37 37 37 36 36M5366 4602v1 1 1 1 3 1 4 1 5 2 5 3 6 2 7 4 7 4 8 4 10 4 10 5 11 5 12 5 12 6 14 6 14 6 15 7 15 7 16 8 17 7 18 8 18 8 19 9 19 9 20 9 21 9 21 10 22 10 22 10 23 10 23 11 24 10 24 11 25 11 25 36 37 38 38 38 38 39 39 40 39 40 39 40 40 40 40 39 40 39 40 39 38 38 38 38 37 37 36M5382 4587v1 1 1 2 1 3 2 4 2 5 2 6 2 7 3 7 3 9 3 10 4 10 4 11 5 12 4 14 4 14 5 15 5 16 5 17 6 17 6 18 6 19 7 19 7 20 7 21 7 22 8 22 7 23 8 24 8 24 8 25 8 25 9 26 8 27 9 26 9 27 10 36 38 37 39 38 39 39 40 40 40 40 40 40 41 40 40 40 40 40 40 39 40 38 39 38 38 37 37M5399 4572v1 1 1 2 1 4 1 4 2 5 2 6 2 8 2 9 2 9 3 10 3 12 3 12 3 14 3 15 3 16 4 16 4 17 4 18 5 19 4 20 5 20 6 21 5 22 6 23 5 24 6 24 6 25 6 26 6 26 7 26 7 27 7 28 7 28 7 29 8 29 7 30 38 38 38 39 40 39 40 40 41 40 41 41 40 41 41 41 40 41 40 40 39 40 39 38 39 37 38M5415 4558v1 2 1 3 1 4 2 4 2 5 3 6 3 7 4 7 5 8 5 9 5 10 5 11 6 11 7 12 6 13 7 14 8 14 8 15 8 16 9 16 9 17 10 18 9 19 10 19 10 20 10 20 11 21 11 21 12 22 11 23 12 22 12 24 12 24 12 24 13 25 13 38 38 39 39 40 40 40 41 40 41 41 42 41 41 41 42 41 40 41 41 40 40 39 39 39 38 38M5431 4543v1 1 2 4 5 1 5 1 7 1 8 1 9 2 10 2 11 2 12 2 13 2 15 2 15 3 16 3 17 3 18 3 20 3 20 3 21 4 22 3 23 4 24 4 24 4 26 4 26 4 27 4 28 5 28 5 29 4 30 5 31 4 31 5 32 5 32 5 33 5 33 39 39 40 40 40 41 41 41 41 42 41 42 42 41 42 41 42 41 41 41 40 40 40 39 39 38M5447 4529v1 1 1 2 2 3 2 3 3 4 3 6 3 6 4 7 5 7 5 9 5 9 6 10 7 10 7 12 7 12 8 13 8 13 9 14 10 14 10 16 10 16 10 17 11 17 11 18 12 18 12 19 12 20 13 20 13 20 14 21 13 22 14 22 14 22 14 23 15 23 15 23 15 39 40 40 40 41 41 41 42 41 42 42 42 43 42 42 42 42 41 42 41 41 41 40 40 39 39M5463 4515v1 2 3 5 5 1 7 1 7 1 9 1 10 2 11 1 12 2 13 2 15 1 16 2 17 2 18 2 19 2 20 2 21 3 22 2 23 3 24 3 24 3 26 3 26 4 27 3 28 4 29 3 30 4 30 4 31 4 31 4 33 3 33 5 33 4 34 4 35 4 35 40 40 41 41 42 41 42 42 43 42 43 42 43 42 43 42 42 42 42 41 41 41 40 40 40M5479 4502v1 2 1 3 2 3 2 4 3 5 4 5 4 7 4 8 4 9 5 9 6 10 6 10 7 11 8 12 8 12 8 14 9 14 9 15 9 16 10 16 10 17 11 17 12 18 11 19 12 19 12 20 13 20 13 21 13 21 14 22 14 22 14 23 14 24 14 24 15 24 15 24 15 40 41 41 41 42 42 42 43 43 42 43 43 43 43 43 43 43 42 42 42 42 41 41 40 40M5495 4488v2 2 1 3 1 5 6 1 7 1 9 1 9 2 10 2 12 2 12 2 14 2 15 3 16 2 17 3 18 3 19 3 21 3 21 3 22 4 23 3 25 3 25 4 26 4 26 4 28 4 29 4 29 4 30 5 30 5 31 5 32 5 32 5 33 5 34 5 34 5 35 5 35 41 41 42 42 42 43 43 43 43 44 43 43 44 43 43 43 43 43 42 43 41 42 40 41M5512 4475v1 1 1 2 2 3 2 4 2 5 3 6 3 7 4 7 5 8 5 9 5 10 6 11 6 12 6 13 7 13 7 14 8 15 8 16 9 16 9 17 10 17 10 19 10 19 10 20 11 21 11 21 11 22 12 22 12 23 12 24 12 24 13 25 13 24 14 25 14 25 14 26 14 27 14 41 42 41 43 43 43 43 43 44 43 44 44 44 44 43 44 43 43 43 43 42 42 41 41M5528 4462v1 2 3 1 4 1 5 1 6 2 7 2 8 2 10 2 11 2 12 3 13 3 13 4 14 4 16 3 17 4 18 4 19 5 19 5 21 4 22 5 23 5 23 6 24 6 25 5 26 6 27 6 28 6 28 6 29 7 30 6 30 7 31 7 31 8 31 8 32 7 33 8 33 8 34 41 43 42 43 44 43 44 44 44 44 44 45 44 44 44 44 43 44 43 42 43 42 41M5544 4450v1 2 1 3 2 4 2 5 2 6 2 7 3 8 4 9 3 10 4 11 4 12 5 13 5 14 5 15 6 15 6 17 6 17 7 18 8 18 8 20 7 21 8 21 9 22 8 23 9 24 9 24 9 25 10 25 10 26 11 26 11 27 10 28 11 28 11 29 11 29 11 30 11 30 12 42 43 42 44 43 44 44 45 44 45 44 45 45 44 45 44 44 44 43 43 43 43 41M5560 4437v1 1 2 1 3 2 4 1 6 2 6 2 7 3 8 4 9 3 11 4 11 4 12 5 13 5 14 5 15 6 16 6 16 7 17 7 18 7 20 7 20 8 21 8 21 9 22 9 23 8 24 9 25 9 26 9 26 10 26 10 27 11 27 11 28 11 28 11 29 11 30 11 30 12 30 12 30 43 43 44 44 44 44 45 45 45 45 45 45 45 45 44 45 44 44 44 43 43 42M5576 4425v1 2 3 1 4 1 5 2 6 2 7 2 9 2 10 2 11 2 12 3 13 3 15 3 15 3 17 4 17 4 19 4 19 4 21 4 22 5 22 5 23 5 25 5 25 6 26 5 27 6 28 6 28 6 30 6 30 6 31 6 32 6 32 7 33 7 33 7 34 7 34 7 35 7 35 8 43 43 44 44 44 45 45 45 46 45 45 46 45 45 45 45 45 45 44 43 44 43M5592 4414v1 1 1 2 2 3 2 4 3 5 3 6 4 6 5 7 5 8 6 9 6 10 6 11 7 11 8 12 8 13 9 14 9 15 9 15 11 16 10 17 11 17 12 18 12 18 13 19 13 20 13 20 14 21 14 21 15 22 14 23 15 23 15 24 16 24 15 25 16 25 16 26 16 26 16 27 16 27 43 44 45 45 45 45 45 46 46 45 46 46 46 45 46 45 45 44 44 44 44M5608 4402v2 3 4 6 7 8 1 9 1 11 13 14 1 15 17 18 1 18 1 20 1 22 23 1 24 1 25 1 26 1 27 1 28 1 30 1 30 2 31 1 33 1 33 2 34 1 35 2 35 2 37 1 37 2 38 2 39 1 40 1 40 2 41 1 42 1 42 2 44 44 45 45 45 45 46 46 46 46 46 47 46 45 46 46 45 45 45 44 44M5625 4391v1 1 2 2 2 2 3 4 3 4 4 5 5 6 5 7 6 7 7 8 7 9 8 9 9 10 9 11 10 12 10 13 10 14 11 14 12 14 13 15 13 16 13 17 14 17 14 18 15 18 16 18 16 19 17 19 17 20 18 20 18 21 18 21 19 21 19 22 19 23 19 23 20 23 20 23 20 24 20 45 45 45 46 46 46 46 46 47 46 47 46 46 47 45 46 46 45 45 44M5641 4380v1 2 3 1 5 6 1 7 1 8 2 9 2 11 1 12 2 13 2 15 2 16 2 17 2 18 3 19 3 20 3 22 3 22 3 24 3 25 4 25 4 27 3 28 4 29 4 29 4 31 4 31 5 32 4 33 5 33 5 34 5 35 5 36 5 36 5 37 5 38 5 38 5 39 5 39 6 39 45 46 45 47 46 46 47 47 47 46 47 47 46 47 46 46 45 46 44M5657 4370v1 1 2 1 3 1 5 2 5 2 6 3 7 4 8 4 9 4 10 5 11 5 12 5 14 5 15 6 15 6 16 7 17 7 18 8 19 7 20 8 21 8 22 9 22 9 23 9 24 10 24 10 26 10 26 10 27 11 27 11 28 11 28 12 29 12 29 12 30 12 31 12 31 12 32 12 32 13 32 13 45 46 46 46 47 47 46 48 47 47 47 47 47 47 46 46 46 46 45M5673 4359v1 1 2 2 3 1 4 2 6 2 6 3 7 4 8 4 9 4 11 4 11 5 13 5 13 6 14 7 15 6 16 7 17 8 18 7 19 8 20 8 21 9 21 9 22 10 22 10 24 10 24 11 25 11 25 11 26 12 27 11 28 12 28 12 28 13 29 13 29 13 30 13 30 14 31 13 31 14 31 14 32 46 46 47 46 47 48 47 47 48 47 48 47 47 47 47 46 46 46M5689 4349v1 2 1 3 5 1 6 1 7 1 9 1 10 1 11 1 13 2 14 1 15 2 17 1 18 2 19 2 20 3 21 2 23 2 24 3 25 2 26 3 27 3 28 3 29 3 30 4 31 3 32 3 33 4 33 4 35 3 36 3 37 3 37 4 38 4 38 4 39 4 39 4 40 5 40 4 41 5 41 4 46 47 47 47 47 48 47 48 48 47 48 48 47 48 47 46 47 46M5705 4340v1 1 2 2 2 2 4 3 4 4 4 5 5 6 6 6 7 7 8 7 9 8 9 9 10 9 11 10 11 11 12 12 12 13 13 13 13 14 14 15 15 14 16 15 16 16 17 17 17 17 18 17 18 18 19 19 19 19 20 19 20 20 21 20 21 20 22 21 22 21 22 21 23 22 22 22 24 22 23 23 23 23 47 47 47 47 48 48 48 48 48 48 48 48 48 47 47 47 47M5721 4331v1 3 1 4 6 7 1 8 1 9 2 10 2 12 2 13 2 14 2 16 2 17 2 18 3 19 3 20 3 22 3 23 3 24 3 25 4 26 4 27 3 29 3 30 4 30 4 31 4 32 5 32 5 34 4 35 4 36 4 36 5 37 5 37 5 38 6 38 5 39 6 39 6 40 5 41 5 41 6 41 47 48 48 48 48 48 48 49 48 48 49 48 47 48 47 47M5738 4322v1 1 1 3 1 4 2 5 2 6 2 8 2 9 3 9 4 10 4 12 4 13 5 13 6 14 6 16 5 17 6 18 7 18 7 20 7 21 7 22 8 22 8 23 9 24 9 25 9 26 9 26 10 27 10 28 10 29 10 30 10 30 11 30 12 31 11 32 11 32 12 32 12 33 12 34 12 34 12 34 13 34 13 47 48 48 48 48 49 48 49 49 48 49 48 48 48 48 47M5754 4313v1 2 1 2 2 3 2 5 3 5 3 7 3 8 4 8 5 10 5 10 6 11 7 12 7 13 7 14 8 15 8 16 8 17 9 17 10 18 11 19 10 20 11 20 12 21 12 22 12 23 13 23 13 24 13 25 14 25 14 26 14 27 14 27 15 28 15 28 15 29 15 29 16 29 16 30 16 30 16 31 16 31 17 30 48 48 49 48 49 49 49 49 49 48 49 49 48 48 47M5770 4305v1 3 1 4 6 8 9 11 12 14 15 17 18 19 1 20 1 21 1 23 1 24 1 25 1 27 1 28 1 29 1 30 1 32 1 33 34 1 35 1 36 1 37 1 38 1 39 1 39 1 41 1 41 1 42 1 43 1 44 1 44 1 44 2 45 1 46 1 46 1 46 1 48 49 48 49 49 49 49 50 49 49 49 49 48 49 48M5786 4297v1 1 1 3 2 3 2 5 3 5 3 7 4 7 5 8 5 9 6 9 7 11 7 11 8 12 9 13 9 14 9 15 10 15 11 16 11 18 11 18 12 19 12 20 12 21 13 21 14 21 14 22 15 23 15 23 16 24 15 25 16 25 17 25 17 26 17 26 18 27 17 27 18 28 18 28 19 28 18 29 19 29 19 29 19 48 49 49 49 49 50 49 50 49 49 49 49 49 48M5802 4289v1 2 1 3 1 4 1 6 2 6 2 8 2 9 3 10 4 11 3 13 4 13 4 15 4 16 5 17 5 18 6 18 6 20 6 21 7 22 7 22 8 23 8 24 8 26 8 26 8 28 8 28 9 29 9 30 9 30 10 31 9 32 10 32 10 34 10 33 11 34 10 35 11 35 11 35 11 36 11 37 11 37 11 37 11 37 49 49 50 49 50 50 49 50 49 50 49 49 49M5818 4282v1 1 2 1 4 1 5 1 7 1 8 1 10 1 11 2 12 2 13 3 14 3 15 3 17 3 18 3 20 3 21 3 22 4 23 3 25 4 25 4 27 4 27 5 28 5 29 5 31 4 32 5 32 5 34 5 34 5 35 6 36 5 37 5 37 6 38 6 39 6 39 6 39 7 40 6 41 6 41 6 42 6 42 7 42 7 49 49 49 50 50 50 50 50 49 50 50 49 49M5834 4275v1 1 2 2 2 3 3 4 3 5 4 6 5 6 6 7 7 7 8 8 8 9 10 9 10 10 11 11 11 12 12 13 12 14 13 14 14 14 15 15 15 16 16 16 17 17 17 17 18 18 18 19 19 19 19 20 19 21 20 20 21 21 21 22 21 22 22 22 22 23 22 23 23 24 23 23 24 24 23 24 24 25 24 24 24 25 25 49 50 50 50 50 50 50 50 50 50 49 50M5850 4268v1 2 1 3 1 4 1 6 2 7 1 9 2 10 2 11 2 13 2 14 2 15 3 17 2 18 3 19 4 20 3 22 3 23 4 23 4 25 4 26 5 27 4 28 5 29 5 30 5 31 5 32 6 32 6 34 5 35 6 35 6 36 6 37 6 37 7 38 6 39 7 39 7 39 7 40 7 41 7 41 7 41 8 41 8 42 7 42 50 50 50 50 51 50 50 51 50 49 50M5867 4262v2 3 4 1 5 2 6 2 7 2 9 3 10 2 12 3 12 3 14 4 14 4 16 5 17 4 18 5 20 5 20 6 21 6 22 7 23 6 25 6 26 7 26 7 28 7 28 8 29 8 30 8 31 8 31 9 32 9 33 9 33 10 34 9 35 10 35 10 36 9 37 10 37 10 37 10 38 11 38 10 39 10 39 10 40 10 50 50 51 50 51 50 51 50 50 50 50M5883 4256v1 1 2 2 3 2 4 3 4 4 5 5 6 5 7 6 8 7 9 7 9 8 11 8 12 9 12 10 13 10 14 11 14 12 15 12 16 13 17 13 18 13 19 14 19 15 19 16 20 16 21 16 22 16 22 18 22 18 23 18 24 18 25 18 25 19 25 20 25 20 26 20 26 21 26 21 27 21 27 21 28 21 28 21 28 22 28 22 28 50 51 50 51 51 50 51 51 50 50M5899 4251v3 3 1 5 1 6 1 8 1 9 1 11 1 12 1 14 1 16 1 16 2 18 2 19 2 20 2 22 2 23 2 25 2 25 3 27 2 28 3 29 3 30 3 31 3 32 3 34 3 35 3 35 3 37 3 38 3 38 4 39 3 40 4 40 4 41 4 42 4 42 4 43 4 44 4 44 4 44 5 45 4 45 4 46 4 46 4 46 51 51 50 51 51 51 51 50 51M5915 4245v1 1 3 1 3 2 5 1 6 3 7 2 9 3 9 4 10 4 12 4 13 5 13 6 14 6 16 6 17 6 18 7 19 7 20 8 21 8 22 8 23 8 24 9 25 9 26 9 27 9 28 10 28 10 29 11 29 11 30 12 31 11 32 11 32 12 33 12 33 13 33 13 34 13 35 12 36 12 36 13 36 13 36 14 36 14 36 14 37 13 51 51 51 51 51 51 51 51 50M5931 4240v1 1 1 2 1 3 2 4 3 5 3 6 4 7 5 8 5 9 5 10 7 10 7 12 7 13 8 13 9 14 10 15 9 16 11 17 11 17 12 18 12 19 13 20 12 21 14 21 14 22 14 23 15 23 15 25 15 25 16 25 16 26 17 26 17 27 17 28 17 28 18 29 18 29 18 29 19 29 19 30 19 30 19 30 20 30 20 30 20 31 20 31 51 51 51 51 51 51 51 51M5947 4236v1 2 4 6 7 9 10 1 11 1 12 1 15 16 1 17 1 19 1 20 1 22 1 23 1 24 1 26 1 27 1 28 2 29 2 30 2 32 1 33 2 34 1 36 1 37 1 38 1 39 1 40 2 40 2 41 2 41 2 43 2 43 2 44 2 45 2 46 2 46 2 46 2 47 2 48 2 48 2 48 2 49 2 48 3 49 51 51 51 52 51 51 51M5963 4232v1 1 2 1 4 2 4 2 6 2 7 3 8 4 9 4 10 4 12 5 12 5 14 5 15 6 15 7 17 7 17 8 18 8 20 8 20 9 21 10 22 9 23 10 24 11 24 11 26 11 26 11 27 12 28 12 28 13 29 13 29 13 31 13 31 13 32 13 33 13 33 14 33 14 34 14 34 15 34 15 35 15 34 15 36 15 35 15 36 15 36 15 52 51 51 52 51 52 51M5980 4228v1 1 2 2 3 2 4 3 5 3 6 4 7 5 8 5 9 5 11 6 11 6 12 8 13 7 14 9 15 8 16 9 17 10 18 10 18 11 19 12 20 11 21 12 22 13 23 12 24 13 24 14 25 14 25 15 26 15 26 16 27 15 28 16 29 16 29 16 30 16 30 17 30 17 31 18 31 17 32 17 32 18 32 18 32 18 33 18 33 18 33 18 33 52 51 52 52 51 52M5996 4224v1 3 4 5 1 7 9 10 12 14 15 17 18 20 21 23 24 25 1 26 1 28 30 31 32 1 32 1 34 1 35 1 36 1 38 39 1 39 1 41 42 1 42 1 43 1 44 1 45 1 45 1 46 1 47 1 47 1 48 1 49 1 49 1 49 1 50 51 51 1 50 1 51 51 52 52 51 52M6012 4222v1 1 2 1 3 2 5 2 6 2 7 3 8 4 9 4 10 5 11 5 12 6 13 6 14 7 15 7 16 8 17 8 18 9 19 9 20 9 21 10 21 11 22 11 23 11 24 12 25 12 25 13 26 13 27 13 28 13 28 14 29 14 30 14 30 15 30 15 32 14 32 15 33 15 33 15 33 16 34 16 33 16 34 17 34 16 35 16 35 16 35 17 35 16 52 52 52 51 52M6028 4219v1 1 2 2 3 2 4 2 6 3 6 4 7 4 9 5 9 5 11 6 11 6 13 7 13 8 14 8 16 8 16 9 17 10 18 10 19 10 20 11 21 11 22 11 23 12 23 12 25 12 25 13 26 13 27 14 27 14 27 15 28 15 29 15 29 16 30 15 31 16 31 16 31 17 31 17 32 17 32 17 33 17 33 17 34 17 34 17 34 17 34 18 34 18 34 52 52 51 52M6044 4216v1 3 4 5 8 9 10 12 14 15 17 18 1 19 22 23 24 26 27 28 30 31 1 32 34 35 36 37 38 1 39 41 41 43 43 44 1 44 1 45 1 46 47 1 47 1 48 49 50 50 50 1 50 1 51 51 52 51 1 51 52 52 52M6060 4214v1 1 1 2 1 3 2 5 2 6 2 7 4 7 4 9 4 10 5 11 5 12 6 13 7 14 7 14 8 16 8 17 8 18 9 19 9 20 9 21 10 22 10 23 11 23 11 24 12 25 12 26 12 26 13 27 14 27 14 28 14 29 14 30 14 30 15 31 15 31 16 31 16 32 16 32 16 33 16 33 17 33 17 33 17 34 17 34 17 35 17 34 17 35 17 35 17 52 52 52M6076 4213v1 1 2 2 3 2 4 2 6 3 6 4 7 5 8 5 9 6 10 6 12 6 13 6 14 7 15 8 15 8 17 9 17 10 18 10 19 10 21 10 21 11 22 12 22 12 24 12 25 12 25 13 26 13 27 14 27 14 28 14 29 15 29 15 30 15 30 15 31 16 31 16 32 16 32 17 32 17 33 16 34 16 34 17 34 17 34 17 34 18 34 17 35 17 35 17 35 52 52M6093 4211v1 3 4 5 1 7 9 10 13 13 16 16 1 18 20 21 23 25 25 28 28 30 32 32 34 35 36 38 38 40 41 41 43 43 1 44 45 46 47 48 48 48 50 50 50 51 51 51 51 1 51 52 52 52 53M6109 4211v1 1 2 1 4 2 4 2 6 3 6 4 7 4 9 5 9 5 11 6 12 6 13 6 14 7 15 8 15 9 16 9 18 9 18 10 19 10 21 10 22 10 23 11 23 12 23 12 25 13 25 13 26 13 27 13 28 14 28 14 29 14 30 15 29 16 30 15 31 16 31 16 32 16 33 16 33 16 33 17 33 17 33 17 34 17 34 18 34 17 35 17 35 17 35 17 35 17 52M6125 4210v1 1 2 2 3 2 4 3 5 3 7 3 8 4 9 4 10 5 11 5 12 6 13 7 14 7 14 8 16 8 17 8 18 9 19 9 20 10 20 11 21 11 22 11 23 12 24 12 25 12 26 12 26 14 26 14 28 13 29 14 29 14 29 15 30 15 31 15 31 16 31 16 32 16 32 17 32 17 33 17 33 17 33 17 34 17 34 18 34 17 35 17 34 18 35 17 35 17 35M6141 4210v1 2 4 6 7 9 11 12 14 15 17 18 20 22 23 24 26 27 29 30 31 33 34 35 36 38 38 40 41 41 43 44 44 45 47 46 48 48 49 49 50 50 51 51 52 51 52 52 52 52M6157 4210v1 1 2 2 3 2 4 3 5 3 7 3 8 4 9 4 10 5 11 5 12 6 13 7 14 7 14 8 16 8 17 8 18 9 19 9 20 10 20 11 21 11 22 11 23 12 24 12 25 12 26 12 26 14 26 14 28 13 29 14 29 14 29 15 30 15 31 15 31 16 31 16 32 16 32 17 32 17 33 17 33 17 33 17 34 17 34 18 34 17 35 17 34 18 35 17 35 17 35M6173 4211v1 1 2 1 4 2 4 2 6 3 6 4 7 4 9 5 9 5 11 6 12 6 13 6 14 7 15 8 15 9 16 9 18 9 18 10 19 10 21 10 22 10 23 11 23 12 23 12 25 13 25 13 26 13 27 13 28 14 28 14 29 14 30 15 29 16 30 15 31 16 31 16 32 16 33 16 33 16 33 17 33 17 33 17 34 17 34 18 34 17 35 17 35 17 35 17 35 17 52M6189 4211v1 3 4 5 1 7 9 10 13 13 16 16 1 18 20 21 23 25 25 28 28 30 32 32 34 35 36 38 38 40 41 41 43 43 1 44 45 46 47 48 48 48 50 50 50 51 51 51 51 1 51 52 52 52 53M6206 4213v1 1 2 2 3 2 4 2 6 3 6 4 7 5 8 5 9 6 10 6 12 6 13 6 14 7 15 8 15 8 17 9 17 10 18 10 19 10 21 10 21 11 22 12 22 12 24 12 25 12 25 13 26 13 27 14 27 14 28 14 29 15 29 15 30 15 30 15 31 16 31 16 32 16 32 17 32 17 33 16 34 16 34 17 34 17 34 17 34 18 34 17 35 17 35 17 35 52 52M6222 4214v1 1 1 2 1 3 2 5 2 6 2 7 4 7 4 9 4 10 5 11 5 12 6 13 7 14 7 14 8 16 8 17 8 18 9 19 9 20 9 21 10 22 10 23 11 23 11 24 12 25 12 26 12 26 13 27 14 27 14 28 14 29 14 30 14 30 15 31 15 31 16 31 16 32 16 32 16 33 16 33 17 33 17 33 17 34 17 34 17 35 17 34 17 35 17 35 17 52 52 52M6238 4216v1 3 4 5 8 9 10 12 14 15 17 18 1 19 22 23 24 26 27 28 30 31 1 32 34 35 36 37 38 1 39 41 41 43 43 44 1 44 1 45 1 46 47 1 47 1 48 49 50 50 50 1 50 1 51 51 52 51 1 51 52 52 52M6254 4219v1 1 2 2 3 2 4 2 6 3 6 4 7 4 9 5 9 5 11 6 11 6 13 7 13 8 14 8 16 8 16 9 17 10 18 10 19 10 20 11 21 11 22 11 23 12 23 12 25 12 25 13 26 13 27 14 27 14 27 15 28 15 29 15 29 16 30 15 31 16 31 16 31 17 31 17 32 17 32 17 33 17 33 17 34 17 34 17 34 17 34 18 34 18 34 52 52 51 52M6270 4222v1 1 2 1 3 2 5 2 6 2 7 3 8 4 9 4 10 5 11 5 12 6 13 6 14 7 15 7 16 8 17 8 18 9 19 9 20 9 21 10 21 11 22 11 23 11 24 12 25 12 25 13 26 13 27 13 28 13 28 14 29 14 30 14 30 15 30 15 32 14 32 15 33 15 33 15 33 16 34 16 33 16 34 17 34 16 35 16 35 16 35 17 35 16 52 52 52 51 52M6286 4224v1 3 4 5 1 7 9 10 12 14 15 17 18 20 21 23 24 25 1 26 1 28 30 31 32 1 32 1 34 1 35 1 36 1 38 39 1 39 1 41 42 1 42 1 43 1 44 1 45 1 45 1 46 1 47 1 47 1 48 1 49 1 49 1 49 1 50 51 51 1 50 1 51 51 52 52 51 52M6302 4228v1 1 2 2 3 2 4 3 5 3 6 4 7 5 8 5 9 5 11 6 11 6 12 8 13 7 14 9 15 8 16 9 17 10 18 10 18 11 19 12 20 11 21 12 22 13 23 12 24 13 24 14 25 14 25 15 26 15 26 16 27 15 28 16 29 16 29 16 30 16 30 17 30 17 31 18 31 17 32 17 32 18 32 18 32 18 33 18 33 18 33 18 33 52 51 52 52 51 52M6319 4232v1 1 2 1 4 2 4 2 6 2 7 3 8 4 9 4 10 4 12 5 12 5 14 5 15 6 15 7 17 7 17 8 18 8 20 8 20 9 21 10 22 9 23 10 24 11 24 11 26 11 26 11 27 12 28 12 28 13 29 13 29 13 31 13 31 13 32 13 33 13 33 14 33 14 34 14 34 15 34 15 35 15 34 15 36 15 35 15 36 15 36 15 52 51 51 52 51 52 51M6335 4236v1 2 4 6 7 9 10 1 11 1 12 1 15 16 1 17 1 19 1 20 1 22 1 23 1 24 1 26 1 27 1 28 2 29 2 30 2 32 1 33 2 34 1 36 1 37 1 38 1 39 1 40 2 40 2 41 2 41 2 43 2 43 2 44 2 45 2 46 2 46 2 46 2 47 2 48 2 48 2 48 2 49 2 48 3 49 51 51 51 52 51 51 51M6351 4240v1 1 1 2 1 3 2 4 3 5 3 6 4 7 5 8 5 9 5 10 7 10 7 12 7 13 8 13 9 14 10 15 9 16 11 17 11 17 12 18 12 19 13 20 12 21 14 21 14 22 14 23 15 23 15 25 15 25 16 25 16 26 17 26 17 27 17 28 17 28 18 29 18 29 18 29 19 29 19 30 19 30 19 30 20 30 20 30 20 31 20 31 51 51 51 51 51 51 51 51M6367 4245v1 1 3 1 3 2 5 1 6 3 7 2 9 3 9 4 10 4 12 4 13 5 13 6 14 6 16 6 17 6 18 7 19 7 20 8 21 8 22 8 23 8 24 9 25 9 26 9 27 9 28 10 28 10 29 11 29 11 30 12 31 11 32 11 32 12 33 12 33 13 33 13 34 13 35 12 36 12 36 13 36 13 36 14 36 14 36 14 37 13 51 51 51 51 51 51 51 51 50M6383 4251v3 3 1 5 1 6 1 8 1 9 1 11 1 12 1 14 1 16 1 16 2 18 2 19 2 20 2 22 2 23 2 25 2 25 3 27 2 28 3 29 3 30 3 31 3 32 3 34 3 35 3 35 3 37 3 38 3 38 4 39 3 40 4 40 4 41 4 42 4 42 4 43 4 44 4 44 4 44 5 45 4 45 4 46 4 46 4 46 51 51 50 51 51 51 51 50 51M6399 4256v1 1 2 2 3 2 4 3 4 4 5 5 6 5 7 6 8 7 9 7 9 8 11 8 12 9 12 10 13 10 14 11 14 12 15 12 16 13 17 13 18 13 19 14 19 15 19 16 20 16 21 16 22 16 22 18 22 18 23 18 24 18 25 18 25 19 25 20 25 20 26 20 26 21 26 21 27 21 27 21 28 21 28 21 28 22 28 22 28 50 51 50 51 51 50 51 51 50 50M6415 4262v2 3 4 1 5 2 6 2 7 2 9 3 10 2 12 3 12 3 14 4 14 4 16 5 17 4 18 5 20 5 20 6 21 6 22 7 23 6 25 6 26 7 26 7 28 7 28 8 29 8 30 8 31 8 31 9 32 9 33 9 33 10 34 9 35 10 35 10 36 9 37 10 37 10 37 10 38 11 38 10 39 10 39 10 40 10 50 50 51 50 51 50 51 50 50 50 50M6432 4268v1 2 1 3 1 4 1 6 2 7 1 9 2 10 2 11 2 13 2 14 2 15 3 17 2 18 3 19 4 20 3 22 3 23 4 23 4 25 4 26 5 27 4 28 5 29 5 30 5 31 5 32 6 32 6 34 5 35 6 35 6 36 6 37 6 37 7 38 6 39 7 39 7 39 7 40 7 41 7 41 7 41 8 41 8 42 7 42 50 50 50 50 51 50 50 51 50 49 50M6448 4275v1 1 2 2 2 3 3 4 3 5 4 6 5 6 6 7 7 7 8 8 8 9 10 9 10 10 11 11 11 12 12 13 12 14 13 14 14 14 15 15 15 16 16 16 17 17 17 17 18 18 18 19 19 19 19 20 19 21 20 20 21 21 21 22 21 22 22 22 22 23 22 23 23 24 23 23 24 24 23 24 24 25 24 24 24 25 25 49 50 50 50 50 50 50 50 50 50 49 50M6464 4282v1 1 2 1 4 1 5 1 7 1 8 1 10 1 11 2 12 2 13 3 14 3 15 3 17 3 18 3 20 3 21 3 22 4 23 3 25 4 25 4 27 4 27 5 28 5 29 5 31 4 32 5 32 5 34 5 34 5 35 6 36 5 37 5 37 6 38 6 39 6 39 6 39 7 40 6 41 6 41 6 42 6 42 7 42 7 49 49 49 50 50 50 50 50 49 50 50 49 49M6480 4289v1 2 1 3 1 4 1 6 2 6 2 8 2 9 3 10 4 11 3 13 4 13 4 15 4 16 5 17 5 18 6 18 6 20 6 21 7 22 7 22 8 23 8 24 8 26 8 26 8 28 8 28 9 29 9 30 9 30 10 31 9 32 10 32 10 34 10 33 11 34 10 35 11 35 11 35 11 36 11 37 11 37 11 37 11 37 49 49 50 49 50 50 49 50 49 50 49 49 49M6496 4297v1 1 1 3 2 3 2 5 3 5 3 7 4 7 5 8 5 9 6 9 7 11 7 11 8 12 9 13 9 14 9 15 10 15 11 16 11 18 11 18 12 19 12 20 12 21 13 21 14 21 14 22 15 23 15 23 16 24 15 25 16 25 17 25 17 26 17 26 18 27 17 27 18 28 18 28 19 28 18 29 19 29 19 29 19 48 49 49 49 49 50 49 50 49 49 49 49 49 48M6512 4305v1 3 1 4 6 8 9 11 12 14 15 17 18 19 1 20 1 21 1 23 1 24 1 25 1 27 1 28 1 29 1 30 1 32 1 33 34 1 35 1 36 1 37 1 38 1 39 1 39 1 41 1 41 1 42 1 43 1 44 1 44 1 44 2 45 1 46 1 46 1 46 1 48 49 48 49 49 49 49 50 49 49 49 49 48 49 48M6528 4313v1 2 1 2 2 3 2 5 3 5 3 7 3 8 4 8 5 10 5 10 6 11 7 12 7 13 7 14 8 15 8 16 8 17 9 17 10 18 11 19 10 20 11 20 12 21 12 22 12 23 13 23 13 24 13 25 14 25 14 26 14 27 14 27 15 28 15 28 15 29 15 29 16 29 16 30 16 30 16 31 16 31 17 30 48 48 49 48 49 49 49 49 49 48 49 49 48 48 47M6544 4322v1 1 1 3 1 4 2 5 2 6 2 8 2 9 3 9 4 10 4 12 4 13 5 13 6 14 6 16 5 17 6 18 7 18 7 20 7 21 7 22 8 22 8 23 9 24 9 25 9 26 9 26 10 27 10 28 10 29 10 30 10 30 11 30 12 31 11 32 11 32 12 32 12 33 12 34 12 34 12 34 13 34 13 47 48 48 48 48 49 48 49 49 48 49 48 48 48 48 47M6561 4331v1 3 1 4 6 7 1 8 1 9 2 10 2 12 2 13 2 14 2 16 2 17 2 18 3 19 3 20 3 22 3 23 3 24 3 25 4 26 4 27 3 29 3 30 4 30 4 31 4 32 5 32 5 34 4 35 4 36 4 36 5 37 5 37 5 38 6 38 5 39 6 39 6 40 5 41 5 41 6 41 47 48 48 48 48 48 48 49 48 48 49 48 47 48 47 47M6577 4340v1 1 2 2 2 2 4 3 4 4 4 5 5 6 6 6 7 7 8 7 9 8 9 9 10 9 11 10 11 11 12 12 12 13 13 13 13 14 14 15 15 14 16 15 16 16 17 17 17 17 18 17 18 18 19 19 19 19 20 19 20 20 21 20 21 20 22 21 22 21 22 21 23 22 22 22 24 22 23 23 23 23 47 47 47 47 48 48 48 48 48 48 48 48 48 47 47 47 47M6593 4349v1 2 1 3 5 1 6 1 7 1 9 1 10 1 11 1 13 2 14 1 15 2 17 1 18 2 19 2 20 3 21 2 23 2 24 3 25 2 26 3 27 3 28 3 29 3 30 4 31 3 32 3 33 4 33 4 35 3 36 3 37 3 37 4 38 4 38 4 39 4 39 4 40 5 40 4 41 5 41 4 46 47 47 47 47 48 47 48 48 47 48 48 47 48 47 46 47 46M6609 4359v1 1 2 2 3 1 4 2 6 2 6 3 7 4 8 4 9 4 11 4 11 5 13 5 13 6 14 7 15 6 16 7 17 8 18 7 19 8 20 8 21 9 21 9 22 10 22 10 24 10 24 11 25 11 25 11 26 12 27 11 28 12 28 12 28 13 29 13 29 13 30 13 30 14 31 13 31 14 31 14 32 46 46 47 46 47 48 47 47 48 47 48 47 47 47 47 46 46 46M6625 4370v1 1 2 1 3 1 5 2 5 2 6 3 7 4 8 4 9 4 10 5 11 5 12 5 14 5 15 6 15 6 16 7 17 7 18 8 19 7 20 8 21 8 22 9 22 9 23 9 24 10 24 10 26 10 26 10 27 11 27 11 28 11 28 12 29 12 29 12 30 12 31 12 31 12 32 12 32 13 32 13 45 46 46 46 47 47 46 48 47 47 47 47 47 47 46 46 46 46 45M6641 4380v1 2 3 1 5 6 1 7 1 8 2 9 2 11 1 12 2 13 2 15 2 16 2 17 2 18 3 19 3 20 3 22 3 22 3 24 3 25 4 25 4 27 3 28 4 29 4 29 4 31 4 31 5 32 4 33 5 33 5 34 5 35 5 36 5 36 5 37 5 38 5 38 5 39 5 39 6 39 45 46 45 47 46 46 47 47 47 46 47 47 46 47 46 46 45 46 44M6657 4391v1 1 2 2 2 2 3 4 3 4 4 5 5 6 5 7 6 7 7 8 7 9 8 9 9 10 9 11 10 12 10 13 10 14 11 14 12 14 13 15 13 16 13 17 14 17 14 18 15 18 16 18 16 19 17 19 17 20 18 20 18 21 18 21 19 21 19 22 19 23 19 23 20 23 20 23 20 24 20 45 45 45 46 46 46 46 46 47 46 47 46 46 47 45 46 46 45 45 44M6674 4402v2 3 4 6 7 8 1 9 1 11 13 14 1 15 17 18 1 18 1 20 1 22 23 1 24 1 25 1 26 1 27 1 28 1 30 1 30 2 31 1 33 1 33 2 34 1 35 2 35 2 37 1 37 2 38 2 39 1 40 1 40 2 41 1 42 1 42 2 44 44 45 45 45 45 46 46 46 46 46 47 46 45 46 46 45 45 45 44 44M6690 4414v1 1 1 2 2 3 2 4 3 5 3 6 4 6 5 7 5 8 6 9 6 10 6 11 7 11 8 12 8 13 9 14 9 15 9 15 11 16 10 17 11 17 12 18 12 18 13 19 13 20 13 20 14 21 14 21 15 22 14 23 15 23 15 24 16 24 15 25 16 25 16 26 16 26 16 27 16 27 43 44 45 45 45 45 45 46 46 45 46 46 46 45 46 45 45 44 44 44 44M6706 4425v1 2 3 1 4 1 5 2 6 2 7 2 9 2 10 2 11 2 12 3 13 3 15 3 15 3 17 4 17 4 19 4 19 4 21 4 22 5 22 5 23 5 25 5 25 6 26 5 27 6 28 6 28 6 30 6 30 6 31 6 32 6 32 7 33 7 33 7 34 7 34 7 35 7 35 8 43 43 44 44 44 45 45 45 46 45 45 46 45 45 45 45 45 45 44 43 44 43M6722 4437v1 1 2 1 3 2 4 1 6 2 6 2 7 3 8 4 9 3 11 4 11 4 12 5 13 5 14 5 15 6 16 6 16 7 17 7 18 7 20 7 20 8 21 8 21 9 22 9 23 8 24 9 25 9 26 9 26 10 26 10 27 11 27 11 28 11 28 11 29 11 30 11 30 12 30 12 30 43 43 44 44 44 44 45 45 45 45 45 45 45 45 44 45 44 44 44 43 43 42M6738 4450v1 2 1 3 2 4 2 5 2 6 2 7 3 8 4 9 3 10 4 11 4 12 5 13 5 14 5 15 6 15 6 17 6 17 7 18 8 18 8 20 7 21 8 21 9 22 8 23 9 24 9 24 9 25 10 25 10 26 11 26 11 27 10 28 11 28 11 29 11 29 11 30 11 30 12 42 43 42 44 43 44 44 45 44 45 44 45 45 44 45 44 44 44 43 43 43 43 41M6754 4462v1 2 3 1 4 1 5 1 6 2 7 2 8 2 10 2 11 2 12 3 13 3 13 4 14 4 16 3 17 4 18 4 19 5 19 5 21 4 22 5 23 5 23 6 24 6 25 5 26 6 27 6 28 6 28 6 29 7 30 6 30 7 31 7 31 8 31 8 32 7 33 8 33 8 34 41 43 42 43 44 43 44 44 44 44 44 45 44 44 44 44 43 44 43 42 43 42 41M6770 4475v1 1 1 2 2 3 2 4 2 5 3 6 3 7 4 7 5 8 5 9 5 10 6 11 6 12 6 13 7 13 7 14 8 15 8 16 9 16 9 17 10 17 10 19 10 19 10 20 11 21 11 21 11 22 12 22 12 23 12 24 12 24 13 25 13 24 14 25 14 25 14 26 14 27 14 41 42 41 43 43 43 43 43 44 43 44 44 44 44 43 44 43 43 43 43 42 42 41 41M6787 4488v2 2 1 3 1 5 6 1 7 1 9 1 9 2 10 2 12 2 12 2 14 2 15 3 16 2 17 3 18 3 19 3 21 3 21 3 22 4 23 3 25 3 25 4 26 4 26 4 28 4 29 4 29 4 30 5 30 5 31 5 32 5 32 5 33 5 34 5 34 5 35 5 35 41 41 42 42 42 43 43 43 43 44 43 43 44 43 43 43 43 43 42 43 41 42 40 41M6803 4502v1 2 1 3 2 3 2 4 3 5 4 5 4 7 4 8 4 9 5 9 6 10 6 10 7 11 8 12 8 12 8 14 9 14 9 15 9 16 10 16 10 17 11 17 12 18 11 19 12 19 12 20 13 20 13 21 13 21 14 22 14 22 14 23 14 24 14 24 15 24 15 24 15 40 41 41 41 42 42 42 43 43 42 43 43 43 43 43 43 43 42 42 42 42 41 41 40 40M6819 4515v1 2 3 5 5 1 7 1 7 1 9 1 10 2 11 1 12 2 13 2 15 1 16 2 17 2 18 2 19 2 20 2 21 3 22 2 23 3 24 3 24 3 26 3 26 4 27 3 28 4 29 3 30 4 30 4 31 4 31 4 33 3 33 5 33 4 34 4 35 4 35 40 40 41 41 42 41 42 42 43 42 43 42 43 42 43 42 42 42 42 41 41 41 40 40 40M6835 4529v1 1 1 2 2 3 2 3 3 4 3 6 3 6 4 7 5 7 5 9 5 9 6 10 7 10 7 12 7 12 8 13 8 13 9 14 10 14 10 16 10 16 10 17 11 17 11 18 12 18 12 19 12 20 13 20 13 20 14 21 13 22 14 22 14 22 14 23 15 23 15 23 15 39 40 40 40 41 41 41 42 41 42 42 42 43 42 42 42 42 41 42 41 41 41 40 40 39 39M6851 4543v1 1 2 4 5 1 5 1 7 1 8 1 9 2 10 2 11 2 12 2 13 2 15 2 15 3 16 3 17 3 18 3 20 3 20 3 21 4 22 3 23 4 24 4 24 4 26 4 26 4 27 4 28 5 28 5 29 4 30 5 31 4 31 5 32 5 32 5 33 5 33 39 39 40 40 40 41 41 41 41 42 41 42 42 41 42 41 42 41 41 41 40 40 40 39 39 38M6867 4558v1 2 1 3 1 4 2 4 2 5 3 6 3 7 4 7 5 8 5 9 5 10 5 11 6 11 7 12 6 13 7 14 8 14 8 15 8 16 9 16 9 17 10 18 9 19 10 19 10 20 10 20 11 21 11 21 12 22 11 23 12 22 12 24 12 24 12 24 13 25 13 38 38 39 39 40 40 40 41 40 41 41 42 41 41 41 42 41 40 41 41 40 40 39 39 39 38 38M6883 4572v1 1 1 2 1 4 1 4 2 5 2 6 2 8 2 9 2 9 3 10 3 12 3 12 3 14 3 15 3 16 4 16 4 17 4 18 5 19 4 20 5 20 6 21 5 22 6 23 5 24 6 24 6 25 6 26 6 26 7 26 7 27 7 28 7 28 7 29 8 29 7 30 38 38 38 39 40 39 40 40 41 40 41 41 40 41 41 41 40 41 40 40 39 40 39 38 39 37 38M6900 4587v1 1 1 2 1 3 2 4 2 5 2 6 2 7 3 7 3 9 3 10 4 10 4 11 5 12 4 14 4 14 5 15 5 16 5 17 6 17 6 18 6 19 7 19 7 20 7 21 7 22 8 22 7 23 8 24 8 24 8 25 8 25 9 26 8 27 9 26 9 27 10 36 38 37 39 38 39 39 40 40 40 40 40 40 41 40 40 40 40 40 40 39 40 38 39 38 38 37 37M6916 4602v1 1 1 1 3 1 4 1 5 2 5 3 6 2 7 4 7 4 8 4 10 4 10 5 11 5 12 5 12 6 14 6 14 6 15 7 15 7 16 8 17 7 18 8 18 8 19 9 19 9 20 9 21 9 21 10 22 10 22 10 23 10 23 11 24 10 24 11 25 11 25 36 37 38 38 38 38 39 39 40 39 40 39 40 40 40 40 39 40 39 40 39 38 38 38 38 37 37 36M6932 4617v1 1 2 4 4 1 5 1 7 1 7 1 9 1 10 1 11 1 12 2 13 1 14 2 15 2 16 2 17 2 18 2 19 2 20 2 21 3 21 3 22 3 23 3 24 3 25 3 25 4 26 3 27 4 27 4 28 4 29 3 30 3 31 3 31 4 31 4 36 36 36 38 37 38 38 38 39 39 39 39 40 39 39 40 39 39 39 39 39 38 38 38 37 37 37 36 36M6948 4633v1 1 1 1 2 2 3 2 3 4 3 4 5 4 5 5 5 6 6 7 6 7 7 8 7 8 8 9 9 9 9 10 10 10 10 11 11 12 11 12 11 13 12 13 12 14 13 14 13 14 14 15 14 15 15 15 15 16 16 16 15 17 16 17 16 18 16 18 17 18 35 36 36 37 37 38 37 38 39 38 39 38 39 39 39 39 39 38 39 38 38 38 38 37 37 36 36 36 35M6964 4648v1 2 3 4 5 1 6 7 1 8 1 9 1 11 1 11 1 12 2 13 2 14 1 16 1 17 1 18 1 19 1 20 2 20 2 21 2 22 2 23 2 23 3 24 2 26 2 26 3 26 3 27 3 28 3 28 3 29 3 30 3 30 3 31 3 32 34 36 36 36 37 37 37 38 38 38 38 38 38 39 38 38 39 38 38 38 37 38 37 36 37 36 35 35 35M6980 4664v1 1 1 2 1 3 1 4 2 5 2 5 2 7 2 8 3 8 3 9 3 10 4 10 5 11 4 12 5 13 5 13 6 14 6 15 6 15 7 16 7 17 6 18 7 18 8 19 7 20 8 20 8 20 9 21 8 22 9 22 9 23 9 23 9 24 9 24 10 34 34 35 36 36 36 37 37 37 37 38 37 38 38 38 38 38 37 38 37 38 37 37 36 36 36 36 34 35 34M6996 4680v1 1 1 1 3 1 3 2 4 2 5 2 6 3 6 3 7 4 7 5 8 4 9 5 10 5 11 5 11 7 11 7 12 7 13 7 14 7 15 8 14 9 15 9 16 9 16 9 17 10 17 10 18 10 19 10 19 11 20 10 20 12 20 11 21 11 22 11 22 34 34 35 35 35 36 36 37 36 37 37 37 38 37 38 37 37 37 38 37 36 37 36 36 36 35 35 34 34 34M7013 4696v2 2 3 5 6 7 8 9 10 12 12 14 14 16 17 17 1 18 20 21 21 1 22 24 24 25 26 1 26 28 28 1 28 1 29 1 30 31 32 32 33 33 34 34 35 35 35 36 36 36 37 36 37 37 37 37 37 36 37 37 36 36 36 36 35 36 34 35 33 34 33M7029 4713v1 2 1 2 1 3 2 4 2 5 2 5 3 6 3 7 4 7 4 8 4 10 4 10 5 10 5 12 5 12 6 12 6 14 6 14 7 14 7 15 7 16 8 16 8 17 8 18 8 18 8 19 9 19 9 20 9 20 9 21 10 21 9 22 10 22 10 32 33 34 34 34 34 35 36 35 36 36 36 36 37 36 36 37 36 36 36 36 36 35 35 35 35 34 34 33 33 32M7045 4729v1 1 1 2 1 2 2 3 2 4 3 4 3 5 4 6 3 7 4 7 5 8 5 8 6 9 6 9 7 10 7 11 7 11 8 12 7 13 8 13 9 14 9 14 9 15 9 16 9 16 10 17 10 17 10 18 10 18 11 18 12 18 12 19 11 20 12 19 32 33 33 33 34 34 35 35 35 35 36 35 36 36 36 35 36 36 36 35 36 35 35 34 35 34 33 33 33 32 32M7061 4746v2 3 3 1 4 1 5 1 7 8 1 8 1 9 1 11 1 11 1 13 1 13 2 14 1 15 2 16 1 17 2 17 2 19 2 19 2 20 2 21 2 21 3 22 2 23 3 23 3 24 3 25 3 25 3 26 3 26 3 27 4 27 3 28 32 32 33 33 33 34 34 34 35 35 35 35 35 35 36 35 35 36 35 35 34 35 34 34 34 34 33 32 33 31 32M7077 4763v2 2 1 3 1 4 1 5 1 6 1 7 1 8 1 9 2 9 2 10 2 12 2 12 2 13 3 13 3 14 3 16 3 16 3 17 3 17 4 18 4 19 3 20 4 20 4 21 4 22 4 22 4 23 5 23 5 23 5 24 5 25 5 25 5 31 31 32 32 33 33 33 34 34 34 34 34 35 35 34 35 35 35 34 35 35 34 34 34 33 33 33 33 32 32 31 31M7093 4780v1 1 2 1 2 2 3 2 4 2 4 3 5 4 5 4 6 4 7 4 8 5 8 5 8 6 9 7 9 7 10 7 11 7 11 8 12 8 12 9 12 9 14 9 13 10 14 10 15 10 15 10 16 10 16 11 17 11 17 11 17 12 17 12 18 12 30 31 31 32 32 33 33 33 33 34 34 34 34 34 34 34 35 34 34 34 34 34 33 33 33 33 32 32 32 31 31 30M7109 4797v1 1 1 2 2 2 2 3 3 4 2 5 3 5 3 6 4 6 5 7 4 8 5 8 5 9 6 9 6 10 7 10 7 11 7 12 8 12 8 12 8 14 8 14 8 15 9 14 10 15 9 16 10 16 10 16 11 17 10 17 11 18 11 18 11 18 30 31 30 32 31 32 33 32 33 33 34 33 34 33 34 34 34 33 34 33 34 33 33 33 32 32 32 31 31 31 30 30M7126 4814v1 2 3 4 1 4 1 5 1 6 2 6 2 7 2 9 2 9 2 10 2 11 3 11 3 12 3 13 3 14 3 14 4 15 4 15 4 17 4 17 4 18 4 18 5 19 4 20 5 20 5 20 5 21 5 22 5 23 5 23 5 23 6 23 30 30 30 31 31 32 31 33 32 33 32 33 33 33 34 33 33 33 33 33 33 33 32 32 32 32 31 31 30 31 29 29M7142 4831v1 2 3 4 5 6 7 1 7 1 9 10 11 12 13 14 14 1 15 1 16 17 1 18 19 20 21 21 1 21 1 23 23 1 24 1 24 1 25 1 25 1 26 1 27 1 27 1 28 29 29 30 30 31 31 32 31 32 32 32 33 32 33 33 32 33 33 32 32 33 32 32 31 32 31 30 31 30 29 29 29M7158 4848v1 2 3 4 5 1 5 1 6 1 7 1 8 1 9 1 9 2 10 2 11 1 13 1 13 2 14 1 15 2 15 2 16 2 17 2 17 3 18 2 19 2 20 2 21 2 21 3 21 3 22 3 22 3 23 3 24 3 24 3 24 3 29 28 29 30 30 30 30 31 31 32 31 32 32 32 32 32 32 32 32 32 32 32 31 32 31 31 30 30 30 30 29 28 28M7174 4865v1 1 1 1 2 1 3 1 4 1 5 1 5 2 6 2 7 2 7 3 8 2 10 2 10 3 10 3 12 3 12 3 13 3 14 3 14 4 15 4 15 4 16 4 17 4 17 5 18 4 19 4 19 5 19 6 19 6 20 5 21 5 21 6 22 5 28 28 29 29 29 30 30 30 31 31 31 31 31 32 31 32 32 31 32 31 31 32 31 30 31 30 30 30 29 29 29 28 27M7190 4883v1 1 1 2 1 3 1 4 1 4 2 5 2 6 2 6 3 7 2 8 3 8 4 8 4 9 4 10 5 10 5 11 5 11 5 13 5 13 5 14 5 14 6 15 6 15 6 16 6 16 7 17 6 17 7 18 7 18 7 18 8 19 7 19 8 27 28 28 29 28 30 29 30 30 30 31 31 30 31 31 31 31 31 31 31 31 31 30 30 30 30 30 29 29 28 28 28 27M7206 4900v1 2 2 1 3 1 4 1 4 2 5 2 5 3 6 2 7 3 7 3 8 4 8 4 9 4 10 4 10 5 10 6 11 5 12 5 12 6 13 6 13 7 13 7 14 7 15 7 15 7 15 8 16 8 16 8 16 9 17 8 17 9 17 9 27 27 28 28 28 29 29 29 30 30 29 31 30 30 31 30 31 30 31 30 30 30 30 30 29 30 28 29 28 28 28 27 27M7222 4918v1 1 1 2 1 2 2 3 2 3 2 5 2 5 3 5 3 6 3 7 4 7 4 8 4 8 5 9 5 9 5 10 5 11 6 11 6 11 6 13 6 13 6 13 7 14 7 14 7 14 8 15 7 16 7 16 8 16 9 16 8 17 9 17 9 26 27 27 27 28 28 29 29 29 29 29 30 30 30 30 29 30 30 30 30 30 29 30 29 29 28 29 28 28 27 27 27 26M7239 4935v1 1 1 2 1 3 1 3 2 3 2 5 2 5 2 6 3 6 3 7 3 7 4 8 4 8 4 10 4 10 4 10 5 11 5 11 6 12 5 13 5 13 6 13 6 14 7 14 7 15 6 15 7 16 7 16 7 17 7 17 7 18 7 18 8 26 26 26 27 28 28 28 28 28 29 29 29 29 29 30 29 30 29 29 29 30 29 28 29 29 28 28 27 28 26 27 26 26M7255 4952v1 2 2 1 3 1 3 1 5 1 5 1 6 2 6 2 7 2 7 3 8 2 9 3 9 3 10 3 11 3 12 3 12 4 12 4 13 4 14 4 14 4 15 5 15 4 16 5 16 5 17 5 17 5 17 6 18 5 19 5 19 5 20 5 26 25 27 26 27 27 28 27 28 28 29 28 29 29 29 28 29 29 29 29 28 29 28 28 28 28 27 27 27 26 26 26 25M7271 4970v1 1 3 3 1 4 5 1 5 1 6 1 7 1 8 1 8 1 9 2 10 1 11 1 11 2 12 2 12 2 14 1 14 2 15 2 15 2 16 2 17 2 17 3 17 3 18 2 19 3 19 2 20 3 20 3 20 3 21 3 22 3 24 26 25 26 27 26 27 27 28 27 28 28 28 28 29 28 28 29 28 28 28 28 28 27 28 27 27 26 27 26 25 26 24M7287 4987v1 1 1 2 4 4 5 6 7 8 8 1 9 10 11 12 12 1 13 14 15 15 1 15 1 16 1 17 1 18 19 19 1 19 1 20 1 21 21 1 22 1 22 1 22 1 23 1 24 24 25 26 26 26 26 27 27 27 27 27 28 28 27 28 28 28 27 28 27 28 27 27 27 27 26 26 26 26 25 25 24M7303 5004v1 1 1 2 1 2 1 3 1 4 2 4 2 5 2 5 2 7 2 7 2 8 2 8 3 9 3 9 3 10 3 11 3 11 4 12 3 13 3 13 4 13 5 13 5 14 4 15 5 15 5 15 5 16 5 17 5 17 5 17 5 18 5 18 6 18 24 25 25 25 26 26 26 26 27 26 27 27 27 27 28 27 27 27 27 27 27 27 27 26 26 26 26 25 25 25 24 24M7319 5021v1 1 1 1 2 2 1 3 2 2 3 3 3 3 4 4 3 5 4 5 4 5 5 6 5 6 5 7 6 6 7 7 7 7 7 8 7 8 8 8 9 8 9 9 9 9 9 10 9 10 10 10 10 10 10 11 11 11 10 12 11 11 11 12 11 12 24 24 24 25 25 25 26 26 26 26 26 27 26 27 27 26 27 27 26 27 26 26 26 26 26 25 26 25 24 24 24 24M7335 5038v1 1 1 1 2 1 3 1 3 1 4 2 4 2 5 2 6 2 6 2 7 2 8 3 8 2 9 3 10 2 10 3 11 3 11 3 12 4 12 3 13 4 13 4 14 3 15 4 15 4 15 4 16 4 16 4 17 4 17 5 17 5 17 5 18 5 23 24 23 25 24 25 25 25 26 25 26 26 26 26 26 26 26 27 26 26 25 26 26 25 25 25 25 25 24 23 24 23M7352 5055v1 2 1 2 3 1 4 5 1 5 1 6 1 6 1 7 2 7 2 8 2 9 1 10 1 11 1 11 2 12 2 12 2 12 3 13 2 14 2 14 3 15 2 15 3 16 2 17 2 17 3 17 3 18 2 18 3 19 3 19 3 19 3 20 23 23 23 24 25 24 25 25 25 25 25 26 25 26 26 25 26 25 26 25 26 25 25 24 25 24 24 24 23 23 23M7368 5071v1 1 1 2 1 1 2 2 2 3 2 3 3 3 3 4 3 5 3 5 4 5 4 6 4 6 5 7 5 6 6 7 6 7 7 7 7 8 7 8 7 9 7 10 7 10 8 9 8 10 9 10 9 10 9 11 9 11 10 11 9 12 10 12 9 13 10 22 23 23 23 24 24 24 24 25 25 24 25 25 25 26 25 25 25 25 25 24 25 24 25 24 24 23 23 23 23 22M7384 5088v1 1 2 3 1 3 5 5 6 7 8 8 9 10 10 1 11 11 1 12 13 14 14 1 14 1 15 16 1 16 18 17 1 18 19 19 1 19 1 19 1 20 1 20 1 21 22 22 23 23 23 23 24 23 24 25 24 24 25 24 25 25 24 25 24 25 24 24 24 24 23 24 23 23 22 23 22M7400 5104v1 1 1 1 1 2 1 2 2 2 3 2 4 2 4 3 4 3 4 4 5 4 5 4 6 4 6 5 6 5 7 5 7 6 7 6 8 6 8 7 8 7 9 7 9 7 10 7 10 8 9 9 10 8 10 9 10 9 11 9 11 9 12 9 11 10 12 9 22 22 22 23 23 23 23 23 24 24 24 24 24 24 24 24 24 24 24 24 23 24 23 24 22 23 23 22 22 21M7416 5120v1 2 2 1 3 4 4 1 5 1 5 1 6 1 6 2 7 1 8 1 8 2 9 1 10 1 10 2 11 2 11 1 12 2 12 2 13 2 13 2 14 2 14 3 14 3 15 2 16 2 16 3 16 3 16 3 17 3 17 3 17 3 18 3 18 22 21 22 23 22 23 23 23 23 24 23 24 23 24 23 24 23 24 23 23 24 22 23 23 22 22 22 22 21M7432 5135v1 1 1 1 1 2 1 3 1 3 1 4 1 5 1 5 1 6 2 6 1 7 2 8 1 8 2 9 2 9 2 9 3 10 2 11 2 11 3 11 3 12 3 12 3 13 3 13 3 14 3 14 4 14 3 15 4 15 3 16 4 15 4 16 4 17 3 17 4 21 21 22 21 22 23 22 22 23 23 23 23 23 23 23 23 23 23 23 23 23 22 23 22 22 21 22 21 21M7448 5150v1 1 1 1 2 1 2 1 2 2 3 2 3 2 4 2 4 3 4 4 4 4 5 4 5 4 6 4 6 5 6 5 7 5 7 6 7 6 7 7 7 7 8 7 8 7 9 7 9 7 10 7 10 7 10 8 10 8 11 8 10 9 11 8 11 9 11 9 11 9 21 21 21 22 21 22 22 23 22 22 23 22 23 23 22 23 22 23 22 22 22 22 22 22 21 21 21 21M7464 5165v1 1 1 1 1 1 2 2 2 2 2 2 3 2 4 2 5 2 5 2 5 3 6 3 6 3 6 4 7 3 7 5 7 4 8 4 9 4 9 5 9 5 9 5 10 5 10 6 10 6 10 6 11 6 11 6 12 6 12 6 12 7 12 7 12 7 13 7 13 7 13 20 21 21 21 21 22 21 22 22 22 22 22 22 23 22 22 22 22 22 21 22 21 22 21 20 21 20M7481 5180v1 1 2 2 1 3 4 1 3 1 4 2 4 2 5 2 5 2 6 2 7 2 7 2 8 2 8 3 8 3 9 3 9 3 9 4 10 3 10 4 11 3 12 3 12 4 12 4 12 4 12 5 13 4 13 4 14 4 14 5 14 5 14 5 14 5 15 5 15 20 20 21 21 21 21 21 21 22 22 21 22 22 21 22 22 21 22 21 21 21 21 21 20 20 20M7497 5194v1 1 1 2 3 3 1 3 1 4 1 5 1 5 1 6 1 6 2 6 2 7 2 7 2 8 2 9 2 9 2 9 3 10 2 10 3 11 2 11 3 12 3 11 4 11 4 12 4 12 4 13 3 14 3 14 4 14 4 14 4 14 4 15 4 15 4 16 4 15 20 20 20 21 21 20 21 21 21 22 21 21 21 22 21 21 21 21 21 21 20 20 21 19 20M7513 5207v1 1 2 2 1 3 3 1 4 1 4 1 5 1 5 2 5 2 6 2 6 2 7 2 7 2 8 3 7 3 9 3 8 3 9 4 9 3 10 4 10 4 10 4 11 4 11 4 12 4 12 4 12 4 13 4 13 5 13 4 13 5 14 4 14 5 14 5 14 5 14 20 20 20 20 20 21 20 21 21 20 21 21 21 21 21 20 21 20 21 20 20 20 19 20M7529 5220v1 1 1 2 1 1 2 2 1 3 2 2 2 4 2 4 2 4 3 4 3 5 3 5 4 5 4 6 3 7 4 6 4 7 5 7 5 7 5 8 5 8 5 9 5 9 5 9 6 9 6 10 6 10 6 10 6 11 6 11 6 11 7 11 7 11 7 11 7 11 8 11 8 11 20 19 20 20 20 20 20 20 21 20 20 21 20 21 20 20 20 20 20 20 20 19 19M7545 5232v1 1 1 1 1 1 2 1 2 1 3 2 2 2 4 2 3 3 4 2 5 3 4 3 5 4 5 4 5 4 6 4 7 4 6 5 7 4 8 5 7 5 8 5 9 5 8 6 9 5 10 5 10 6 9 6 10 7 10 6 10 7 10 7 11 6 11 7 11 7 11 8 11 7 12 7 19 19 20 19 20 19 20 20 20 20 20 20 20 20 20 20 20 19 20 19 19 19M7561 5244v1 1 2 2 3 4 4 5 5 1 5 1 6 1 6 1 7 1 7 1 8 1 9 1 9 1 9 1 10 1 11 1 11 1 11 2 11 2 12 1 13 1 13 1 14 1 14 1 15 1 14 2 15 1 15 2 15 2 15 2 16 2 16 1 17 2 16 2 17 1 19 19 19 19 20 19 20 19 20 19 20 20 19 20 20 19 19 20 19 19 18M7577 5255v1 1 1 1 1 2 1 2 1 3 1 4 1 4 1 4 2 4 2 5 2 5 3 5 3 6 2 7 2 7 3 7 3 8 3 8 3 8 4 8 4 9 4 9 4 9 4 10 4 10 5 10 4 11 4 11 5 11 5 11 5 12 5 11 5 12 6 12 5 12 6 12 5 13 6 13 5 13 19 18 19 19 19 20 19 19 20 19 19 20 19 19 19 19 19 18 19M7594 5265v1 2 2 2 1 2 1 3 1 4 1 4 1 4 1 5 2 5 1 6 2 6 2 6 2 7 2 7 3 7 3 8 2 8 3 9 3 9 2 10 3 10 3 10 3 10 4 10 4 11 3 12 3 12 3 12 4 12 4 12 4 13 4 13 4 13 4 13 4 14 4 13 5 13 5 13 5 18 19 18 19 19 19 19 19 19 19 19 19 19 18 19 19 18 19M7610 5275v1 1 1 2 1 2 1 2 2 2 2 3 1 4 2 4 2 4 2 5 2 5 3 5 3 5 3 6 3 7 3 7 3 7 4 7 4 8 3 8 4 9 4 8 5 9 4 9 5 9 5 10 4 10 5 10 5 11 5 11 5 11 5 11 5 12 5 12 5 12 5 12 6 12 5 12 6 12 6 13 18 18 19 18 19 18 19 19 19 18 19 19 18 18 19 18M7626 5283v1 1 2 2 3 3 4 5 5 6 6 7 7 8 8 1 8 1 8 1 9 1 10 10 1 11 11 1 12 12 1 12 1 13 1 13 14 1 13 1 14 1 15 15 1 15 1 15 1 16 1 15 1 16 1 16 1 17 1 16 1 17 1 17 1 18 18 18 19 18 18 19 18 19 18 18 19 18 18 18M7642 5291v1 1 1 1 1 1 2 1 2 2 2 2 3 1 4 1 4 2 4 2 5 2 5 3 5 2 6 3 5 4 6 3 6 4 6 4 7 4 7 4 8 4 8 4 8 5 8 4 9 5 9 5 8 6 9 5 9 6 9 6 10 5 10 6 10 6 11 5 11 6 11 6 10 7 11 6 11 6 11 7 11 6 12 6 18 18 18 18 18 19 18 18 18 18 18 18 18M7658 5298v1 1 1 1 1 1 1 2 1 3 1 3 2 2 2 4 2 3 3 3 3 4 3 5 3 4 4 5 3 6 3 6 4 6 4 6 4 7 4 7 4 7 5 7 5 8 5 8 5 8 5 8 6 8 6 9 6 8 7 8 7 9 6 9 7 9 7 9 7 10 6 10 7 10 7 10 7 10 7 10 8 10 7 10 8 10 18 18 18 18 18 18 18 18 18 17 18M7674 5303v1 1 1 2 2 1 2 1 3 1 3 1 3 2 4 1 4 2 4 2 5 2 5 2 6 2 7 2 6 2 8 2 7 3 7 3 8 3 8 3 9 3 9 3 9 3 10 3 10 3 10 4 10 4 10 4 11 3 12 3 12 4 11 4 12 4 12 4 12 4 13 4 12 4 13 4 13 4 13 4 14 4 13 4 14 4 13 18 18 18 17 18 18 18 17 18M7690 5308v1 2 2 2 3 4 4 4 1 4 1 5 1 5 1 6 1 6 1 7 1 7 1 8 1 8 1 9 1 9 1 10 1 10 1 10 1 11 1 11 2 11 1 12 1 12 2 12 2 12 2 13 1 13 2 13 2 14 2 13 2 14 2 14 2 14 2 15 2 15 2 15 2 15 2 15 2 15 2 15 3 15 2 15 18 18 17 18 18 17 18M7707 5312v1 1 1 1 3 3 3 1 3 1 4 5 6 6 7 7 8 8 9 9 9 1 9 1 10 11 11 1 11 1 11 1 12 13 13 1 13 1 13 1 13 1 14 1 14 1 14 1 15 15 1 15 1 15 1 16 1 15 1 16 1 16 1 16 1 16 1 17 1 16 1 16 1 17 17 18 18 17 18M7723 5315v1 1 2 3 3 3 4 5 5 6 6 6 8 7 8 1 8 9 10 10 10 11 11 1 11 12 1 12 13 13 14 14 14 15 14 1 15 15 16 16 16 16 17 16 1 16 17 17 17 1 17 17 17 1 17 17 18 17M7739 5316v1 2 2 2 3 4 4 4 5 6 6 7 7 8 8 8 1 9 9 10 11 10 1 11 12 12 12 13 13 14 14 14 15 14 15 1 15 16 15 16 17 16 17 17 17 17 17 17 17 18 17 17 18M7755 5317v1 1 2 3 3 3 4 5 5 6 6 6 8 7 8 9 9 10 10 10 11 11 12 12 13 12 14 13 14 14 15 15 15 15 16 16 16 16 16 17 17 17 17 17 17 17 18 17 17" fill="none" stroke="none" marker-start="url(#d)" marker-mid="url(#d)" marker-end="url(#d)"/></g>
<g fill="none" stroke="#D32D06" stroke-width="6.3" transform="translate(0,0.35)">
<path d="M105.3 600.88 L106.65 601.52 L107.99 602.16 L109.34 602.81 L110.69 603.46 L112.03 604.13 L113.38 604.8 L114.72 605.48 L116.07 606.17 L117.42 606.86 L118.76 607.56 L120.11 608.26 L121.45 608.97 L122.8 609.68 L124.15 610.39 L125.49 611.11 L126.84 611.83 L128.19 612.55 L129.53 613.27 L130.88 614 L132.22 614.72 L133.57 615.45 L134.92 616.17 L136.26 616.89 L137.61 617.62 L138.96 618.33 L140.3 619.05 L141.65 619.77 L143 620.48 L144.34 621.18 L145.69 621.89 L147.03 622.58 L148.38 623.28 L149.73 623.96 L151.07 624.64 L152.42 625.31 L153.76 625.98 L155.11 626.64 L156.46 627.29 L157.8 627.93 L159.15 628.56 L160.5 629.18 L161.84 629.8 L163.19 630.4 L164.53 630.99 L165.88 631.57 L167.23 632.14 L168.57 632.7 L169.92 633.24 L171.27 633.77 L172.61 634.29 L173.96 634.8 L175.31 635.29 L176.65 635.77 L178 636.23 L179.34 636.68 L180.69 637.11 L182.04 637.53 L183.38 637.93 L184.73 638.32 L186.07 638.69 L187.42 639.05 L188.77 639.38 L190.11 639.7 L191.46 640.01 L192.81 640.29 L194.15 640.56 L195.5 640.81 L196.84 641.05 L198.19 641.26 L199.54 641.46 L200.88 641.64 L202.23 641.8 L203.58 641.94 L204.92 642.06 L206.27 642.16 L207.61 642.25 L208.96 642.31 L210.31 642.36 L211.65 642.39 L213 642.4 L214.35 642.39 L215.69 642.36 L217.04 642.31 L218.38 642.25 L219.73 642.16 L221.08 642.06 L222.42 641.94 L223.77 641.8 L225.12 641.64 L226.46 641.46 L227.81 641.26 L229.15 641.05 L230.5 640.81 L231.85 640.56 L233.19 640.29 L234.54 640.01 L235.89 639.7 L237.23 639.38 L238.58 639.05 L239.93 638.69 L241.27 638.32 L242.62 637.93 L243.96 637.53 L245.31 637.11 L246.66 636.68 L248 636.23 L249.35 635.77 L250.69 635.29 L252.04 634.8 L253.39 634.29 L254.73 633.77 L256.08 633.24 L257.43 632.7 L258.77 632.14 L260.12 631.57 L261.46 630.99 L262.81 630.4 L264.16 629.8 L265.5 629.18 L266.85 628.56"/>
<path d="M452.7 587.04 L454.05 588.49 L455.39 589.94 L456.74 591.39 L458.08 592.83 L459.43 594.27 L460.77 595.7 L462.12 597.13 L463.46 598.55 L464.81 599.97 L466.15 601.37 L467.5 602.77 L468.84 604.15 L470.19 605.52 L471.53 606.88 L472.88 608.23 L474.22 609.56 L475.56 610.88 L476.91 612.18 L478.25 613.46 L479.6 614.72 L480.94 615.97 L482.29 617.19 L483.63 618.4 L484.98 619.58 L486.32 620.74 L487.67 621.88 L489.01 623 L490.36 624.08 L491.7 625.15 L493.05 626.19 L494.39 627.2 L495.74 628.18 L497.08 629.14 L498.43 630.06 L499.77 630.96 L501.12 631.83 L502.46 632.66 L503.81 633.47 L505.15 634.24 L506.5 634.98 L507.84 635.69 L509.19 636.37 L510.53 637.01 L511.88 637.61 L513.23 638.19 L514.57 638.72 L515.91 639.22 L517.26 639.69 L518.61 640.12 L519.95 640.51 L521.29 640.87 L522.64 641.19 L523.99 641.47 L525.33 641.72 L526.67 641.93 L528.02 642.1 L529.37 642.23 L530.71 642.32 L532.05 642.38 L533.4 642.4 L534.75 642.38 L536.09 642.32 L537.43 642.23 L538.78 642.1 L540.12 641.93 L541.47 641.72 L542.82 641.47 L544.16 641.19 L545.5 640.87 L546.85 640.51 L548.19 640.12 L549.54 639.69 L550.88 639.22 L552.23 638.72 L553.58 638.19 L554.92 637.61 L556.26 637.01 L557.61 636.37 L558.95 635.69 L560.3 634.98 L561.64 634.24 L562.99 633.47 L564.34 632.66 L565.68 631.83 L567.02 630.96 L568.37 630.06 L569.72 629.14 L571.06 628.18 L572.4 627.2 L573.75 626.19 L575.1 625.15 L576.44 624.08 L577.78 623 L579.13 621.88 L580.48 620.74 L581.82 619.58 L583.16 618.4 L584.51 617.19 L585.86 615.97 L587.2 614.72 L588.54 613.46 L589.89 612.18 L591.24 610.88 L592.58 609.56 L593.92 608.23 L595.27 606.88 L596.62 605.52 L597.96 604.15 L599.3 602.77 L600.65 601.37 L602 599.97 L603.34 598.55 L604.68 597.13 L606.03 595.7 L607.38 594.27 L608.72 592.83 L610.07 591.39 L611.41 589.94 L612.75 588.49 L614.1 587.04"/>
</g>
<g clip-path="url(#cp_c1)">
<path d="M107.85 670.93 L109.45 673.76 L111.06 676.62 L112.66 679.51 L114.26 682.42 L115.86 685.35 L117.47 688.3 L119.07 691.28 L120.67 694.27 L122.27 697.29 L123.88 700.33 L125.48 703.38 L127.08 706.45 L128.69 709.54 L130.29 712.64 L131.89 715.76 L133.49 718.89 L135.1 722.04 L136.7 725.2 L138.3 728.37 L139.91 731.56 L141.51 734.75 L143.11 737.96 L144.71 741.17 L146.32 744.39 L147.92 747.62 L149.52 750.86 L151.12 754.1 L152.73 757.35 L154.33 760.6 L155.93 763.85 L157.54 767.11 L159.14 770.37 L160.74 773.63 L162.34 776.89 L163.95 780.15 L165.55 783.41 L167.15 786.67 L168.75 789.92 L170.36 793.17 L171.96 796.42 L173.56 799.66 L175.17 802.89 L176.77 806.12 L178.37 809.34 L179.97 812.55 L181.58 815.75 L183.18 818.94 L184.78 822.12 L186.38 825.29 L187.99 828.44 L189.59 831.59 L191.19 834.71 L192.8 837.83 L194.4 840.93 L196 844.01 L197.6 847.07 L199.21 850.12 L200.81 853.15 L202.41 856.16 L204.01 859.15 L205.62 862.12 L207.22 865.06 L208.82 867.99 L210.43 870.89 L212.03 873.77 L213.63 876.62 L215.23 879.45 L216.84 882.25 L218.44 885.03 L220.04 887.77 L221.65 890.5 L223.25 893.19 L224.85 895.85 L226.45 898.48 L228.06 901.09 L229.66 903.66 L231.26 906.2 L232.86 908.7 L234.47 911.18 L236.07 913.62 L237.67 916.02 L239.28 918.39 L240.88 920.73 L242.48 923.03 L244.08 925.29 L245.69 927.52 L247.29 929.71 L248.89 931.86 L250.49 933.97 L252.1 936.04 L253.7 938.07 L255.3 940.06 L256.91 942.01 L258.51 943.92 L260.11 945.79 L261.71 947.62 L263.32 949.4 L264.92 951.14 L266.52 952.84 L268.12 954.49 L269.73 956.1 L271.33 957.66 L272.93 959.18 L274.54 960.65 L276.14 962.08 L277.74 963.46 L279.34 964.79 L280.95 966.08 L282.55 967.32 L284.15 968.51 L285.76 969.66 L287.36 970.75 L288.96 971.8 L290.56 972.8 L292.17 973.75 L293.77 974.65 L295.37 975.51 L296.97 976.31 L298.58 977.06 L300.18 977.76 L301.78 978.42 L303.39 979.02 L304.99 979.57 L306.59 980.07 L308.19 980.52 L309.8 980.92 L311.4 981.27 L313 981.57 L314.6 981.82 L316.21 982.02 L317.81 982.16 L319.41 982.25 L321.02 982.3 L322.62 982.29 L324.22 982.23 L325.82 982.12 L327.43 981.96 L329.03 981.74 L330.63 981.48 L332.23 981.16 L333.84 980.8 L335.44 980.38 L337.04 979.91 L338.65 979.39 L340.25 978.82 L341.85 978.2 L343.45 977.54 L345.06 976.82 L346.66 976.05 L348.26 975.23 L349.87 974.36 L351.47 973.44 L353.07 972.47 L354.67 971.46 L356.28 970.39 L357.88 969.28 L359.48 968.12 L361.08 966.91 L362.69 965.66 L364.29 964.35 L365.89 963 L367.5 961.61 L369.1 960.17 L370.7 958.68 L372.3 957.14 L373.91 955.57 L375.51 953.94 L377.11 952.28 L378.71 950.57 L380.32 948.81 L381.92 947.01 L383.52 945.17 L385.13 943.29 L386.73 941.37 L388.33 939.4 L389.93 937.4 L391.54 935.35 L393.14 933.27 L394.74 931.14 L396.34 928.98 L397.95 926.78 L399.55 924.54 L401.15 922.27 L402.76 919.96 L404.36 917.61 L405.96 915.22 L407.56 912.81 L409.17 910.36 L410.77 907.87 L412.37 905.35 L413.98 902.8 L415.58 900.22 L417.18 897.61 L418.78 894.97 L420.39 892.29 L421.99 889.59 L423.59 886.86 L425.19 884.1 L426.8 881.32 L428.4 878.51 L428.4 683.2 L107.85 683.2 Z" fill="#E99680" stroke="none"/>
<path d="M107.85 670.93 L109.45 673.76 L111.06 676.62 L112.66 679.51 L114.26 682.42 L115.86 685.35 L117.47 688.3 L119.07 691.28 L120.67 694.27 L122.27 697.29 L123.88 700.33 L125.48 703.38 L127.08 706.45 L128.69 709.54 L130.29 712.64 L131.89 715.76 L133.49 718.89 L135.1 722.04 L136.7 725.2 L138.3 728.37 L139.91 731.56 L141.51 734.75 L143.11 737.96 L144.71 741.17 L146.32 744.39 L147.92 747.62 L149.52 750.86 L151.12 754.1 L152.73 757.35 L154.33 760.6 L155.93 763.85 L157.54 767.11 L159.14 770.37 L160.74 773.63 L162.34 776.89 L163.95 780.15 L165.55 783.41 L167.15 786.67 L168.75 789.92 L170.36 793.17 L171.96 796.42 L173.56 799.66 L175.17 802.89 L176.77 806.12 L178.37 809.34 L179.97 812.55 L181.58 815.75 L183.18 818.94 L184.78 822.12 L186.38 825.29 L187.99 828.44 L189.59 831.59 L191.19 834.71 L192.8 837.83 L194.4 840.93 L196 844.01 L197.6 847.07 L199.21 850.12 L200.81 853.15 L202.41 856.16 L204.01 859.15 L205.62 862.12 L207.22 865.06 L208.82 867.99 L210.43 870.89 L212.03 873.77 L213.63 876.62 L215.23 879.45 L216.84 882.25 L218.44 885.03 L220.04 887.77 L221.65 890.5 L223.25 893.19 L224.85 895.85 L226.45 898.48 L228.06 901.09 L229.66 903.66 L231.26 906.2 L232.86 908.7 L234.47 911.18 L236.07 913.62 L237.67 916.02 L239.28 918.39 L240.88 920.73 L242.48 923.03 L244.08 925.29 L245.69 927.52 L247.29 929.71 L248.89 931.86 L250.49 933.97 L252.1 936.04 L253.7 938.07 L255.3 940.06 L256.91 942.01 L258.51 943.92 L260.11 945.79 L261.71 947.62 L263.32 949.4 L264.92 951.14 L266.52 952.84 L268.12 954.49 L269.73 956.1 L271.33 957.66 L272.93 959.18 L274.54 960.65 L276.14 962.08 L277.74 963.46 L279.34 964.79 L280.95 966.08 L282.55 967.32 L284.15 968.51 L285.76 969.66 L287.36 970.75 L288.96 971.8 L290.56 972.8 L292.17 973.75 L293.77 974.65 L295.37 975.51 L296.97 976.31 L298.58 977.06 L300.18 977.76 L301.78 978.42 L303.39 979.02 L304.99 979.57 L306.59 980.07 L308.19 980.52 L309.8 980.92 L311.4 981.27 L313 981.57 L314.6 981.82 L316.21 982.02 L317.81 982.16 L319.41 982.25 L321.02 982.3 L322.62 982.29 L324.22 982.23 L325.82 982.12 L327.43 981.96 L329.03 981.74 L330.63 981.48 L332.23 981.16 L333.84 980.8 L335.44 980.38 L337.04 979.91 L338.65 979.39 L340.25 978.82 L341.85 978.2 L343.45 977.54 L345.06 976.82 L346.66 976.05 L348.26 975.23 L349.87 974.36 L351.47 973.44 L353.07 972.47 L354.67 971.46 L356.28 970.39 L357.88 969.28 L359.48 968.12 L361.08 966.91 L362.69 965.66 L364.29 964.35 L365.89 963 L367.5 961.61 L369.1 960.17 L370.7 958.68 L372.3 957.14 L373.91 955.57 L375.51 953.94 L377.11 952.28 L378.71 950.57 L380.32 948.81 L381.92 947.01 L383.52 945.17 L385.13 943.29 L386.73 941.37 L388.33 939.4 L389.93 937.4 L391.54 935.35 L393.14 933.27 L394.74 931.14 L396.34 928.98 L397.95 926.78 L399.55 924.54 L401.15 922.27 L402.76 919.96 L404.36 917.61 L405.96 915.22 L407.56 912.81 L409.17 910.36 L410.77 907.87 L412.37 905.35 L413.98 902.8 L415.58 900.22 L417.18 897.61 L418.78 894.97 L420.39 892.29 L421.99 889.59 L423.59 886.86 L425.19 884.1 L426.8 881.32 L428.4 878.51" fill="none" stroke="#D32D06" stroke-width="2.4"/>
</g>
<g clip-path="url(#cp_c2)">
<path d="M452.7 567.13 L454.31 573.65 L455.93 580.17 L457.54 586.69 L459.16 593.2 L460.77 599.71 L462.38 606.2 L464 612.69 L465.61 619.17 L467.23 625.63 L468.84 632.08 L470.45 638.51 L472.07 644.93 L473.68 651.32 L475.3 657.7 L476.91 664.05 L478.52 670.38 L480.14 676.68 L481.75 682.96 L483.37 689.21 L484.98 695.43 L486.59 701.61 L488.21 707.77 L489.82 713.88 L491.44 719.97 L493.05 726.01 L494.66 732.02 L496.28 737.98 L497.89 743.9 L499.51 749.78 L501.12 755.62 L502.73 761.4 L504.35 767.14 L505.96 772.83 L507.58 778.47 L509.19 784.06 L510.8 789.59 L512.42 795.07 L514.03 800.49 L515.65 805.86 L517.26 811.16 L518.87 816.41 L520.49 821.59 L522.1 826.71 L523.72 831.77 L525.33 836.76 L526.94 841.69 L528.56 846.55 L530.17 851.33 L531.79 856.05 L533.4 860.7 L535.01 865.28 L536.63 869.78 L538.24 874.2 L539.86 878.55 L541.47 882.83 L543.08 887.02 L544.7 891.14 L546.31 895.18 L547.93 899.14 L549.54 903.01 L551.15 906.8 L552.77 910.51 L554.38 914.13 L556 917.67 L557.61 921.12 L559.22 924.48 L560.84 927.76 L562.45 930.95 L564.07 934.04 L565.68 937.05 L567.29 939.96 L568.91 942.79 L570.52 945.52 L572.14 948.15 L573.75 950.7 L575.36 953.15 L576.98 955.5 L578.59 957.76 L580.21 959.92 L581.82 961.98 L583.43 963.95 L585.05 965.82 L586.66 967.59 L588.28 969.26 L589.89 970.83 L591.5 972.3 L593.12 973.67 L594.73 974.95 L596.35 976.12 L597.96 977.19 L599.57 978.16 L601.19 979.03 L602.8 979.79 L604.42 980.46 L606.03 981.02 L607.64 981.48 L609.26 981.84 L610.87 982.1 L612.49 982.25 L614.1 982.3 L615.71 982.25 L617.33 982.1 L618.94 981.84 L620.56 981.48 L622.17 981.02 L623.78 980.46 L625.4 979.79 L627.01 979.03 L628.63 978.16 L630.24 977.19 L631.85 976.12 L633.47 974.95 L635.08 973.67 L636.7 972.3 L638.31 970.83 L639.92 969.26 L641.54 967.59 L643.15 965.82 L644.77 963.95 L646.38 961.98 L647.99 959.92 L649.61 957.76 L651.22 955.5 L652.84 953.15 L654.45 950.7 L656.06 948.15 L657.68 945.52 L659.29 942.79 L660.91 939.96 L662.52 937.05 L664.13 934.04 L665.75 930.95 L667.36 927.76 L668.98 924.48 L670.59 921.12 L672.2 917.67 L673.82 914.13 L675.43 910.51 L677.05 906.8 L678.66 903.01 L680.27 899.14 L681.89 895.18 L683.5 891.14 L685.12 887.02 L686.73 882.83 L688.34 878.55 L689.96 874.2 L691.57 869.78 L693.19 865.28 L694.8 860.7 L696.41 856.05 L698.03 851.33 L699.64 846.55 L701.26 841.69 L702.87 836.76 L704.48 831.77 L706.1 826.71 L707.71 821.59 L709.33 816.41 L710.94 811.16 L712.55 805.86 L714.17 800.49 L715.78 795.07 L717.4 789.59 L719.01 784.06 L720.62 778.47 L722.24 772.83 L723.85 767.14 L725.47 761.4 L727.08 755.62 L728.69 749.78 L730.31 743.9 L731.92 737.98 L733.54 732.02 L735.15 726.01 L736.76 719.97 L738.38 713.88 L739.99 707.77 L741.61 701.61 L743.22 695.43 L744.83 689.21 L746.45 682.96 L748.06 676.68 L749.68 670.38 L751.29 664.05 L752.9 657.7 L754.52 651.32 L756.13 644.93 L757.75 638.51 L759.36 632.08 L760.97 625.63 L762.59 619.17 L764.2 612.69 L765.82 606.2 L767.43 599.71 L769.04 593.2 L770.66 586.69 L772.27 580.17 L773.89 573.65 L775.5 567.13 L775.5 683.2 L452.7 683.2 Z" fill="#E99680" stroke="none"/>
<path d="M452.7 567.13 L454.31 573.65 L455.93 580.17 L457.54 586.69 L459.16 593.2 L460.77 599.71 L462.38 606.2 L464 612.69 L465.61 619.17 L467.23 625.63 L468.84 632.08 L470.45 638.51 L472.07 644.93 L473.68 651.32 L475.3 657.7 L476.91 664.05 L478.52 670.38 L480.14 676.68 L481.75 682.96 L483.37 689.21 L484.98 695.43 L486.59 701.61 L488.21 707.77 L489.82 713.88 L491.44 719.97 L493.05 726.01 L494.66 732.02 L496.28 737.98 L497.89 743.9 L499.51 749.78 L501.12 755.62 L502.73 761.4 L504.35 767.14 L505.96 772.83 L507.58 778.47 L509.19 784.06 L510.8 789.59 L512.42 795.07 L514.03 800.49 L515.65 805.86 L517.26 811.16 L518.87 816.41 L520.49 821.59 L522.1 826.71 L523.72 831.77 L525.33 836.76 L526.94 841.69 L528.56 846.55 L530.17 851.33 L531.79 856.05 L533.4 860.7 L535.01 865.28 L536.63 869.78 L538.24 874.2 L539.86 878.55 L541.47 882.83 L543.08 887.02 L544.7 891.14 L546.31 895.18 L547.93 899.14 L549.54 903.01 L551.15 906.8 L552.77 910.51 L554.38 914.13 L556 917.67 L557.61 921.12 L559.22 924.48 L560.84 927.76 L562.45 930.95 L564.07 934.04 L565.68 937.05 L567.29 939.96 L568.91 942.79 L570.52 945.52 L572.14 948.15 L573.75 950.7 L575.36 953.15 L576.98 955.5 L578.59 957.76 L580.21 959.92 L581.82 961.98 L583.43 963.95 L585.05 965.82 L586.66 967.59 L588.28 969.26 L589.89 970.83 L591.5 972.3 L593.12 973.67 L594.73 974.95 L596.35 976.12 L597.96 977.19 L599.57 978.16 L601.19 979.03 L602.8 979.79 L604.42 980.46 L606.03 981.02 L607.64 981.48 L609.26 981.84 L610.87 982.1 L612.49 982.25 L614.1 982.3 L615.71 982.25 L617.33 982.1 L618.94 981.84 L620.56 981.48 L622.17 981.02 L623.78 980.46 L625.4 979.79 L627.01 979.03 L628.63 978.16 L630.24 977.19 L631.85 976.12 L633.47 974.95 L635.08 973.67 L636.7 972.3 L638.31 970.83 L639.92 969.26 L641.54 967.59 L643.15 965.82 L644.77 963.95 L646.38 961.98 L647.99 959.92 L649.61 957.76 L651.22 955.5 L652.84 953.15 L654.45 950.7 L656.06 948.15 L657.68 945.52 L659.29 942.79 L660.91 939.96 L662.52 937.05 L664.13 934.04 L665.75 930.95 L667.36 927.76 L668.98 924.48 L670.59 921.12 L672.2 917.67 L673.82 914.13 L675.43 910.51 L677.05 906.8 L678.66 903.01 L680.27 899.14 L681.89 895.18 L683.5 891.14 L685.12 887.02 L686.73 882.83 L688.34 878.55 L689.96 874.2 L691.57 869.78 L693.19 865.28 L694.8 860.7 L696.41 856.05 L698.03 851.33 L699.64 846.55 L701.26 841.69 L702.87 836.76 L704.48 831.77 L706.1 826.71 L707.71 821.59 L709.33 816.41 L710.94 811.16 L712.55 805.86 L714.17 800.49 L715.78 795.07 L717.4 789.59 L719.01 784.06 L720.62 778.47 L722.24 772.83 L723.85 767.14 L725.47 761.4 L727.08 755.62 L728.69 749.78 L730.31 743.9 L731.92 737.98 L733.54 732.02 L735.15 726.01 L736.76 719.97 L738.38 713.88 L739.99 707.77 L741.61 701.61 L743.22 695.43 L744.83 689.21 L746.45 682.96 L748.06 676.68 L749.68 670.38 L751.29 664.05 L752.9 657.7 L754.52 651.32 L756.13 644.93 L757.75 638.51 L759.36 632.08 L760.97 625.63 L762.59 619.17 L764.2 612.69 L765.82 606.2 L767.43 599.71 L769.04 593.2 L770.66 586.69 L772.27 580.17 L773.89 573.65 L775.5 567.13" fill="none" stroke="#D32D06" stroke-width="2.4"/>
</g>
<g fill="none" stroke="#000" stroke-width="5.6">
<path d="M107.85 982.3 L119.07 981.67 L130.29 979.8 L141.51 976.7 L152.73 972.42 L163.95 967 L175.18 960.51 L186.4 953.04 L197.62 944.66 L208.84 935.48 L220.06 925.61 L231.28 915.18 L242.5 904.3"/>
<path d="M254.2 892.63 L254.82 892.01 L255.43 891.39 L256.05 890.76 L256.67 890.14 L257.28 889.52 L257.9 888.89 L258.52 888.27 L259.13 887.64 L259.75 887.02 L260.37 886.39 L260.98 885.77 L261.6 885.14"/>
<path d="M273.6 872.94 L274.21 872.32 L274.82 871.71 L275.43 871.09 L276.03 870.47 L276.64 869.86 L277.25 869.24 L277.86 868.62 L278.47 868.01 L279.07 867.39 L279.68 866.78 L280.29 866.16 L280.9 865.55"/>
<path d="M292.8 853.65 L293.42 853.04 L294.03 852.44 L294.65 851.83 L295.27 851.22 L295.88 850.62 L296.5 850.02 L297.12 849.41 L297.73 848.81 L298.35 848.21 L298.97 847.61 L299.58 847.01 L300.2 846.42"/>
<path d="M312.4 834.87 L313.28 834.06 L314.17 833.25 L315.05 832.44 L315.93 831.64 L316.82 830.84 L317.7 830.04 L318.58 829.25 L319.47 828.46 L320.35 827.67 L321.23 826.89 L322.12 826.11 L323 825.34"/>
<path d="M335.1 815.17 L335.91 814.52 L336.72 813.87 L337.53 813.23 L338.33 812.59 L339.14 811.96 L339.95 811.33 L340.76 810.71 L341.57 810.09 L342.38 809.47 L343.18 808.86 L343.99 808.25 L344.8 807.65"/>
<path d="M357.3 798.91 L358.06 798.42 L358.82 797.93 L359.57 797.45 L360.33 796.97 L361.09 796.49 L361.85 796.02 L362.61 795.56 L363.37 795.09 L364.12 794.64 L364.88 794.19 L365.64 793.74 L366.4 793.3"/>
<path d="M381.3 785.58 L382.15 785.2 L383 784.82 L383.85 784.45 L384.7 784.09 L385.55 783.74 L386.4 783.39 L387.25 783.04 L388.1 782.71 L388.95 782.38 L389.8 782.06 L390.65 781.74 L391.5 781.43"/>
<path d="M394.1 780.53 L395.02 780.22 L395.95 779.92 L396.88 779.63 L397.8 779.35 L398.73 779.08 L399.65 778.81 L400.58 778.55 L401.5 778.3 L402.43 778.06 L403.35 777.83 L404.27 777.6 L405.2 777.39"/>
<path d="M421.2 774.97 L421.8 774.93 L422.4 774.9 L423 774.86 L423.6 774.83 L424.2 774.8 L424.8 774.78 L425.4 774.76 L426 774.75 L426.6 774.73 L427.2 774.72 L427.8 774.72 L428.4 774.72"/>
<path d="M452.7 982.3 L462.43 981.84 L472.15 980.45 L481.88 978.14 L491.6 974.95 L501.32 970.89 L511.05 966.01 L520.77 960.34 L530.5 953.94 L540.23 946.87 L549.95 939.18 L559.67 930.95 L569.4 922.25"/>
<path d="M582.1 910.31 L582.73 909.71 L583.35 909.11 L583.98 908.5 L584.6 907.9 L585.23 907.29 L585.85 906.69 L586.48 906.08 L587.1 905.47 L587.73 904.86 L588.35 904.25 L588.98 903.64 L589.6 903.02"/>
<path d="M601.3 891.4 L601.97 890.74 L602.63 890.07 L603.3 889.4 L603.97 888.73 L604.63 888.06 L605.3 887.39 L605.97 886.72 L606.63 886.04 L607.3 885.37 L607.97 884.7 L608.63 884.03 L609.3 883.36"/>
<path d="M620.4 872.15 L621.08 871.46 L621.77 870.77 L622.45 870.08 L623.13 869.4 L623.82 868.71 L624.5 868.02 L625.18 867.33 L625.87 866.65 L626.55 865.96 L627.23 865.28 L627.92 864.59 L628.6 863.91"/>
<path d="M639.8 852.82 L640.72 851.91 L641.65 851.01 L642.57 850.11 L643.5 849.21 L644.42 848.32 L645.35 847.43 L646.27 846.54 L647.2 845.65 L648.12 844.76 L649.05 843.88 L649.98 843 L650.9 842.13"/>
<path d="M662.1 831.77 L662.82 831.12 L663.53 830.48 L664.25 829.84 L664.97 829.2 L665.68 828.56 L666.4 827.93 L667.12 827.3 L667.83 826.67 L668.55 826.04 L669.27 825.42 L669.98 824.8 L670.7 824.18"/>
<path d="M683.5 813.61 L684.17 813.09 L684.83 812.57 L685.5 812.05 L686.17 811.53 L686.83 811.02 L687.5 810.51 L688.17 810 L688.83 809.5 L689.5 809 L690.17 808.5 L690.83 808 L691.5 807.51"/>
<path d="M704.9 798.27 L705.76 797.72 L706.62 797.18 L707.48 796.64 L708.33 796.11 L709.19 795.59 L710.05 795.07 L710.91 794.56 L711.77 794.05 L712.62 793.55 L713.48 793.05 L714.34 792.57 L715.2 792.08"/>
<path d="M716.5 791.36 L721.42 788.77 L726.33 786.37 L731.25 784.19 L736.17 782.23 L741.08 780.48 L746 778.97 L750.92 777.67 L755.83 776.61 L760.75 775.78 L765.67 775.19 L770.58 774.84 L775.5 774.72"/>
</g>
<rect x="104.4" y="38.6" width="324" height="248.85" fill="none" stroke="#000" stroke-width="1.05"/>
<rect x="452.7" y="38.6" width="322.8" height="248.85" fill="none" stroke="#000" stroke-width="1.05"/>
<rect x="105.3" y="393.3" width="323.1" height="249.1" fill="none" stroke="#000" stroke-width="1.05"/>
<rect x="452.7" y="393.3" width="322.8" height="249.1" fill="none" stroke="#000" stroke-width="1.05"/>
<rect x="107.85" y="733.2" width="320.55" height="249.1" fill="none" stroke="#000" stroke-width="1.05"/>
<rect x="452.7" y="733.2" width="322.8" height="249.1" fill="none" stroke="#000" stroke-width="1.05"/>
<g fill="none" stroke="#D32D06" stroke-width="6.3" transform="translate(0,0.35)" opacity="0.4">
<path d="M105.3 600.88 L106.65 601.52 L107.99 602.16 L109.34 602.81 L110.69 603.46 L112.03 604.13 L113.38 604.8 L114.72 605.48 L116.07 606.17 L117.42 606.86 L118.76 607.56 L120.11 608.26 L121.45 608.97 L122.8 609.68 L124.15 610.39 L125.49 611.11 L126.84 611.83 L128.19 612.55 L129.53 613.27 L130.88 614 L132.22 614.72 L133.57 615.45 L134.92 616.17 L136.26 616.89 L137.61 617.62 L138.96 618.33 L140.3 619.05 L141.65 619.77 L143 620.48 L144.34 621.18 L145.69 621.89 L147.03 622.58 L148.38 623.28 L149.73 623.96 L151.07 624.64 L152.42 625.31 L153.76 625.98 L155.11 626.64 L156.46 627.29 L157.8 627.93 L159.15 628.56 L160.5 629.18 L161.84 629.8 L163.19 630.4 L164.53 630.99 L165.88 631.57 L167.23 632.14 L168.57 632.7 L169.92 633.24 L171.27 633.77 L172.61 634.29 L173.96 634.8 L175.31 635.29 L176.65 635.77 L178 636.23 L179.34 636.68 L180.69 637.11 L182.04 637.53 L183.38 637.93 L184.73 638.32 L186.07 638.69 L187.42 639.05 L188.77 639.38 L190.11 639.7 L191.46 640.01 L192.81 640.29 L194.15 640.56 L195.5 640.81 L196.84 641.05 L198.19 641.26 L199.54 641.46 L200.88 641.64 L202.23 641.8 L203.58 641.94 L204.92 642.06 L206.27 642.16 L207.61 642.25 L208.96 642.31 L210.31 642.36 L211.65 642.39 L213 642.4 L214.35 642.39 L215.69 642.36 L217.04 642.31 L218.38 642.25 L219.73 642.16 L221.08 642.06 L222.42 641.94 L223.77 641.8 L225.12 641.64 L226.46 641.46 L227.81 641.26 L229.15 641.05 L230.5 640.81 L231.85 640.56 L233.19 640.29 L234.54 640.01 L235.89 639.7 L237.23 639.38 L238.58 639.05 L239.93 638.69 L241.27 638.32 L242.62 637.93 L243.96 637.53 L245.31 637.11 L246.66 636.68 L248 636.23 L249.35 635.77 L250.69 635.29 L252.04 634.8 L253.39 634.29 L254.73 633.77 L256.08 633.24 L257.43 632.7 L258.77 632.14 L260.12 631.57 L261.46 630.99 L262.81 630.4 L264.16 629.8 L265.5 629.18 L266.85 628.56"/>
<path d="M452.7 587.04 L454.05 588.49 L455.39 589.94 L456.74 591.39 L458.08 592.83 L459.43 594.27 L460.77 595.7 L462.12 597.13 L463.46 598.55 L464.81 599.97 L466.15 601.37 L467.5 602.77 L468.84 604.15 L470.19 605.52 L471.53 606.88 L472.88 608.23 L474.22 609.56 L475.56 610.88 L476.91 612.18 L478.25 613.46 L479.6 614.72 L480.94 615.97 L482.29 617.19 L483.63 618.4 L484.98 619.58 L486.32 620.74 L487.67 621.88 L489.01 623 L490.36 624.08 L491.7 625.15 L493.05 626.19 L494.39 627.2 L495.74 628.18 L497.08 629.14 L498.43 630.06 L499.77 630.96 L501.12 631.83 L502.46 632.66 L503.81 633.47 L505.15 634.24 L506.5 634.98 L507.84 635.69 L509.19 636.37 L510.53 637.01 L511.88 637.61 L513.23 638.19 L514.57 638.72 L515.91 639.22 L517.26 639.69 L518.61 640.12 L519.95 640.51 L521.29 640.87 L522.64 641.19 L523.99 641.47 L525.33 641.72 L526.67 641.93 L528.02 642.1 L529.37 642.23 L530.71 642.32 L532.05 642.38 L533.4 642.4 L534.75 642.38 L536.09 642.32 L537.43 642.23 L538.78 642.1 L540.12 641.93 L541.47 641.72 L542.82 641.47 L544.16 641.19 L545.5 640.87 L546.85 640.51 L548.19 640.12 L549.54 639.69 L550.88 639.22 L552.23 638.72 L553.58 638.19 L554.92 637.61 L556.26 637.01 L557.61 636.37 L558.95 635.69 L560.3 634.98 L561.64 634.24 L562.99 633.47 L564.34 632.66 L565.68 631.83 L567.02 630.96 L568.37 630.06 L569.72 629.14 L571.06 628.18 L572.4 627.2 L573.75 626.19 L575.1 625.15 L576.44 624.08 L577.78 623 L579.13 621.88 L580.48 620.74 L581.82 619.58 L583.16 618.4 L584.51 617.19 L585.86 615.97 L587.2 614.72 L588.54 613.46 L589.89 612.18 L591.24 610.88 L592.58 609.56 L593.92 608.23 L595.27 606.88 L596.62 605.52 L597.96 604.15 L599.3 602.77 L600.65 601.37 L602 599.97 L603.34 598.55 L604.68 597.13 L606.03 595.7 L607.38 594.27 L608.72 592.83 L610.07 591.39 L611.41 589.94 L612.75 588.49 L614.1 587.04"/>
</g>
<text x="88.3" y="320.15" font-size="25.5" textLength="32.2" lengthAdjust="spacingAndGlyphs">−1</text>
<text x="159.1" y="320.15" font-size="25.5" textLength="52.6" lengthAdjust="spacingAndGlyphs">−0.5</text>
<text x="266.4" y="320.15" font-size="25.5" text-anchor="middle">0</text>
<text x="330.6" y="320.15" font-size="25.5" textLength="33.6" lengthAdjust="spacingAndGlyphs">0.5</text>
<text x="428.4" y="320.15" font-size="25.5" text-anchor="middle">1</text>
<text x="436.6" y="320.15" font-size="25.5" textLength="32.2" lengthAdjust="spacingAndGlyphs">−1</text>
<text x="507.1" y="320.15" font-size="25.5" textLength="52.6" lengthAdjust="spacingAndGlyphs">−0.5</text>
<text x="614.1" y="320.15" font-size="25.5" text-anchor="middle">0</text>
<text x="678" y="320.15" font-size="25.5" textLength="33.6" lengthAdjust="spacingAndGlyphs">0.5</text>
<text x="775.5" y="320.15" font-size="25.5" text-anchor="middle">1</text>
<text x="105.3" y="675.1" font-size="25.5" text-anchor="middle">0</text>
<text x="169.27" y="675.1" font-size="25.5" textLength="33.6" lengthAdjust="spacingAndGlyphs">0.5</text>
<text x="266.85" y="675.1" font-size="25.5" text-anchor="middle">1</text>
<text x="330.82" y="675.1" font-size="25.5" textLength="33.6" lengthAdjust="spacingAndGlyphs">1.5</text>
<text x="428.4" y="675.1" font-size="25.5" text-anchor="middle">2</text>
<text x="452.7" y="675.1" font-size="25.5" text-anchor="middle">0</text>
<text x="516.6" y="675.1" font-size="25.5" textLength="33.6" lengthAdjust="spacingAndGlyphs">0.5</text>
<text x="614.1" y="675.1" font-size="25.5" text-anchor="middle">1</text>
<text x="678" y="675.1" font-size="25.5" textLength="33.6" lengthAdjust="spacingAndGlyphs">1.5</text>
<text x="775.5" y="675.1" font-size="25.5" text-anchor="middle">2</text>
<text x="107.85" y="1015" font-size="25.5" text-anchor="middle">0</text>
<text x="155.16" y="1015" font-size="25.5" textLength="33.6" lengthAdjust="spacingAndGlyphs">0.2</text>
<text x="219.27" y="1015" font-size="25.5" textLength="33.6" lengthAdjust="spacingAndGlyphs">0.4</text>
<text x="283.38" y="1015" font-size="25.5" textLength="33.6" lengthAdjust="spacingAndGlyphs">0.6</text>
<text x="347.49" y="1015" font-size="25.5" textLength="33.6" lengthAdjust="spacingAndGlyphs">0.8</text>
<text x="428.4" y="1015" font-size="25.5" text-anchor="middle">1</text>
<text x="452.7" y="1015" font-size="25.5" text-anchor="middle">0</text>
<text x="500.46" y="1015" font-size="25.5" textLength="33.6" lengthAdjust="spacingAndGlyphs">0.2</text>
<text x="565.02" y="1015" font-size="25.5" textLength="33.6" lengthAdjust="spacingAndGlyphs">0.4</text>
<text x="629.58" y="1015" font-size="25.5" textLength="33.6" lengthAdjust="spacingAndGlyphs">0.6</text>
<text x="694.14" y="1015" font-size="25.5" textLength="33.6" lengthAdjust="spacingAndGlyphs">0.8</text>
<text x="775.5" y="1015" font-size="25.5" text-anchor="middle">1</text>
<text x="56.6" y="276.01" font-size="25.5" textLength="32.2" lengthAdjust="spacingAndGlyphs">−2</text>
<text x="56.6" y="237.13" font-size="25.5" textLength="32.2" lengthAdjust="spacingAndGlyphs">−1</text>
<text x="88.8" y="198.24" font-size="25.5" text-anchor="end">0</text>
<text x="88.8" y="159.36" font-size="25.5" text-anchor="end">1</text>
<text x="88.8" y="120.48" font-size="25.5" text-anchor="end">2</text>
<text x="88.8" y="81.59" font-size="25.5" text-anchor="end">3</text>
<text x="89.7" y="650.4" font-size="25.5" text-anchor="end">0</text>
<text x="89.7" y="595.04" font-size="25.5" text-anchor="end">1</text>
<text x="89.7" y="539.69" font-size="25.5" text-anchor="end">2</text>
<text x="89.7" y="484.33" font-size="25.5" text-anchor="end">3</text>
<text x="89.7" y="428.98" font-size="25.5" text-anchor="end">4</text>
<text x="58.65" y="990.3" font-size="25.5" textLength="33.6" lengthAdjust="spacingAndGlyphs">0.0</text>
<text x="58.65" y="948.78" font-size="25.5" textLength="33.6" lengthAdjust="spacingAndGlyphs">0.1</text>
<text x="58.65" y="907.27" font-size="25.5" textLength="33.6" lengthAdjust="spacingAndGlyphs">0.2</text>
<text x="58.65" y="865.75" font-size="25.5" textLength="33.6" lengthAdjust="spacingAndGlyphs">0.3</text>
<text x="58.65" y="824.23" font-size="25.5" textLength="33.6" lengthAdjust="spacingAndGlyphs">0.4</text>
<text x="58.65" y="782.72" font-size="25.5" textLength="33.6" lengthAdjust="spacingAndGlyphs">0.5</text>
<text x="58.65" y="741.2" font-size="25.5" textLength="33.6" lengthAdjust="spacingAndGlyphs">0.6</text>
<text x="174.8" y="357.25" font-size="25" textLength="128.5" lengthAdjust="spacingAndGlyphs">Wavevector</text>
<text x="316.4" y="357.25" font-size="22.8" font-style="italic" textLength="11.3" lengthAdjust="spacingAndGlyphs">q</text>
<text x="330.8" y="362.55" font-size="36.2">/</text>
<text x="342.6" y="357.25" font-size="25.5" font-style="italic" textLength="14.6" lengthAdjust="spacingAndGlyphs">π</text>
<text x="522.5" y="357.25" font-size="25" textLength="128.5" lengthAdjust="spacingAndGlyphs">Wavevector</text>
<text x="664.1" y="357.25" font-size="22.8" font-style="italic" textLength="11.3" lengthAdjust="spacingAndGlyphs">q</text>
<text x="678.5" y="362.55" font-size="36.2">/</text>
<text x="690.3" y="357.25" font-size="25.5" font-style="italic" textLength="14.6" lengthAdjust="spacingAndGlyphs">π</text>
<text x="175.25" y="712.2" font-size="25" textLength="128.5" lengthAdjust="spacingAndGlyphs">Wavevector</text>
<text x="316.85" y="712.2" font-size="22.8" font-style="italic" textLength="11.3" lengthAdjust="spacingAndGlyphs">q</text>
<text x="331.25" y="717.5" font-size="36.2">/</text>
<text x="343.05" y="712.2" font-size="25.5" font-style="italic" textLength="14.6" lengthAdjust="spacingAndGlyphs">π</text>
<text x="522.5" y="712.2" font-size="25" textLength="128.5" lengthAdjust="spacingAndGlyphs">Wavevector</text>
<text x="664.1" y="712.2" font-size="22.8" font-style="italic" textLength="11.3" lengthAdjust="spacingAndGlyphs">q</text>
<text x="678.5" y="717.5" font-size="36.2">/</text>
<text x="690.3" y="712.2" font-size="25.5" font-style="italic" textLength="14.6" lengthAdjust="spacingAndGlyphs">π</text>
<text x="176.53" y="1052.1" font-size="25" textLength="128.5" lengthAdjust="spacingAndGlyphs">Wavevector</text>
<text x="318.12" y="1052.1" font-size="22.8" font-style="italic" textLength="11.3" lengthAdjust="spacingAndGlyphs">q</text>
<text x="332.52" y="1057.4" font-size="36.2">/</text>
<text x="344.32" y="1052.1" font-size="25.5" font-style="italic" textLength="14.6" lengthAdjust="spacingAndGlyphs">π</text>
<text x="522.5" y="1052.1" font-size="25" textLength="128.5" lengthAdjust="spacingAndGlyphs">Wavevector</text>
<text x="664.1" y="1052.1" font-size="22.8" font-style="italic" textLength="11.3" lengthAdjust="spacingAndGlyphs">q</text>
<text x="678.5" y="1057.4" font-size="36.2">/</text>
<text x="690.3" y="1052.1" font-size="25.5" font-style="italic" textLength="14.6" lengthAdjust="spacingAndGlyphs">π</text>
<g transform="translate(41.3,163.03) rotate(-90)">
<text x="-83.6" y="0" font-size="25" textLength="114.5" lengthAdjust="spacingAndGlyphs">Frequency</text>
<text x="40.5" y="0" font-size="23.5" font-style="italic" textLength="15.8" lengthAdjust="spacingAndGlyphs">ω</text>
<text x="58.4" y="5.3" font-size="36.2">/</text>
<text x="71.3" y="0" font-size="27" font-style="italic" textLength="8.6" lengthAdjust="spacingAndGlyphs">t</text>
</g>
<g transform="translate(42.3,517.85) rotate(-90)">
<text x="-83.6" y="0" font-size="25" textLength="114.5" lengthAdjust="spacingAndGlyphs">Frequency</text>
<text x="40.5" y="0" font-size="23.5" font-style="italic" textLength="15.8" lengthAdjust="spacingAndGlyphs">ω</text>
<text x="58.4" y="5.3" font-size="36.2">/</text>
<text x="71.3" y="0" font-size="27" font-style="italic" textLength="8.6" lengthAdjust="spacingAndGlyphs">t</text>
</g>
<g transform="translate(37.9,857.75) rotate(-90)">
<text x="-83.6" y="0" font-size="25" textLength="114.5" lengthAdjust="spacingAndGlyphs">Frequency</text>
<text x="40.5" y="0" font-size="23.5" font-style="italic" textLength="15.8" lengthAdjust="spacingAndGlyphs">ω</text>
<text x="58.4" y="5.3" font-size="36.2">/</text>
<text x="71.3" y="0" font-size="27" font-style="italic" textLength="8.6" lengthAdjust="spacingAndGlyphs">t</text>
</g>
<text x="137.59" y="99.5" font-size="27.6">(</text>
<text x="173.72" y="99.5" font-size="27.6">)</text>
<text x="147.2" y="99.5" font-size="25" textLength="25" lengthAdjust="spacingAndGlyphs">a1</text>
<text x="485.49" y="138.9" font-size="27.6">(</text>
<text x="521.62" y="138.9" font-size="27.6">)</text>
<text x="495.1" y="138.9" font-size="25" textLength="26.7" lengthAdjust="spacingAndGlyphs">a2</text>
<text x="139.69" y="427.5" font-size="27.6">(</text>
<text x="177.92" y="427.5" font-size="27.6">)</text>
<text x="149.4" y="427.5" font-size="25" textLength="26.9" lengthAdjust="spacingAndGlyphs">b1</text>
<text x="487.59" y="427.3" font-size="27.6">(</text>
<text x="525.42" y="427.3" font-size="27.6">)</text>
<text x="498.9" y="427.3" font-size="25" textLength="25.1" lengthAdjust="spacingAndGlyphs">b2</text>
<text x="237.19" y="781.4" font-size="27.6">(</text>
<text x="271.62" y="781.4" font-size="27.6">)</text>
<text x="245.9" y="781.4" font-size="25" textLength="24.75" lengthAdjust="spacingAndGlyphs">c1</text>
<text x="534.09" y="781.2" font-size="27.6">(</text>
<text x="568.52" y="781.2" font-size="27.6">)</text>
<text x="543.25" y="781.2" font-size="25" textLength="24.55" lengthAdjust="spacingAndGlyphs">c2</text>
<text x="236.2" y="139.7" font-size="25" textLength="73.5" lengthAdjust="spacingAndGlyphs">Stoner</text>
<text x="222.5" y="161.9" font-size="25" textLength="111" lengthAdjust="spacingAndGlyphs">transition</text>
<text x="530.5" y="69.4" font-size="25" textLength="148" lengthAdjust="spacingAndGlyphs">free-fermions</text>
<text x="689.5" y="69.4" font-size="25" textLength="54.5" lengthAdjust="spacingAndGlyphs">band</text>
<text x="529.8" y="96.8" font-size="25" textLength="143" lengthAdjust="spacingAndGlyphs">”incoherent”</text>
<text x="686.8" y="96.8" font-size="25" textLength="54.5" lengthAdjust="spacingAndGlyphs">band</text>
</svg></body></html>
